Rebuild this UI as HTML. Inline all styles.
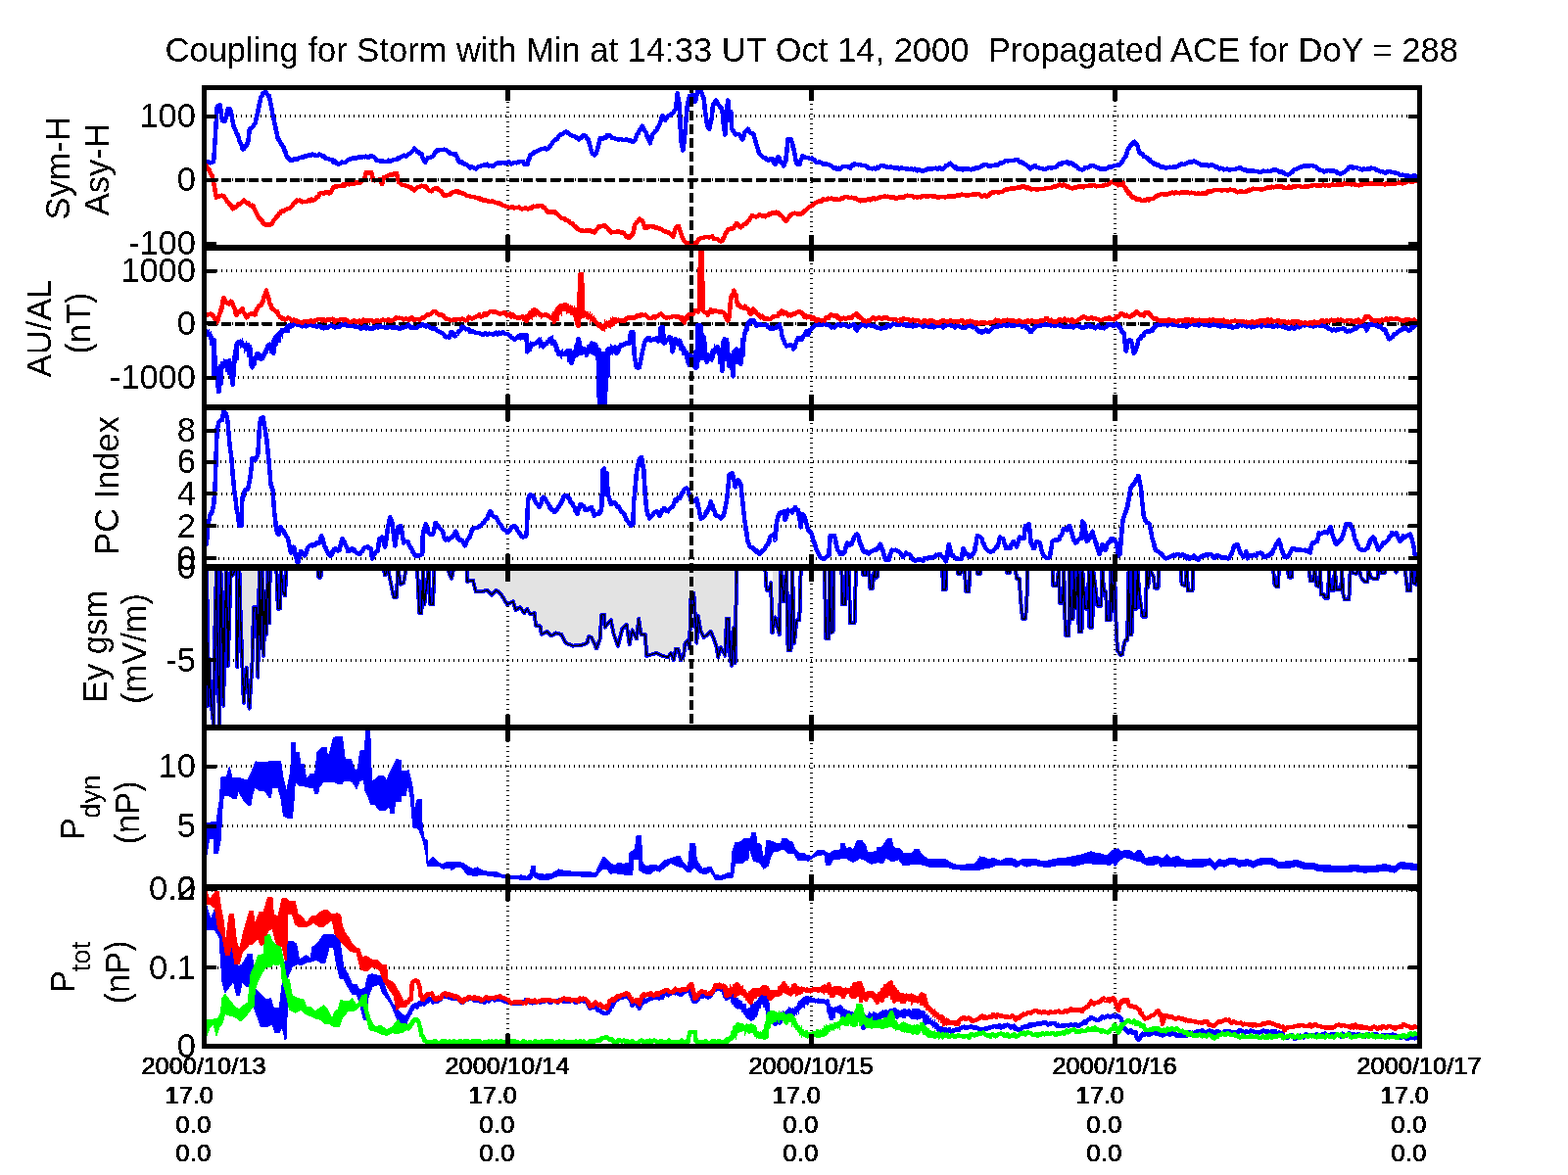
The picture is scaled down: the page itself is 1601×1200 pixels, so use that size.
<!DOCTYPE html><html><head><meta charset="utf-8"><title>Coupling for Storm</title><style>html,body{margin:0;padding:0;background:#fff;overflow:hidden}svg{display:block}text{font-family:'Liberation Sans',Arial,Helvetica,sans-serif;fill:#000}</style></head><body>
<svg width="1601" height="1200" viewBox="0 0 1601 1200">
<rect x="0" y="0" width="1601" height="1200" fill="#fff"/>
<filter id="bin0" filterUnits="userSpaceOnUse" x="0" y="0" width="1601" height="1200"><feComponentTransfer><feFuncA type="discrete" tableValues="0 1"/></feComponentTransfer></filter><g filter="url(#bin0)"><text x="168.5" y="62.5" font-size="34.5" style="white-space:pre" textLength="1320.5" lengthAdjust="spacingAndGlyphs">Coupling for Storm with Min at 14:33 UT Oct 14, 2000  Propagated ACE for DoY = 288</text></g>
<line x1="211.0" y1="183.5" x2="1447.0" y2="183.5" stroke="#000" stroke-width="3" stroke-dasharray="1 4" stroke-dashoffset="4" shape-rendering="crispEdges"/>
<line x1="211.0" y1="118.5" x2="1447.0" y2="118.5" stroke="#000" stroke-width="3" stroke-dasharray="1 4" stroke-dashoffset="0" shape-rendering="crispEdges"/>
<line x1="518.5" y1="250.0" x2="518.5" y2="92.0" stroke="#000" stroke-width="3" stroke-dasharray="1 4" stroke-dashoffset="0" shape-rendering="crispEdges"/>
<line x1="828.5" y1="250.0" x2="828.5" y2="92.0" stroke="#000" stroke-width="3" stroke-dasharray="1 4" stroke-dashoffset="2" shape-rendering="crispEdges"/>
<line x1="1138.5" y1="250.0" x2="1138.5" y2="92.0" stroke="#000" stroke-width="3" stroke-dasharray="1 4" stroke-dashoffset="4" shape-rendering="crispEdges"/>
<line x1="211.0" y1="385.5" x2="1447.0" y2="385.5" stroke="#000" stroke-width="3" stroke-dasharray="1 4" stroke-dashoffset="3" shape-rendering="crispEdges"/>
<line x1="211.0" y1="330" x2="1447.0" y2="330" stroke="#000" stroke-width="3" stroke-dasharray="1 4" stroke-dashoffset="4" shape-rendering="crispEdges"/>
<line x1="211.0" y1="276.5" x2="1447.0" y2="276.5" stroke="#000" stroke-width="3" stroke-dasharray="1 4" stroke-dashoffset="0" shape-rendering="crispEdges"/>
<line x1="518.5" y1="413.0" x2="518.5" y2="256.0" stroke="#000" stroke-width="3" stroke-dasharray="1 4" stroke-dashoffset="0" shape-rendering="crispEdges"/>
<line x1="828.5" y1="413.0" x2="828.5" y2="256.0" stroke="#000" stroke-width="3" stroke-dasharray="1 4" stroke-dashoffset="2" shape-rendering="crispEdges"/>
<line x1="1138.5" y1="413.0" x2="1138.5" y2="256.0" stroke="#000" stroke-width="3" stroke-dasharray="1 4" stroke-dashoffset="4" shape-rendering="crispEdges"/>
<line x1="211.0" y1="570" x2="1447.0" y2="570" stroke="#000" stroke-width="3" stroke-dasharray="1 4" stroke-dashoffset="3" shape-rendering="crispEdges"/>
<line x1="211.0" y1="537" x2="1447.0" y2="537" stroke="#000" stroke-width="3" stroke-dasharray="1 4" stroke-dashoffset="4" shape-rendering="crispEdges"/>
<line x1="211.0" y1="504" x2="1447.0" y2="504" stroke="#000" stroke-width="3" stroke-dasharray="1 4" stroke-dashoffset="0" shape-rendering="crispEdges"/>
<line x1="211.0" y1="471.5" x2="1447.0" y2="471.5" stroke="#000" stroke-width="3" stroke-dasharray="1 4" stroke-dashoffset="1" shape-rendering="crispEdges"/>
<line x1="211.0" y1="439.5" x2="1447.0" y2="439.5" stroke="#000" stroke-width="3" stroke-dasharray="1 4" stroke-dashoffset="2" shape-rendering="crispEdges"/>
<line x1="518.5" y1="576.0" x2="518.5" y2="419.0" stroke="#000" stroke-width="3" stroke-dasharray="1 4" stroke-dashoffset="0" shape-rendering="crispEdges"/>
<line x1="828.5" y1="576.0" x2="828.5" y2="419.0" stroke="#000" stroke-width="3" stroke-dasharray="1 4" stroke-dashoffset="2" shape-rendering="crispEdges"/>
<line x1="1138.5" y1="576.0" x2="1138.5" y2="419.0" stroke="#000" stroke-width="3" stroke-dasharray="1 4" stroke-dashoffset="4" shape-rendering="crispEdges"/>
<line x1="211.0" y1="674" x2="1447.0" y2="674" stroke="#000" stroke-width="3" stroke-dasharray="1 4" stroke-dashoffset="3" shape-rendering="crispEdges"/>
<line x1="518.5" y1="740.0" x2="518.5" y2="583.0" stroke="#000" stroke-width="3" stroke-dasharray="1 4" stroke-dashoffset="0" shape-rendering="crispEdges"/>
<line x1="828.5" y1="740.0" x2="828.5" y2="583.0" stroke="#000" stroke-width="3" stroke-dasharray="1 4" stroke-dashoffset="2" shape-rendering="crispEdges"/>
<line x1="1138.5" y1="740.0" x2="1138.5" y2="583.0" stroke="#000" stroke-width="3" stroke-dasharray="1 4" stroke-dashoffset="4" shape-rendering="crispEdges"/>
<line x1="211.0" y1="843.5" x2="1447.0" y2="843.5" stroke="#000" stroke-width="3" stroke-dasharray="1 4" stroke-dashoffset="4" shape-rendering="crispEdges"/>
<line x1="211.0" y1="782.5" x2="1447.0" y2="782.5" stroke="#000" stroke-width="3" stroke-dasharray="1 4" stroke-dashoffset="0" shape-rendering="crispEdges"/>
<line x1="518.5" y1="903.0" x2="518.5" y2="746.0" stroke="#000" stroke-width="3" stroke-dasharray="1 4" stroke-dashoffset="0" shape-rendering="crispEdges"/>
<line x1="828.5" y1="903.0" x2="828.5" y2="746.0" stroke="#000" stroke-width="3" stroke-dasharray="1 4" stroke-dashoffset="2" shape-rendering="crispEdges"/>
<line x1="1138.5" y1="903.0" x2="1138.5" y2="746.0" stroke="#000" stroke-width="3" stroke-dasharray="1 4" stroke-dashoffset="4" shape-rendering="crispEdges"/>
<line x1="211.0" y1="988" x2="1447.0" y2="988" stroke="#000" stroke-width="3" stroke-dasharray="1 4" stroke-dashoffset="4" shape-rendering="crispEdges"/>
<line x1="518.5" y1="1066.0" x2="518.5" y2="909.0" stroke="#000" stroke-width="3" stroke-dasharray="1 4" stroke-dashoffset="0" shape-rendering="crispEdges"/>
<line x1="828.5" y1="1066.0" x2="828.5" y2="909.0" stroke="#000" stroke-width="3" stroke-dasharray="1 4" stroke-dashoffset="2" shape-rendering="crispEdges"/>
<line x1="1138.5" y1="1066.0" x2="1138.5" y2="909.0" stroke="#000" stroke-width="3" stroke-dasharray="1 4" stroke-dashoffset="4" shape-rendering="crispEdges"/>
<line x1="211.0" y1="909" x2="1447.0" y2="909" stroke="#000" stroke-width="3" stroke-dasharray="1 4" shape-rendering="crispEdges"/>
<defs>
<clipPath id="c0"><rect x="211.0" y="92.0" width="1236.0" height="158.0"/></clipPath>
<clipPath id="c1"><rect x="211.0" y="256.0" width="1236.0" height="157.0"/></clipPath>
<clipPath id="c2"><rect x="211.0" y="419.0" width="1236.0" height="157.0"/></clipPath>
<clipPath id="c3"><rect x="211.0" y="583.0" width="1236.0" height="157.0"/></clipPath>
<clipPath id="c4"><rect x="211.0" y="746.0" width="1236.0" height="157.0"/></clipPath>
<clipPath id="c5"><rect x="211.0" y="909.0" width="1236.0" height="157.0"/></clipPath>
</defs>
<g clip-path="url(#c0)" shape-rendering="crispEdges">
<path d="M210.8,165.9 L212.7,165.0 L214.5,166.3 L216.3,165.9 L218.1,165.2 L218.2,163.2 L218.3,162.1 L218.4,160.4 L218.5,159.3 L218.6,158.0 L218.8,155.0 L218.9,153.3 L219.0,153.4 L219.1,151.0 L219.2,150.1 L219.3,147.0 L219.4,146.4 L219.5,145.3 L219.6,143.3 L219.7,141.3 L219.8,141.2 L219.9,139.6 L220.0,136.3 L220.1,134.8 L220.2,134.3 L220.2,133.6 L220.3,130.9 L220.4,129.1 L220.5,128.0 L220.6,125.7 L220.7,124.5 L220.8,123.4 L220.9,122.0 L221.0,120.0 L221.1,118.4 L221.2,116.9 L221.3,115.9 L221.4,114.0 L221.5,111.9 L221.6,112.1 L221.7,110.0 L221.8,108.3 L223.2,107.9 L224.7,106.9 L224.9,107.9 L225.1,111.1 L225.3,112.4 L225.6,112.5 L225.8,114.6 L226.0,116.9 L226.2,118.5 L226.4,120.6 L226.7,121.2 L226.9,122.9 L228.3,123.9 L229.8,123.6 L230.2,122.4 L230.5,120.2 L230.9,119.2 L231.3,118.2 L231.6,116.6 L232.0,114.4 L232.3,113.0 L232.7,111.3 L234.2,111.0 L235.6,112.7 L235.9,113.8 L236.2,116.5 L236.5,117.4 L236.8,118.5 L237.1,120.8 L237.4,122.7 L237.7,124.3 L238.0,125.3 L238.3,127.0 L238.5,128.8 L239.2,130.2 L239.8,132.2 L240.4,133.2 L241.0,134.4 L241.7,136.0 L242.3,136.6 L242.9,139.0 L243.5,139.6 L244.1,142.4 L244.6,144.5 L245.2,145.3 L245.8,146.4 L246.3,147.5 L246.9,149.7 L247.5,152.2 L248.0,152.8 L249.0,152.0 L250.1,150.3 L251.1,149.6 L252.1,147.0 L253.1,146.3 L253.3,144.6 L253.5,143.9 L253.7,141.5 L253.9,139.6 L254.0,137.6 L254.2,136.5 L254.4,135.7 L254.6,133.1 L255.6,130.9 L256.5,131.3 L257.5,130.1 L258.5,129.0 L259.4,127.5 L260.4,125.8 L260.8,125.0 L261.1,123.0 L261.5,121.6 L261.9,119.9 L262.2,117.7 L262.6,117.8 L263.0,115.8 L263.3,114.2 L263.7,111.9 L264.0,110.9 L264.3,109.3 L264.6,107.4 L265.0,105.8 L265.3,104.5 L265.6,103.1 L265.9,101.4 L266.3,99.6 L267.3,98.0 L268.4,95.7 L269.5,94.7 L270.6,93.8 L271.7,94.2 L272.8,96.1 L273.9,97.8 L275.0,98.1 L275.3,100.3 L275.6,101.9 L275.9,103.6 L276.2,104.1 L276.5,106.8 L276.8,108.1 L277.0,108.5 L277.3,110.0 L277.6,111.6 L277.9,114.2 L278.2,116.2 L278.6,116.7 L278.9,118.0 L279.2,120.6 L279.5,121.6 L279.9,122.5 L280.2,124.3 L280.5,126.5 L280.8,127.4 L281.2,129.1 L281.5,131.5 L281.8,132.5 L282.1,133.8 L282.5,135.7 L282.8,136.3 L283.1,138.6 L283.4,140.2 L283.8,141.9 L284.8,142.7 L285.8,144.0 L286.8,147.1 L287.8,147.7 L288.9,149.2 L289.4,150.0 L289.9,152.3 L290.4,154.2 L290.9,154.0 L291.5,155.5 L292.0,157.2 L292.5,159.4 L293.6,160.9 L294.7,160.9 L295.8,163.1 L296.9,163.8 L298.3,163.7 L299.8,163.0 L301.3,161.9 L302.7,163.0 L304.2,162.3 L305.6,161.3 L307.1,160.8 L308.5,159.9 L310.0,160.4 L311.5,159.5 L312.9,159.5 L314.4,158.7 L315.8,158.6 L317.5,158.8 L319.2,157.6 L320.8,157.9 L322.5,159.2 L324.2,158.9 L325.8,157.6 L327.5,157.9 L329.0,159.5 L330.4,159.2 L331.9,161.3 L333.3,161.8 L334.8,162.0 L336.3,163.0 L337.7,163.2 L339.2,163.3 L340.6,165.7 L342.1,164.6 L343.5,166.8 L345.0,167.7 L346.5,167.4 L347.9,166.9 L349.4,165.5 L350.8,166.2 L352.3,165.8 L353.8,164.6 L355.2,163.6 L356.7,162.7 L358.1,162.3 L359.7,161.8 L361.3,161.3 L362.8,162.0 L364.4,161.3 L366.0,160.6 L367.6,160.2 L369.1,161.1 L370.7,160.1 L372.3,160.3 L373.8,159.7 L375.4,160.6 L377.0,160.4 L378.5,159.4 L380.0,159.2 L381.5,160.4 L382.9,161.5 L384.4,163.7 L385.8,164.1 L387.3,164.1 L388.8,165.2 L390.4,164.4 L392.0,165.1 L393.6,165.2 L395.2,165.1 L396.9,163.7 L398.5,164.5 L400.1,163.9 L401.7,163.2 L403.3,163.0 L405.0,163.3 L406.7,161.0 L408.3,161.3 L410.0,160.1 L411.5,158.9 L412.9,158.7 L414.4,159.8 L415.8,158.6 L417.3,156.9 L418.8,156.7 L420.2,155.0 L421.2,154.0 L422.2,153.3 L423.1,151.4 L424.1,152.3 L425.1,153.5 L426.0,155.0 L427.5,155.3 L429.0,157.2 L430.4,157.2 L431.0,158.9 L431.6,161.0 L432.2,162.3 L432.8,162.3 L433.5,164.6 L434.1,165.9 L435.0,163.9 L435.9,162.5 L436.8,161.3 L437.7,160.8 L439.2,161.1 L440.6,160.4 L442.1,159.4 L443.0,158.6 L443.9,156.1 L444.8,155.2 L445.7,153.5 L447.4,153.9 L449.0,152.9 L450.7,153.1 L452.3,152.8 L453.8,152.7 L455.2,152.9 L456.7,154.3 L458.1,154.8 L459.6,157.0 L461.0,157.2 L463.2,157.3 L465.4,157.2 L466.0,159.5 L466.6,160.0 L467.2,161.1 L467.8,163.6 L468.3,164.5 L469.8,165.9 L471.3,165.0 L472.7,166.7 L474.2,167.9 L475.6,167.7 L477.1,168.6 L478.5,170.3 L480.0,171.4 L481.5,170.1 L482.9,170.9 L484.4,171.8 L485.8,172.4 L487.3,170.9 L488.8,169.9 L490.2,170.3 L491.7,169.1 L493.1,168.7 L494.6,169.2 L496.0,168.1 L497.5,167.7 L499.0,169.7 L500.4,169.0 L501.9,169.6 L503.3,169.8 L504.8,168.9 L506.3,167.0 L507.7,166.7 L509.5,166.2 L511.4,166.6 L513.2,165.9 L515.0,166.7 L516.8,167.0 L518.5,165.7 L520.3,165.7 L522.0,167.6 L523.8,166.7 L525.5,166.0 L527.3,166.3 L529.0,165.7 L530.8,165.1 L532.5,165.2 L534.0,165.1 L535.4,167.5 L536.9,168.3 L538.3,168.1 L538.8,167.6 L539.2,164.4 L539.6,163.2 L540.0,162.5 L540.4,161.8 L540.8,159.5 L541.3,157.9 L542.7,157.6 L544.2,156.8 L545.6,155.2 L547.1,155.1 L548.5,154.3 L550.0,153.3 L551.5,152.7 L552.9,151.8 L554.4,152.1 L556.3,151.4 L558.3,152.6 L560.2,151.4 L561.1,149.9 L562.0,149.0 L562.8,147.7 L563.7,147.0 L564.6,144.8 L566.0,143.6 L567.5,142.5 L569.0,141.9 L569.9,140.1 L570.9,138.6 L571.9,137.5 L573.3,137.5 L574.8,136.8 L576.3,134.9 L577.7,134.6 L579.2,135.1 L580.6,136.4 L582.1,137.4 L583.5,138.3 L585.0,139.0 L586.5,139.4 L587.9,139.8 L589.4,141.2 L590.8,142.6 L592.3,140.7 L593.8,140.5 L595.2,138.5 L596.7,138.2 L597.8,138.7 L598.9,141.1 L600.0,141.6 L601.0,143.3 L601.4,145.4 L601.8,146.2 L602.1,148.4 L602.5,148.5 L602.9,150.6 L603.2,152.7 L603.6,152.7 L604.0,155.0 L604.9,157.1 L605.9,156.8 L606.9,158.6 L607.9,157.5 L608.8,156.2 L609.8,153.5 L610.2,152.6 L610.5,150.1 L610.9,148.1 L611.3,147.4 L611.6,146.6 L612.0,143.8 L612.3,143.5 L612.7,141.1 L614.2,140.8 L615.6,141.9 L617.2,140.4 L618.6,140.5 L620.1,138.0 L621.6,138.2 L623.3,138.8 L625.0,141.0 L626.7,141.1 L628.5,141.9 L630.3,142.3 L632.1,142.4 L634.0,141.9 L635.8,142.7 L637.6,143.0 L639.4,142.3 L641.3,143.3 L642.7,143.7 L644.2,143.6 L645.6,144.8 L647.1,144.5 L648.5,143.3 L649.1,142.0 L649.6,139.6 L650.2,137.5 L650.7,136.8 L651.6,136.4 L652.4,134.7 L653.3,132.9 L654.1,131.5 L655.0,130.8 L655.8,128.8 L656.6,130.1 L657.3,131.5 L658.0,132.8 L658.8,134.1 L659.5,135.1 L660.2,137.5 L660.8,139.3 L661.4,140.3 L662.0,142.0 L662.6,142.5 L663.2,144.5 L663.9,146.3 L664.2,144.1 L664.6,142.6 L664.9,141.4 L665.3,141.1 L665.7,138.8 L666.0,137.5 L667.1,136.2 L668.2,135.5 L669.3,133.7 L670.4,133.1 L671.1,130.7 L671.9,130.3 L672.6,128.8 L673.3,127.3 L673.8,126.0 L674.3,124.0 L674.8,122.9 L675.3,121.4 L675.8,118.9 L676.3,117.8 L677.2,119.5 L678.2,121.2 L679.2,122.9 L680.1,120.9 L681.1,119.8 L682.1,118.5 L683.5,117.7 L685.0,117.4 L686.5,115.6 L687.7,115.0 L688.9,112.3 L690.1,111.3 L690.3,109.9 L690.4,107.1 L690.5,105.6 L690.7,104.9 L690.8,104.0 L691.0,100.9 L691.1,100.6 L691.3,99.2 L691.4,96.4 L691.6,95.2 L691.9,97.3 L692.2,99.2 L692.5,100.0 L692.8,102.3 L693.1,104.0 L693.4,105.4 L693.8,106.9 L693.8,109.1 L693.9,110.7 L693.9,112.4 L694.0,113.1 L694.1,113.8 L694.1,115.5 L694.2,116.9 L694.2,119.2 L694.3,121.1 L694.4,121.2 L694.4,123.9 L694.5,125.5 L694.5,126.3 L694.6,128.2 L694.7,129.0 L694.7,131.6 L694.8,131.8 L694.8,135.2 L694.9,136.4 L695.0,137.5 L695.0,138.3 L695.1,141.1 L695.1,142.7 L695.2,143.3 L695.6,144.3 L695.9,147.3 L696.3,149.1 L696.7,150.5 L697.0,152.2 L697.4,153.5 L697.6,151.9 L697.8,151.2 L697.9,149.7 L698.1,147.0 L698.3,146.2 L698.5,143.9 L698.7,141.8 L698.9,140.6 L699.0,138.6 L699.2,138.6 L699.4,137.1 L699.6,134.6 L699.7,132.3 L699.8,131.7 L699.9,129.8 L700.1,127.7 L700.2,126.5 L700.3,124.8 L700.4,124.3 L700.6,121.3 L700.7,120.1 L700.8,119.1 L700.9,116.7 L701.0,116.4 L701.2,114.8 L701.3,113.7 L701.4,110.9 L701.5,109.5 L701.7,108.5 L701.8,106.9 L702.1,105.0 L702.5,104.1 L702.9,102.0 L703.2,101.4 L703.6,100.2 L704.0,98.1 L705.4,98.0 L706.9,96.7 L707.5,99.1 L708.0,99.7 L708.6,101.0 L709.2,103.2 L709.8,104.0 L710.2,103.0 L710.5,101.2 L710.9,99.4 L711.3,97.7 L711.6,95.9 L712.0,95.8 L712.3,93.0 L712.7,92.3 L715.6,92.3 L716.2,94.2 L716.8,95.3 L717.4,97.6 L718.0,98.6 L718.5,99.6 L718.7,102.2 L718.9,102.1 L719.0,104.4 L719.2,106.2 L719.4,107.3 L719.5,109.3 L719.7,110.6 L719.8,112.6 L720.0,114.2 L720.2,114.8 L720.5,117.3 L720.7,118.9 L721.0,120.3 L721.2,122.1 L721.5,124.5 L721.7,125.9 L721.9,127.1 L722.2,128.8 L723.3,130.5 L724.4,131.7 L724.7,129.7 L725.1,127.7 L725.5,125.6 L725.8,124.4 L726.2,123.4 L726.6,121.5 L726.7,120.6 L726.9,118.9 L727.1,116.6 L727.2,116.0 L727.4,113.3 L727.5,112.4 L727.7,109.9 L727.9,109.0 L728.0,106.9 L729.0,106.4 L730.0,103.6 L730.9,102.5 L731.9,103.3 L732.8,105.7 L733.7,106.9 L734.6,108.3 L735.6,109.5 L736.5,110.3 L737.5,112.7 L737.6,114.1 L737.8,115.8 L737.9,117.3 L738.1,119.8 L738.2,120.9 L738.4,122.8 L738.5,124.7 L738.7,126.0 L738.8,127.1 L739.0,128.8 L739.3,131.0 L739.5,132.5 L739.8,134.3 L740.1,136.0 L740.4,137.5 L740.5,135.8 L740.6,134.6 L740.7,133.1 L740.8,132.2 L740.9,130.3 L741.0,128.9 L741.1,127.1 L741.2,125.7 L741.3,123.7 L741.4,121.6 L741.5,119.9 L741.6,119.3 L741.7,118.0 L741.8,115.8 L741.9,114.2 L742.1,111.8 L742.3,111.5 L742.5,109.1 L742.7,107.4 L742.9,104.9 L743.1,104.2 L743.3,102.5 L743.5,104.6 L743.6,105.5 L743.7,107.0 L743.8,109.1 L743.9,109.4 L744.1,112.0 L744.2,114.5 L744.3,115.5 L744.4,116.5 L744.6,118.7 L744.7,120.1 L744.8,121.5 L745.2,119.1 L745.5,117.2 L745.9,116.8 L746.3,114.2 L746.3,115.3 L746.4,116.5 L746.5,119.6 L746.5,120.6 L746.6,121.9 L746.7,123.8 L746.8,125.9 L746.8,126.3 L746.9,128.9 L747.0,130.2 L747.7,132.1 L748.4,133.8 L749.2,134.1 L749.9,136.3 L750.6,137.5 L752.8,137.0 L755.0,137.5 L756.0,139.3 L756.9,140.2 L757.9,142.6 L758.5,141.6 L759.1,140.1 L759.7,137.5 L760.3,135.6 L760.8,134.6 L762.3,134.1 L763.8,131.7 L764.7,133.5 L765.7,135.3 L766.7,136.0 L768.1,135.8 L769.6,137.5 L770.0,139.8 L770.4,140.7 L770.8,141.5 L771.3,143.2 L771.7,145.3 L772.1,146.8 L772.5,147.7 L773.0,148.5 L773.5,150.9 L774.0,151.4 L774.4,154.5 L774.9,154.9 L775.4,156.5 L776.5,158.4 L777.6,159.1 L778.7,160.0 L779.8,160.8 L781.3,161.3 L782.7,162.8 L784.2,163.8 L785.6,162.5 L787.1,162.1 L788.5,162.3 L789.3,164.2 L790.0,164.9 L790.7,167.2 L791.5,168.1 L792.0,166.0 L792.6,165.4 L793.2,163.8 L793.8,161.3 L794.4,160.1 L795.4,161.0 L796.3,163.3 L797.3,165.2 L798.3,166.7 L799.2,167.3 L800.2,169.6 L800.8,167.5 L801.3,165.8 L801.9,165.4 L802.4,163.8 L802.6,163.0 L802.7,160.1 L802.9,158.1 L803.0,157.9 L803.2,156.6 L803.3,155.3 L803.5,153.0 L803.6,150.9 L803.8,150.4 L804.0,147.4 L804.1,146.9 L804.3,144.2 L804.4,143.2 L804.6,141.9 L807.5,141.9 L807.9,143.3 L808.3,144.5 L808.8,145.6 L809.2,147.2 L809.6,149.8 L810.0,150.6 L810.4,152.1 L810.7,153.9 L811.1,154.7 L811.4,157.4 L811.7,158.2 L812.0,160.4 L812.4,162.6 L812.7,164.4 L813.0,164.1 L813.3,166.7 L814.8,168.0 L816.3,168.1 L816.7,167.4 L817.2,164.8 L817.7,163.5 L818.2,162.5 L818.7,161.7 L819.2,159.4 L820.6,159.9 L822.1,160.8 L824.4,160.8 L826.6,162.0 L828.8,161.6 L830.2,163.2 L831.7,163.1 L833.1,165.7 L834.6,165.9 L836.4,165.3 L838.2,166.0 L840.1,167.4 L841.9,167.4 L843.3,166.9 L844.8,168.0 L846.3,168.0 L847.7,169.1 L849.2,169.6 L850.6,171.2 L852.1,172.2 L853.5,171.4 L855.0,173.2 L856.5,171.6 L857.9,172.5 L859.4,171.0 L861.3,169.9 L863.3,170.1 L865.2,170.3 L866.7,170.3 L868.1,171.8 L869.2,169.9 L870.3,168.6 L871.4,168.8 L872.5,167.4 L874.4,168.1 L876.4,168.3 L878.3,168.1 L879.8,169.2 L881.3,169.2 L882.7,169.0 L884.2,169.6 L885.6,170.6 L887.1,172.0 L888.5,171.8 L890.5,172.3 L892.4,171.7 L894.4,172.5 L895.8,170.7 L897.3,171.5 L898.8,169.9 L900.2,168.9 L901.7,169.0 L903.1,169.9 L904.6,170.3 L906.0,170.7 L907.5,171.0 L909.3,170.3 L911.1,171.1 L913.0,171.4 L914.8,171.8 L916.6,171.2 L918.4,172.5 L920.3,171.6 L922.1,171.8 L923.8,172.2 L925.6,172.5 L927.3,172.7 L929.1,172.8 L930.8,172.5 L932.6,173.3 L934.3,172.6 L936.1,174.3 L937.8,173.0 L939.6,174.0 L941.3,174.7 L943.1,174.4 L944.8,174.2 L946.6,172.5 L948.3,173.2 L949.8,172.0 L951.3,173.1 L952.7,172.1 L954.2,171.8 L955.9,171.7 L957.7,173.0 L959.4,171.3 L961.2,172.4 L962.9,172.5 L964.4,171.2 L965.8,169.3 L967.3,168.9 L968.8,167.6 L970.2,166.7 L971.7,168.5 L973.1,169.6 L974.6,171.3 L976.0,170.6 L977.5,172.5 L979.3,172.7 L981.0,172.0 L982.8,173.5 L984.5,172.3 L986.3,173.2 L988.0,172.2 L989.8,172.7 L991.5,173.3 L993.3,172.3 L995.0,172.5 L996.5,171.2 L997.9,171.9 L999.4,171.4 L1000.8,170.9 L1002.3,169.6 L1003.8,168.7 L1005.2,168.5 L1006.7,168.1 L1008.1,168.3 L1009.6,169.7 L1011.0,170.3 L1012.5,169.4 L1014.0,168.9 L1015.4,169.2 L1016.9,168.1 L1018.3,168.7 L1019.8,167.6 L1021.3,166.2 L1022.7,166.7 L1024.2,166.0 L1025.6,164.6 L1027.1,163.8 L1029.0,164.7 L1030.8,163.8 L1032.4,164.0 L1034.0,164.1 L1035.6,163.7 L1037.3,163.2 L1038.9,163.0 L1040.1,164.7 L1041.4,165.5 L1042.7,165.3 L1044.0,166.7 L1045.4,166.7 L1046.9,167.9 L1048.3,168.9 L1049.5,170.1 L1050.8,170.5 L1052.0,172.5 L1053.2,171.2 L1054.4,170.7 L1055.6,169.6 L1057.1,169.2 L1058.5,171.2 L1060.0,171.0 L1061.6,171.9 L1063.3,171.8 L1064.9,172.3 L1066.6,173.2 L1068.3,172.2 L1070.0,171.4 L1071.7,171.0 L1073.6,171.5 L1075.6,171.0 L1077.5,171.0 L1079.0,169.9 L1080.4,167.9 L1081.9,167.4 L1083.3,167.9 L1084.8,166.3 L1086.3,166.0 L1087.7,165.9 L1089.5,165.3 L1091.4,167.3 L1093.2,166.4 L1095.0,166.7 L1096.5,168.5 L1097.9,169.5 L1099.4,169.6 L1100.8,171.7 L1102.3,172.6 L1103.8,173.2 L1105.2,173.4 L1106.7,172.6 L1108.1,171.0 L1110.3,171.3 L1112.5,170.3 L1114.3,168.9 L1116.1,168.9 L1118.0,170.0 L1119.8,171.0 L1121.5,171.5 L1123.3,172.6 L1125.0,172.5 L1126.8,172.6 L1128.5,172.5 L1130.0,172.3 L1131.5,170.8 L1132.9,170.3 L1134.7,170.8 L1136.6,169.9 L1138.4,169.0 L1140.2,168.9 L1141.7,168.1 L1143.1,168.4 L1144.6,166.7 L1145.7,165.3 L1146.8,163.1 L1147.9,161.6 L1149.0,160.8 L1149.4,159.8 L1149.9,158.0 L1150.4,157.3 L1150.9,154.4 L1151.4,153.4 L1151.9,152.1 L1153.1,151.1 L1154.3,148.3 L1155.5,147.7 L1157.0,145.4 L1158.4,144.8 L1159.4,146.3 L1160.4,147.2 L1161.4,149.2 L1161.8,149.8 L1162.2,151.6 L1162.7,153.8 L1163.1,155.1 L1163.5,156.5 L1165.0,156.5 L1166.5,157.4 L1167.9,159.8 L1169.4,160.2 L1170.8,160.8 L1171.9,161.3 L1173.0,163.7 L1174.1,163.2 L1175.2,165.2 L1176.7,165.7 L1178.1,167.4 L1179.6,167.4 L1181.0,168.5 L1182.5,168.4 L1184.0,169.6 L1185.7,170.7 L1187.5,170.4 L1189.2,171.2 L1191.0,171.5 L1192.7,171.0 L1194.5,170.7 L1196.4,171.0 L1198.2,170.6 L1200.0,170.3 L1201.5,170.5 L1202.9,169.5 L1204.4,168.6 L1205.8,167.4 L1207.8,167.8 L1209.7,167.9 L1211.7,166.7 L1213.1,165.7 L1214.6,165.2 L1216.0,165.8 L1217.5,165.5 L1219.0,164.5 L1220.4,165.2 L1221.9,165.9 L1223.3,166.5 L1224.8,167.4 L1226.3,168.5 L1227.7,168.7 L1229.2,168.7 L1230.6,168.9 L1232.3,167.9 L1233.9,169.6 L1235.5,168.8 L1237.1,168.2 L1238.8,168.9 L1240.2,169.4 L1241.7,171.1 L1243.1,170.6 L1244.6,172.5 L1246.3,171.7 L1248.1,172.1 L1249.8,173.3 L1251.6,173.0 L1253.3,172.5 L1255.3,173.7 L1257.2,173.1 L1259.2,173.2 L1260.6,172.9 L1262.1,172.5 L1263.5,172.0 L1265.0,171.6 L1266.5,171.0 L1267.9,172.4 L1269.4,173.4 L1270.8,173.0 L1272.3,174.2 L1273.8,174.7 L1275.7,174.3 L1277.6,174.3 L1279.6,174.7 L1281.3,174.8 L1283.1,175.2 L1284.8,175.2 L1286.6,176.2 L1288.3,175.4 L1290.3,174.5 L1292.2,175.2 L1294.2,174.7 L1296.0,175.3 L1297.8,174.4 L1299.6,173.7 L1301.5,173.2 L1302.9,173.4 L1304.4,173.9 L1305.8,175.4 L1307.3,175.8 L1308.8,175.4 L1310.2,176.3 L1311.7,177.4 L1313.1,178.0 L1314.6,178.4 L1316.0,178.3 L1317.2,177.1 L1318.4,176.2 L1319.5,175.9 L1320.7,174.0 L1321.9,173.2 L1323.3,173.1 L1324.8,172.0 L1326.3,171.2 L1327.7,170.8 L1329.2,170.3 L1331.0,169.4 L1332.8,169.7 L1334.6,169.6 L1336.5,169.6 L1338.3,168.8 L1340.1,169.3 L1341.9,169.7 L1343.8,170.3 L1345.2,172.2 L1346.7,172.9 L1348.1,174.0 L1350.1,173.8 L1352.0,175.4 L1354.0,174.7 L1355.8,174.0 L1357.6,174.4 L1359.4,174.6 L1361.3,174.0 L1362.7,175.1 L1364.2,175.3 L1365.6,176.7 L1367.1,176.8 L1368.5,177.6 L1370.0,177.1 L1371.5,175.8 L1372.9,175.8 L1374.4,174.0 L1375.8,173.2 L1377.3,170.7 L1378.8,170.3 L1380.2,169.9 L1381.7,172.0 L1383.1,170.9 L1384.6,170.8 L1386.0,171.6 L1387.5,172.5 L1389.3,172.5 L1391.0,173.4 L1392.8,172.3 L1394.5,172.9 L1396.3,172.5 L1398.1,173.0 L1399.9,171.3 L1401.7,172.2 L1403.5,171.8 L1405.0,173.7 L1406.5,173.7 L1407.9,174.6 L1409.4,175.4 L1411.2,175.1 L1413.0,176.3 L1414.8,176.4 L1416.7,175.4 L1418.5,174.8 L1420.3,175.9 L1422.1,175.8 L1424.0,176.1 L1425.4,177.2 L1426.9,176.8 L1428.3,177.9 L1429.8,179.1 L1431.6,178.6 L1433.4,179.0 L1435.3,179.7 L1437.1,179.1 L1438.8,179.9 L1440.6,179.9 L1442.3,179.9 L1444.1,178.8 L1445.8,179.8" fill="none" stroke="#0000ff" stroke-width="4.5" stroke-linejoin="round" stroke-linecap="round"/>
<path d="M210.8,169.6 L211.7,172.0 L212.5,173.4 L213.3,173.1 L214.2,174.6 L215.0,177.5 L215.8,178.8 L216.7,179.8 L217.0,181.7 L217.3,182.5 L217.6,184.7 L217.9,186.3 L218.2,187.8 L218.5,188.5 L218.9,190.6 L219.2,192.1 L219.5,194.3 L219.8,196.4 L220.1,197.9 L220.4,198.6 L220.7,200.0 L221.0,201.7 L222.9,200.8 L224.7,200.0 L226.5,199.6 L228.3,200.2 L229.3,201.5 L230.2,202.5 L231.2,203.9 L232.1,206.2 L233.1,206.8 L234.0,208.2 L235.0,208.9 L235.9,209.8 L236.9,211.7 L237.8,213.3 L239.0,211.6 L240.2,211.4 L241.5,211.4 L242.7,209.8 L243.9,207.8 L245.1,208.3 L246.3,207.1 L247.5,206.0 L248.8,204.6 L250.0,206.2 L251.3,206.8 L252.6,207.6 L253.9,207.6 L255.1,209.6 L256.4,210.4 L257.7,209.7 L259.0,211.1 L259.7,213.2 L260.4,214.7 L261.1,215.8 L261.9,217.5 L262.6,219.0 L263.3,220.6 L264.4,222.7 L265.4,223.1 L266.5,225.0 L267.5,225.3 L268.5,227.6 L269.6,228.9 L270.6,229.4 L272.6,229.3 L274.5,229.5 L276.5,229.4 L277.4,229.0 L278.3,227.4 L279.2,225.8 L280.2,224.0 L281.1,223.1 L282.0,222.6 L283.0,220.4 L283.9,220.6 L284.8,218.2 L285.7,218.3 L286.7,216.3 L288.1,215.2 L289.6,215.9 L291.0,214.8 L292.5,213.8 L294.0,213.2 L295.4,212.8 L296.9,211.9 L297.8,210.8 L298.8,209.1 L299.8,207.6 L300.8,207.0 L301.7,206.7 L302.7,204.6 L304.5,205.2 L306.4,204.5 L308.2,206.3 L310.0,206.0 L311.7,206.2 L313.3,206.2 L315.0,204.5 L316.7,205.3 L318.3,203.6 L320.0,204.5 L321.7,203.9 L322.8,202.1 L324.0,200.7 L325.2,200.7 L326.3,197.8 L327.5,197.3 L329.2,197.2 L330.9,197.8 L332.6,196.4 L334.3,196.2 L336.0,197.4 L337.7,196.6 L338.5,194.9 L339.2,194.0 L340.0,192.0 L341.6,190.6 L343.2,190.7 L344.9,189.8 L346.5,190.0 L348.2,189.9 L349.9,188.4 L351.6,189.7 L353.3,187.5 L355.0,188.0 L356.6,188.3 L358.1,186.8 L359.7,187.1 L361.3,188.1 L362.9,186.6 L364.4,186.5 L366.0,187.0 L367.5,186.6 L369.0,185.3 L370.5,183.8 L372.0,184.0 L372.4,183.4 L372.8,180.1 L373.2,178.3 L373.6,177.3 L374.0,176.0 L375.7,176.2 L377.3,176.5 L379.0,176.0 L379.4,176.8 L379.8,178.9 L380.2,179.9 L380.6,182.3 L381.0,184.0 L382.8,184.3 L384.5,184.0 L386.2,184.1 L388.0,183.0 L388.7,185.2 L389.3,187.1 L390.0,188.0 L390.5,186.7 L391.0,184.4 L391.5,182.2 L392.0,181.0 L393.5,180.8 L395.0,180.0 L396.7,179.3 L398.3,178.5 L400.0,179.0 L401.5,177.9 L403.0,177.0 L405.0,177.0 L405.3,179.2 L405.7,179.3 L406.0,181.7 L406.3,182.8 L406.7,184.5 L407.0,186.0 L408.7,186.3 L410.3,188.9 L412.0,189.0 L413.5,189.0 L415.0,190.2 L416.5,190.3 L418.0,191.0 L419.3,190.9 L420.6,192.8 L421.8,192.8 L423.1,194.4 L424.6,192.6 L426.0,191.6 L427.5,191.0 L429.0,190.7 L430.9,189.7 L432.8,190.5 L434.8,190.0 L435.9,191.3 L437.0,193.5 L438.1,194.7 L439.2,195.1 L440.6,195.4 L442.1,193.1 L443.5,192.8 L445.0,192.2 L446.5,192.4 L447.9,193.8 L449.4,194.6 L450.8,195.1 L451.8,197.4 L452.8,198.9 L453.8,200.2 L455.2,199.4 L456.7,199.3 L458.1,199.2 L459.6,198.8 L461.0,196.9 L462.5,196.0 L464.0,195.8 L465.4,195.1 L466.9,194.9 L468.3,196.6 L469.8,196.2 L471.3,197.3 L472.7,197.2 L474.2,198.1 L475.6,198.9 L477.1,200.2 L478.8,199.9 L480.6,200.8 L482.3,201.0 L484.1,201.0 L485.8,201.7 L487.3,202.3 L488.8,201.8 L490.2,203.6 L491.7,203.1 L493.1,204.6 L494.6,204.7 L496.0,204.6 L497.5,205.3 L499.3,205.6 L501.0,206.1 L502.8,205.3 L504.5,206.3 L506.3,206.8 L507.7,207.4 L509.2,207.2 L510.6,207.6 L512.1,209.0 L513.5,210.1 L515.0,209.8 L516.5,210.6 L517.9,211.1 L519.7,212.1 L521.4,211.7 L523.2,211.2 L524.9,212.7 L526.7,211.9 L528.5,212.0 L530.3,211.6 L532.1,213.3 L534.0,213.3 L535.8,212.4 L537.6,212.6 L539.4,213.5 L541.3,212.6 L542.7,212.5 L544.2,210.7 L545.6,211.1 L547.1,210.7 L548.7,210.5 L550.4,210.5 L552.0,209.9 L553.6,210.4 L554.7,211.7 L555.8,211.8 L556.9,213.3 L558.0,214.5 L559.1,216.8 L560.2,217.0 L562.2,215.9 L564.1,217.0 L566.0,216.3 L567.2,216.7 L568.4,218.4 L569.5,219.1 L570.7,220.3 L571.9,221.4 L573.3,222.8 L574.8,223.0 L576.3,223.3 L577.7,225.0 L579.2,225.0 L580.6,225.6 L582.1,227.9 L583.5,228.2 L585.0,228.6 L586.1,230.8 L587.2,231.6 L588.3,231.5 L589.4,233.8 L590.8,234.5 L592.3,235.2 L593.8,235.5 L595.2,235.5 L596.7,235.9 L598.6,235.4 L600.6,235.4 L602.5,235.2 L604.0,236.5 L605.4,236.2 L606.9,237.4 L607.8,236.1 L608.6,234.7 L609.5,234.4 L610.4,232.8 L611.3,230.8 L613.2,231.5 L615.1,231.0 L617.1,230.1 L618.2,230.8 L619.4,232.3 L620.5,233.0 L621.6,234.8 L622.7,235.6 L623.8,237.4 L625.6,236.9 L627.4,237.0 L629.2,237.1 L631.0,235.9 L632.5,236.6 L634.0,237.5 L635.4,237.4 L636.7,237.8 L638.0,239.4 L639.4,241.9 L640.7,241.4 L642.0,243.2 L643.2,242.1 L644.4,240.4 L645.6,240.3 L646.0,237.9 L646.5,238.0 L646.9,236.6 L647.3,234.4 L647.7,231.8 L648.1,230.5 L648.5,229.4 L649.6,227.4 L650.7,226.8 L651.8,225.4 L652.9,223.5 L654.4,224.5 L655.8,225.7 L656.4,227.2 L657.0,227.9 L657.6,230.2 L658.2,232.5 L658.8,233.0 L660.2,233.0 L661.7,231.1 L663.1,231.4 L664.6,230.8 L666.0,231.6 L667.5,231.1 L669.0,232.7 L670.4,232.3 L671.9,232.8 L673.3,233.8 L674.8,233.7 L676.3,234.5 L677.7,236.2 L679.2,236.5 L680.6,236.8 L682.1,237.4 L683.4,237.8 L684.6,239.5 L685.9,239.7 L687.2,241.8 L687.7,240.4 L688.2,239.4 L688.6,236.4 L689.1,235.5 L689.6,233.8 L690.1,232.3 L691.6,231.4 L693.0,230.8 L693.5,232.7 L693.9,234.6 L694.4,235.6 L694.8,236.6 L695.3,239.1 L695.8,239.2 L696.2,241.5 L696.7,242.5 L697.6,244.3 L698.6,245.9 L699.6,246.9 L701.0,248.3 L702.5,247.8 L704.0,249.3 L705.4,249.8 L706.9,249.1 L708.3,249.2 L709.8,248.3 L711.0,248.3 L712.1,246.6 L713.3,244.3 L714.5,244.2 L715.6,243.2 L717.1,243.2 L718.5,243.0 L720.0,241.8 L721.9,242.1 L723.9,242.4 L725.8,241.8 L727.3,241.4 L728.8,243.8 L730.2,243.9 L731.7,244.0 L733.1,244.7 L734.6,245.9 L736.0,246.4 L737.5,246.1 L738.2,243.7 L739.0,243.5 L739.7,241.8 L740.4,239.6 L741.4,237.3 L742.4,236.7 L743.3,234.5 L744.8,234.3 L746.3,233.1 L747.7,234.0 L749.2,233.0 L750.1,230.6 L751.1,229.8 L752.1,227.9 L753.2,228.9 L754.3,229.6 L755.4,231.3 L756.5,232.3 L757.9,231.0 L759.4,229.3 L760.8,228.6 L762.3,228.4 L763.8,225.4 L765.2,225.0 L766.2,222.3 L767.2,221.6 L768.1,219.9 L769.6,221.1 L771.0,221.2 L772.5,221.4 L774.0,220.8 L775.4,219.2 L776.9,219.7 L778.3,220.6 L779.8,220.5 L781.3,221.4 L782.7,220.2 L784.2,219.9 L785.6,218.2 L787.1,218.4 L788.9,217.2 L790.7,218.2 L792.6,216.7 L794.4,217.0 L795.5,218.6 L796.6,219.7 L797.7,220.1 L798.8,221.4 L799.8,222.8 L800.9,224.1 L802.0,225.4 L803.1,225.7 L804.0,223.7 L804.9,222.4 L805.8,221.6 L806.6,220.4 L807.5,219.2 L809.4,218.5 L811.4,217.7 L813.3,218.4 L815.3,218.3 L817.2,218.9 L819.2,217.7 L820.0,217.0 L821.5,215.5 L822.9,214.6 L824.4,213.3 L825.8,211.9 L827.3,210.8 L828.8,209.7 L830.2,209.5 L831.7,207.5 L833.1,207.3 L834.6,206.0 L836.0,205.6 L837.5,205.2 L839.0,205.6 L840.4,203.4 L841.9,203.9 L843.7,204.1 L845.5,202.7 L847.3,203.1 L849.2,202.4 L851.0,203.4 L852.8,203.4 L854.6,203.3 L856.5,203.9 L857.9,204.0 L859.4,201.9 L860.8,202.4 L862.3,201.3 L863.8,200.9 L865.7,201.2 L867.6,202.1 L869.6,201.7 L871.8,202.6 L874.0,202.4 L875.4,203.6 L876.9,204.0 L878.3,205.3 L880.3,204.5 L882.2,204.7 L884.2,204.6 L885.6,203.7 L887.1,203.4 L888.5,204.4 L890.0,203.1 L891.9,202.1 L893.9,203.3 L895.8,202.4 L897.3,201.8 L898.8,201.4 L900.2,200.9 L901.7,200.9 L903.4,200.2 L905.2,201.1 L906.9,200.7 L908.7,201.4 L910.4,201.7 L912.2,201.3 L913.9,202.5 L915.7,202.5 L917.4,201.6 L919.2,201.7 L920.9,201.7 L922.7,201.9 L924.4,200.4 L926.2,199.7 L927.9,200.2 L929.7,200.0 L931.4,200.2 L933.2,201.4 L934.9,201.1 L936.7,201.7 L938.5,201.0 L940.3,201.5 L942.1,200.0 L944.0,200.2 L945.8,200.8 L947.6,200.5 L949.4,200.0 L951.3,200.2 L953.0,201.0 L954.8,200.2 L956.5,201.4 L958.3,201.6 L960.0,200.9 L961.8,200.8 L963.5,201.0 L965.3,201.4 L967.0,200.8 L968.8,200.2 L970.5,200.6 L972.3,200.7 L974.0,200.6 L975.8,200.1 L977.5,199.5 L979.4,200.2 L981.4,198.6 L983.3,198.8 L985.3,199.2 L987.2,199.6 L989.2,199.5 L990.9,198.9 L992.7,198.7 L994.4,198.0 L996.2,199.2 L997.9,198.0 L999.4,198.3 L1000.8,199.1 L1002.3,200.5 L1003.8,200.2 L1005.7,199.3 L1007.6,200.6 L1009.6,199.5 L1011.0,197.8 L1012.5,196.6 L1014.0,196.6 L1015.8,196.1 L1017.6,195.9 L1019.4,196.9 L1021.3,195.8 L1022.7,196.1 L1024.2,195.3 L1025.6,194.1 L1027.1,193.6 L1029.0,193.4 L1030.8,192.9 L1032.8,192.1 L1034.7,193.1 L1036.7,192.2 L1038.4,191.7 L1040.1,191.3 L1041.8,191.7 L1043.5,190.5 L1045.2,190.6 L1046.9,190.7 L1048.3,192.3 L1049.8,191.4 L1051.3,192.2 L1052.7,193.6 L1054.5,193.1 L1056.4,193.2 L1058.2,193.5 L1060.0,193.6 L1061.9,192.9 L1063.9,192.8 L1065.8,192.9 L1067.8,192.2 L1069.7,191.9 L1071.7,192.2 L1073.1,192.0 L1074.6,191.0 L1076.0,190.6 L1077.5,191.0 L1079.0,190.0 L1080.8,188.8 L1082.6,188.6 L1084.4,189.6 L1086.3,188.5 L1087.7,189.1 L1089.2,190.6 L1090.6,190.0 L1092.1,191.5 L1093.5,192.2 L1095.4,192.5 L1097.2,191.1 L1099.0,191.6 L1100.8,190.7 L1102.6,190.8 L1104.3,190.2 L1106.1,191.3 L1107.8,189.9 L1109.6,190.0 L1111.5,189.7 L1113.5,189.8 L1115.4,189.3 L1117.4,189.1 L1119.3,190.4 L1121.3,190.0 L1123.2,190.0 L1125.1,189.7 L1127.1,189.3 L1128.5,188.7 L1130.0,189.0 L1131.5,188.4 L1132.9,187.5 L1134.4,186.1 L1135.8,185.6 L1137.3,186.4 L1138.8,187.5 L1140.2,187.5 L1141.7,189.3 L1143.1,187.5 L1144.6,188.3 L1146.0,186.4 L1146.8,186.9 L1147.5,189.9 L1148.2,190.7 L1149.0,192.5 L1149.7,192.2 L1150.4,194.4 L1151.4,195.2 L1152.4,197.4 L1153.3,197.0 L1154.3,198.5 L1155.3,200.2 L1156.3,201.7 L1157.7,201.6 L1159.2,202.1 L1160.6,203.6 L1162.1,203.9 L1163.9,203.2 L1165.7,205.2 L1167.6,204.7 L1169.4,204.6 L1171.2,203.3 L1173.0,204.7 L1174.8,203.0 L1176.7,203.1 L1178.1,202.2 L1179.6,201.4 L1181.0,199.7 L1182.5,199.5 L1184.3,199.2 L1186.0,198.0 L1187.8,198.0 L1189.5,199.2 L1191.3,198.0 L1192.7,198.3 L1194.2,197.3 L1195.6,197.3 L1197.1,196.6 L1198.9,197.5 L1200.7,196.2 L1202.6,197.1 L1204.4,197.3 L1206.1,196.6 L1207.8,196.5 L1209.5,196.5 L1211.2,196.7 L1212.9,196.4 L1214.6,197.3 L1216.3,196.7 L1218.1,197.1 L1219.8,197.5 L1221.6,198.0 L1223.3,197.3 L1225.0,198.1 L1226.7,197.7 L1228.3,197.3 L1230.0,197.3 L1231.5,197.6 L1232.9,195.6 L1234.4,195.0 L1235.8,196.0 L1237.3,195.1 L1238.8,194.4 L1240.5,193.8 L1242.3,194.1 L1244.0,194.0 L1245.8,194.2 L1247.5,194.4 L1249.3,194.1 L1251.0,193.9 L1252.8,194.5 L1254.5,194.4 L1256.3,193.6 L1257.7,194.1 L1259.2,194.3 L1260.6,194.3 L1262.1,195.6 L1263.5,196.4 L1265.0,195.8 L1266.8,195.1 L1268.5,196.0 L1270.3,195.8 L1272.0,195.6 L1273.8,195.1 L1275.2,193.7 L1276.7,194.3 L1278.1,193.2 L1279.6,192.7 L1281.0,192.9 L1282.7,193.1 L1284.4,193.2 L1286.1,193.2 L1287.8,193.4 L1289.5,193.3 L1291.3,192.9 L1292.7,192.4 L1294.2,191.1 L1295.6,192.2 L1297.1,191.8 L1298.5,190.7 L1300.4,191.4 L1302.2,190.9 L1304.0,189.8 L1305.8,190.7 L1307.7,190.5 L1309.5,190.7 L1311.3,192.1 L1313.1,192.2 L1314.6,191.8 L1316.0,190.7 L1317.5,191.8 L1319.0,191.4 L1320.4,190.0 L1322.1,190.9 L1323.8,190.1 L1325.4,189.9 L1327.1,189.8 L1328.8,191.2 L1330.4,191.0 L1332.1,190.7 L1333.8,190.0 L1335.6,191.0 L1337.3,190.0 L1339.1,189.4 L1340.8,189.3 L1342.6,189.1 L1344.3,189.7 L1346.1,189.2 L1347.8,189.6 L1349.6,189.3 L1351.3,188.5 L1353.1,189.7 L1354.8,188.8 L1356.6,190.1 L1358.3,189.3 L1360.0,188.6 L1361.7,188.7 L1363.4,189.0 L1365.1,188.6 L1366.8,188.7 L1368.5,188.5 L1370.4,189.0 L1372.2,187.2 L1374.0,188.0 L1375.8,187.1 L1377.7,187.8 L1379.5,188.4 L1381.3,188.1 L1383.1,188.5 L1385.3,188.8 L1387.5,189.3 L1389.3,188.6 L1391.1,188.5 L1393.0,187.7 L1394.8,187.8 L1396.6,187.2 L1398.4,187.8 L1400.3,187.2 L1402.1,187.8 L1403.8,187.8 L1405.6,188.0 L1407.3,187.4 L1409.1,187.2 L1410.8,187.8 L1412.6,187.9 L1414.3,188.4 L1416.1,187.0 L1417.8,187.7 L1419.6,187.4 L1421.4,187.6 L1423.2,188.0 L1425.1,187.5 L1426.9,187.1 L1428.7,186.6 L1430.5,186.4 L1432.3,187.5 L1434.2,186.8 L1436.1,186.0 L1438.1,185.0 L1440.0,185.6 L1441.9,186.1 L1443.9,184.5 L1445.8,184.9" fill="none" stroke="#ff0000" stroke-width="4.5" stroke-linejoin="round" stroke-linecap="round"/>
<line x1="208.5" y1="183.5" x2="1449.5" y2="183.5" stroke="#000" stroke-width="4" stroke-dasharray="10 4" stroke-dashoffset="10.5"/>
</g>
<g clip-path="url(#c1)" shape-rendering="crispEdges">
<line x1="208.5" y1="330.5" x2="1449.5" y2="330.5" stroke="#000" stroke-width="4" stroke-dasharray="10 4" stroke-dashoffset="10.5"/>
<path d="M210.8,338.2 L211.9,338.8 L213.0,340.9 L214.1,341.7 L215.2,343.3 L215.7,345.1 L216.2,346.6 L216.7,346.6 L217.2,347.9 L217.6,351.5 L218.1,352.1 L218.3,353.1 L218.4,354.6 L218.6,358.2 L218.8,358.5 L218.9,361.1 L219.1,361.7 L219.3,363.8 L219.4,364.1 L219.6,366.7 L219.7,368.6 L219.9,370.9 L220.1,371.6 L220.2,373.8 L220.4,375.2 L220.6,375.3 L220.7,378.7 L220.9,379.9 L221.0,381.3 L221.2,382.3 L221.4,383.2 L221.6,386.9 L221.8,387.5 L222.0,389.7 L222.1,391.7 L222.3,392.9 L222.5,395.0 L222.7,395.2 L222.9,397.8 L223.0,398.5 L223.2,400.2 L223.4,399.8 L223.6,398.0 L223.8,394.4 L224.0,392.9 L224.1,391.6 L224.3,391.9 L224.5,389.0 L224.7,387.9 L224.9,385.5 L225.1,384.4 L225.2,382.5 L225.4,381.3 L225.7,379.2 L225.9,378.1 L226.1,376.4 L226.4,375.5 L226.6,373.2 L226.9,371.0 L228.3,371.7 L229.8,371.0 L231.3,369.6 L232.7,370.1 L234.2,368.1 L234.3,370.2 L234.5,370.5 L234.7,374.0 L234.9,375.9 L235.1,377.4 L235.3,378.2 L235.4,380.2 L235.6,381.3 L235.9,382.2 L236.3,385.4 L236.6,386.4 L236.9,387.4 L237.2,388.5 L237.5,392.2 L237.8,392.9 L237.9,392.6 L238.0,388.7 L238.1,389.0 L238.2,386.5 L238.3,384.2 L238.4,383.1 L238.5,382.7 L238.6,381.4 L238.7,377.7 L238.8,377.7 L238.9,374.6 L239.0,374.8 L239.1,372.3 L239.2,372.1 L239.3,369.6 L239.5,369.2 L239.7,366.4 L239.9,366.1 L240.1,362.7 L240.3,360.5 L240.5,360.3 L240.7,357.2 L240.9,356.1 L241.1,355.0 L241.3,354.0 L241.5,352.1 L242.9,349.7 L244.4,349.2 L245.8,348.7 L247.3,350.6 L248.3,353.0 L249.2,353.1 L250.2,355.0 L251.7,354.7 L253.1,352.1 L254.2,354.6 L255.3,355.0 L255.5,356.3 L255.7,358.0 L255.8,359.8 L256.0,361.7 L256.2,363.1 L256.3,364.6 L256.5,366.3 L256.7,368.7 L256.8,369.2 L257.0,370.5 L257.2,372.9 L257.3,373.2 L257.5,375.4 L257.9,373.4 L258.3,373.7 L258.8,371.1 L259.2,369.7 L259.6,366.9 L260.0,366.4 L260.4,365.2 L261.4,364.0 L262.4,361.0 L263.3,360.8 L264.1,362.6 L264.8,364.1 L265.5,364.1 L266.3,366.7 L267.3,365.5 L268.4,363.7 L269.5,362.8 L270.6,360.8 L271.2,359.0 L271.8,358.5 L272.4,357.1 L273.0,353.8 L273.5,353.5 L275.0,351.7 L276.5,352.1 L276.9,354.0 L277.4,356.2 L277.9,355.8 L278.4,357.8 L278.9,359.6 L279.4,360.8 L279.5,358.8 L279.7,357.3 L279.8,355.5 L280.0,354.1 L280.1,353.1 L280.3,350.7 L280.4,349.3 L280.5,348.7 L280.7,345.2 L280.8,344.8 L282.3,343.5 L283.8,341.9 L285.2,341.0 L286.7,339.0 L288.1,338.0 L289.6,337.3 L291.0,337.5 L292.0,336.8 L293.0,333.9 L294.0,333.1 L295.4,331.9 L296.9,332.2 L298.3,332.5 L299.8,331.7 L301.6,330.8 L303.4,331.6 L305.3,331.8 L307.1,332.4 L308.9,333.3 L310.7,332.2 L312.6,333.3 L314.4,332.4 L316.2,331.5 L318.0,332.0 L319.8,332.8 L321.7,332.4 L323.1,333.9 L324.6,333.2 L326.0,333.1 L327.5,333.4 L329.0,334.9 L330.4,335.3 L331.9,334.0 L333.3,335.0 L334.8,334.6 L336.3,333.1 L338.1,332.5 L339.9,332.9 L341.7,334.5 L343.5,333.9 L345.0,333.8 L346.5,333.8 L347.9,332.1 L349.4,331.1 L350.8,331.7 L352.7,331.5 L354.5,333.2 L356.3,332.2 L358.1,333.1 L360.0,332.9 L361.8,333.3 L363.6,333.5 L365.4,333.9 L366.9,334.1 L368.3,335.9 L369.8,335.3 L371.3,334.1 L372.7,333.3 L374.2,335.4 L375.6,333.9 L377.1,335.6 L378.5,335.3 L380.0,336.0 L381.5,334.0 L382.9,334.8 L384.4,333.1 L386.2,334.4 L388.0,332.8 L389.8,334.3 L391.7,333.9 L393.4,334.9 L395.2,334.6 L396.9,334.3 L398.7,333.9 L400.4,334.6 L402.2,334.5 L404.1,334.6 L405.9,334.6 L407.7,336.0 L409.2,335.7 L410.6,334.3 L412.1,334.3 L414.0,334.2 L415.8,332.4 L417.3,331.8 L418.8,334.5 L420.2,334.5 L421.7,334.6 L423.1,335.3 L424.6,334.9 L426.0,334.5 L427.5,333.1 L429.4,333.1 L431.4,331.4 L433.3,332.4 L434.8,333.6 L436.3,332.6 L437.7,333.5 L439.2,334.6 L440.6,335.4 L442.1,335.4 L443.5,335.5 L445.0,336.0 L446.5,338.2 L447.9,338.3 L449.4,339.0 L450.8,339.8 L452.3,340.7 L453.8,342.6 L455.2,344.3 L456.7,344.0 L458.1,344.8 L458.9,344.1 L459.6,341.5 L460.3,339.6 L461.0,339.0 L462.3,340.5 L463.5,342.7 L464.7,343.3 L465.6,341.2 L466.5,341.5 L467.4,340.6 L468.3,338.2 L469.4,337.9 L470.5,336.9 L471.6,333.7 L472.7,333.9 L474.2,334.9 L475.6,336.3 L477.1,336.0 L478.5,336.3 L480.0,339.0 L481.9,338.6 L483.9,338.8 L485.8,339.7 L487.3,340.1 L488.8,340.2 L490.2,340.7 L491.7,341.1 L493.6,342.1 L495.6,340.3 L497.5,341.9 L499.4,340.7 L501.4,340.9 L503.3,341.9 L504.8,340.4 L506.3,339.7 L507.7,341.5 L509.2,339.7 L511.1,340.9 L513.1,339.1 L515.0,340.4 L516.5,340.9 L517.9,340.9 L519.4,341.9 L520.8,342.9 L522.3,344.8 L523.8,345.5 L525.2,347.0 L526.7,346.1 L528.1,344.8 L529.6,343.3 L531.0,342.6 L532.5,341.8 L534.0,341.8 L535.4,341.9 L537.6,341.9 L537.7,342.5 L537.7,345.2 L537.8,347.2 L537.9,347.9 L537.9,348.7 L538.0,350.6 L538.1,352.7 L538.1,354.9 L538.2,356.9 L538.3,357.5 L538.3,359.4 L538.9,358.7 L539.5,356.8 L540.1,354.8 L540.7,353.2 L541.3,352.1 L542.7,351.7 L544.2,351.9 L545.6,350.8 L547.1,350.6 L548.3,349.9 L549.5,348.1 L550.7,347.0 L551.5,347.6 L552.2,349.7 L552.9,351.4 L553.6,351.1 L554.4,353.5 L555.5,352.3 L556.6,351.2 L557.7,351.2 L558.8,349.2 L560.2,349.1 L561.7,346.4 L563.1,345.5 L564.0,347.9 L564.9,348.9 L565.8,348.8 L566.6,350.7 L567.5,352.1 L568.0,352.6 L568.5,355.8 L569.0,356.9 L569.4,358.9 L569.9,360.1 L570.4,360.8 L572.4,361.3 L574.3,361.4 L576.3,360.8 L577.7,360.3 L579.2,358.3 L580.6,358.9 L582.1,357.9 L582.3,358.3 L582.5,360.3 L582.6,363.6 L582.8,363.3 L583.0,365.1 L583.2,366.7 L583.4,370.4 L583.5,371.0 L584.0,368.8 L584.4,366.9 L584.8,367.6 L585.2,364.2 L585.6,364.6 L586.0,362.7 L586.5,360.8 L586.9,360.3 L587.3,359.1 L587.8,356.7 L588.2,355.8 L588.6,352.3 L589.1,352.8 L589.5,350.7 L590.0,349.7 L590.4,346.7 L590.8,346.3 L591.2,348.5 L591.5,350.6 L591.8,350.0 L592.1,352.3 L592.5,354.5 L592.8,356.8 L593.1,356.9 L593.4,358.4 L593.8,360.8 L594.7,358.7 L595.7,358.2 L596.7,356.5 L597.6,358.6 L598.6,359.1 L599.6,360.8 L600.2,359.0 L600.8,357.7 L601.5,356.1 L602.1,354.8 L602.7,352.5 L603.3,352.1 L604.0,350.6 L605.4,352.3 L606.9,351.4 L608.3,352.1 L608.7,354.2 L609.1,354.1 L609.4,357.0 L609.8,358.6 L610.2,359.8 L610.5,360.8 L610.6,362.4 L610.6,363.9 L610.7,365.8 L610.7,368.0 L610.7,367.6 L610.8,369.0 L610.8,372.3 L610.9,374.3 L610.9,374.8 L610.9,376.1 L611.0,378.4 L611.0,378.5 L611.1,380.3 L611.1,381.6 L611.2,384.2 L611.2,385.0 L611.2,386.3 L611.3,389.1 L611.3,391.3 L611.4,391.1 L611.4,393.7 L611.4,394.5 L611.5,397.2 L611.5,398.1 L611.6,398.8 L611.6,400.2 L611.7,401.2 L611.7,403.9 L611.7,405.2 L611.8,406.2 L611.8,408.3 L611.9,409.7 L611.9,412.4 L611.9,412.3 L612.0,414.8 L612.0,414.5 L612.1,411.7 L612.1,410.4 L612.2,408.5 L612.2,408.0 L612.2,406.4 L612.3,404.2 L612.3,402.4 L612.4,401.5 L612.4,400.3 L612.4,397.6 L612.5,396.9 L612.5,395.9 L612.6,393.1 L612.6,391.0 L612.7,389.4 L612.7,389.2 L612.7,387.5 L612.8,386.7 L612.8,384.9 L612.9,381.7 L612.9,380.1 L612.9,378.7 L613.0,377.0 L613.0,376.8 L613.1,375.6 L613.1,374.2 L613.2,371.0 L613.2,371.0 L613.2,368.1 L613.3,366.8 L613.3,366.1 L613.4,362.8 L613.4,361.3 L613.4,360.8 L613.5,363.2 L613.5,363.4 L613.6,365.1 L613.6,367.2 L613.7,369.0 L613.7,368.8 L613.7,371.2 L613.8,373.0 L613.8,374.7 L613.9,375.5 L613.9,378.0 L613.9,380.5 L614.0,380.6 L614.0,382.5 L614.1,383.0 L614.1,384.9 L614.2,387.5 L614.2,387.6 L614.2,391.1 L614.3,392.7 L614.3,392.2 L614.4,395.9 L614.4,396.0 L614.4,398.5 L614.5,400.0 L614.5,400.4 L614.6,402.9 L614.6,404.4 L614.7,406.3 L614.7,406.5 L614.7,409.3 L614.8,411.4 L614.8,412.2 L614.9,413.3 L614.9,414.8 L614.9,412.2 L615.0,411.7 L615.0,409.8 L615.1,409.2 L615.1,407.6 L615.2,405.7 L615.2,403.2 L615.2,402.8 L615.3,401.3 L615.3,398.5 L615.4,398.9 L615.4,396.7 L615.4,393.8 L615.5,394.3 L615.5,390.7 L615.6,389.7 L615.6,389.2 L615.7,387.3 L615.7,385.6 L615.7,384.3 L615.8,382.3 L615.8,380.4 L615.9,378.5 L615.9,376.7 L615.9,376.8 L616.0,375.4 L616.0,373.3 L616.1,372.3 L616.1,369.7 L616.2,367.9 L616.2,366.7 L616.2,366.4 L616.3,362.7 L616.3,362.4 L616.4,360.8 L616.4,361.7 L616.4,364.6 L616.5,365.1 L616.5,366.6 L616.6,368.3 L616.6,370.2 L616.7,372.3 L616.7,372.8 L616.7,375.6 L616.8,375.2 L616.8,377.2 L616.9,378.3 L616.9,379.9 L616.9,383.1 L617.0,384.6 L617.0,384.7 L617.1,386.2 L617.1,388.4 L617.2,390.8 L617.2,392.5 L617.2,393.9 L617.3,395.0 L617.3,395.4 L617.4,397.6 L617.4,398.6 L617.4,401.0 L617.5,402.6 L617.5,403.2 L617.6,404.9 L617.6,407.8 L617.7,407.4 L617.7,411.0 L617.7,412.7 L617.8,414.4 L617.8,414.8 L617.9,412.9 L617.9,411.8 L618.0,410.4 L618.0,409.0 L618.0,408.3 L618.1,406.0 L618.1,403.5 L618.2,403.4 L618.2,400.9 L618.3,399.6 L618.3,398.4 L618.4,395.0 L618.4,395.5 L618.4,393.6 L618.5,391.6 L618.5,390.2 L618.6,388.5 L618.6,386.2 L618.7,385.6 L618.7,382.8 L618.8,382.4 L618.8,381.3 L618.8,379.2 L618.9,378.0 L618.9,377.4 L619.0,375.7 L619.0,372.2 L619.1,372.4 L619.1,370.4 L619.2,367.4 L619.2,366.6 L619.2,364.8 L619.3,362.8 L619.3,362.5 L619.4,360.8 L619.9,360.5 L620.3,357.5 L620.8,356.5 L622.3,356.9 L623.8,356.0 L625.2,355.0 L626.3,355.5 L627.4,358.9 L628.5,359.6 L629.6,360.8 L630.3,360.5 L631.0,358.5 L631.8,357.1 L632.5,354.6 L633.2,354.3 L634.0,352.1 L635.4,352.8 L636.9,352.3 L638.3,350.8 L639.8,350.6 L642.7,350.6 L642.9,349.6 L643.1,347.3 L643.3,344.6 L643.5,342.8 L643.8,341.2 L644.0,339.8 L644.2,339.0 L646.4,339.0 L646.4,339.6 L646.5,342.1 L646.6,344.1 L646.7,345.3 L646.8,346.5 L646.9,348.6 L647.0,349.3 L647.1,351.3 L647.2,353.6 L647.3,354.2 L647.4,355.2 L647.4,358.6 L647.5,359.7 L647.6,360.3 L647.7,361.9 L647.8,363.8 L648.1,365.5 L648.4,367.3 L648.8,368.0 L649.1,369.1 L649.4,371.3 L649.7,374.5 L650.0,375.4 L652.9,375.4 L653.2,372.9 L653.6,372.1 L653.9,369.8 L654.2,368.2 L654.5,366.5 L654.9,365.4 L655.2,363.2 L655.5,361.2 L655.8,360.8 L656.2,358.2 L656.6,356.7 L656.9,355.9 L657.3,353.1 L657.7,351.4 L658.0,350.9 L658.4,349.1 L658.8,347.7 L660.2,346.8 L661.7,344.8 L663.1,345.1 L664.6,347.7 L666.0,347.0 L667.5,346.5 L669.0,346.3 L670.4,345.5 L671.9,348.4 L673.3,347.7 L673.5,345.3 L673.7,343.4 L673.9,342.7 L674.1,340.3 L674.2,339.8 L674.4,337.5 L674.6,335.2 L674.8,334.6 L677.0,334.6 L677.1,335.0 L677.1,338.4 L677.2,338.8 L677.3,341.8 L677.3,342.5 L677.4,345.3 L677.5,345.3 L677.6,346.8 L677.6,348.4 L677.7,350.6 L678.8,350.4 L679.9,348.8 L681.0,346.9 L682.1,346.3 L683.5,344.5 L685.0,344.8 L685.2,346.9 L685.3,349.3 L685.5,349.9 L685.6,350.0 L685.8,351.7 L686.0,353.5 L686.1,355.3 L686.3,356.6 L686.5,359.4 L686.8,356.6 L687.2,356.5 L687.6,355.5 L687.9,352.0 L688.3,352.4 L688.6,349.5 L689.0,348.7 L689.4,346.3 L690.8,347.8 L692.3,348.4 L693.8,347.7 L694.3,348.0 L694.9,350.1 L695.5,352.4 L696.1,354.7 L696.7,355.0 L697.8,355.4 L698.9,357.4 L699.9,360.3 L701.0,360.8 L701.3,360.3 L701.6,363.7 L701.9,365.1 L702.2,368.9 L702.5,369.6 L704.0,372.9 L705.4,371.0 L706.9,369.8 L708.3,372.5 L709.8,375.4 L711.3,375.4 L711.3,375.3 L711.4,374.4 L711.4,371.2 L711.5,371.9 L711.5,367.1 L711.6,365.9 L711.6,363.2 L711.7,365.0 L711.7,361.7 L711.8,358.9 L711.8,356.8 L711.9,358.6 L711.9,356.4 L712.0,355.6 L712.0,352.1 L712.1,351.2 L712.1,347.7 L712.2,349.5 L712.2,343.9 L712.3,345.0 L712.3,345.3 L712.4,343.3 L712.4,338.3 L712.5,337.6 L712.5,339.8 L712.6,337.0 L712.6,337.0 L712.7,335.4 L712.7,331.7 L714.2,332.1 L715.6,333.1 L715.7,337.1 L715.9,337.7 L716.0,336.9 L716.1,338.7 L716.2,338.5 L716.4,342.0 L716.5,346.9 L716.6,343.4 L716.7,347.8 L716.8,346.6 L717.0,348.0 L717.1,352.1 L717.5,351.2 L717.8,346.9 L718.2,343.9 L718.5,344.8 L718.7,344.3 L718.8,348.8 L718.9,350.0 L719.0,348.2 L719.2,351.1 L719.3,357.1 L719.4,354.2 L719.5,357.8 L719.6,358.5 L719.8,362.3 L719.9,362.8 L720.0,363.8 L720.4,366.9 L720.7,366.9 L721.1,366.3 L721.5,369.6 L722.9,366.7 L724.4,365.1 L725.8,366.7 L726.3,367.2 L726.8,361.4 L727.3,359.4 L727.8,363.6 L728.3,357.6 L728.8,357.9 L730.2,358.8 L731.7,355.0 L732.8,354.0 L733.9,357.7 L735.0,357.7 L736.0,360.8 L736.2,364.4 L736.3,364.7 L736.4,366.5 L736.6,368.8 L736.7,371.0 L736.8,369.5 L737.0,372.6 L737.1,373.2 L737.2,372.8 L737.4,378.8 L737.5,378.3 L737.6,377.4 L737.7,377.2 L737.8,372.0 L737.9,372.5 L738.0,370.5 L738.1,370.5 L738.2,365.1 L738.3,365.2 L738.4,364.5 L738.5,360.5 L738.6,361.8 L738.8,361.4 L738.9,358.0 L739.0,357.8 L739.1,356.1 L739.2,352.2 L739.3,351.5 L739.4,353.8 L739.5,348.3 L739.6,347.4 L739.7,346.3 L741.9,347.7 L742.0,346.8 L742.2,349.1 L742.4,350.3 L742.6,356.5 L742.7,356.8 L742.9,359.2 L743.1,361.4 L743.3,360.7 L743.4,364.2 L743.6,363.4 L743.8,364.2 L743.9,368.9 L744.1,370.2 L744.3,372.0 L744.5,370.8 L744.6,374.1 L744.8,374.0 L745.0,371.7 L745.3,373.5 L745.5,371.4 L745.8,365.9 L746.0,368.1 L746.3,363.8 L746.4,363.4 L746.6,364.5 L746.8,369.8 L746.9,368.8 L747.1,371.7 L747.3,374.0 L747.4,372.0 L747.6,377.8 L747.8,376.5 L747.9,379.1 L748.1,380.1 L748.3,384.1 L748.4,384.2 L748.5,384.1 L748.5,379.8 L748.6,377.1 L748.6,376.8 L748.7,375.9 L748.7,372.3 L748.8,371.2 L748.8,373.3 L748.9,371.4 L748.9,371.5 L748.9,370.0 L749.0,367.8 L749.0,363.3 L749.1,360.4 L749.1,359.8 L749.2,359.4 L750.6,357.7 L752.1,356.5 L753.1,358.1 L754.0,359.6 L755.0,360.8 L755.2,361.7 L755.5,366.4 L755.7,364.7 L756.0,367.4 L756.2,371.7 L756.5,371.0 L756.6,371.3 L756.8,366.7 L757.0,364.9 L757.2,366.7 L757.4,360.4 L757.6,359.5 L757.7,360.4 L757.9,358.9 L758.1,355.1 L758.3,352.9 L758.5,352.2 L758.6,354.1 L758.8,350.7 L759.0,352.2 L759.2,349.5 L759.4,346.3 L759.7,347.7 L760.1,342.1 L760.5,341.1 L760.8,339.2 L761.2,338.8 L761.6,337.1 L761.9,334.9 L762.3,334.6 L763.0,333.1 L763.8,330.2 L764.5,329.2 L765.2,328.0 L767.4,327.0 L769.6,327.3 L770.3,329.5 L771.0,330.0 L771.8,331.0 L772.5,333.1 L774.0,331.2 L775.4,331.7 L777.2,331.5 L779.1,332.0 L780.9,332.1 L782.7,331.7 L783.8,333.8 L784.9,334.7 L786.0,334.3 L787.1,336.0 L788.5,334.6 L790.0,335.7 L791.5,334.6 L792.9,334.4 L794.4,332.7 L795.8,331.7 L796.2,334.0 L796.6,334.7 L796.9,335.5 L797.3,336.6 L797.7,337.7 L798.0,340.8 L798.4,342.9 L798.8,343.3 L799.4,345.8 L800.0,346.2 L800.6,348.1 L801.3,350.3 L801.9,351.4 L802.5,352.4 L803.1,353.5 L804.6,352.8 L806.0,352.6 L807.5,352.1 L808.5,352.7 L809.4,354.2 L810.4,356.5 L811.0,355.5 L811.5,354.8 L812.1,352.2 L812.6,350.4 L813.2,348.8 L813.7,347.6 L814.2,347.0 L814.8,344.8 L816.3,345.2 L817.7,347.0 L819.2,346.3 L819.9,344.0 L820.6,343.1 L821.4,342.3 L822.1,340.7 L822.8,340.5 L823.5,338.2 L824.0,340.9 L824.4,341.9 L825.3,341.7 L826.1,339.5 L827.0,336.7 L827.9,336.8 L828.8,335.3 L830.2,334.2 L831.7,332.9 L833.1,331.7 L834.9,330.9 L836.8,331.8 L838.6,332.2 L840.4,330.9 L841.9,330.3 L843.3,332.1 L844.8,331.7 L846.3,332.4 L847.7,332.9 L849.2,334.4 L850.6,333.9 L852.1,334.5 L853.5,333.1 L855.0,331.4 L856.5,331.7 L858.3,332.9 L860.1,331.2 L861.9,331.9 L863.8,332.4 L865.9,333.6 L868.1,333.1 L869.6,332.2 L871.0,331.6 L872.5,331.7 L873.0,334.3 L873.6,335.7 L874.1,335.6 L874.7,337.5 L875.9,335.8 L877.1,334.0 L878.3,333.1 L879.8,331.7 L881.3,331.5 L882.7,331.7 L884.5,333.3 L886.4,331.3 L888.2,332.1 L890.0,333.1 L891.5,332.7 L892.9,332.8 L894.4,334.3 L895.8,334.6 L897.7,335.2 L899.5,335.5 L901.3,334.9 L903.1,334.6 L904.6,334.8 L906.0,332.1 L907.5,332.3 L909.0,333.5 L910.4,331.7 L912.1,330.5 L913.8,331.1 L915.4,331.6 L917.1,331.1 L918.8,331.8 L920.4,330.5 L922.1,331.7 L923.7,331.1 L925.3,333.0 L926.9,331.0 L928.6,333.0 L930.2,331.2 L931.8,333.4 L933.4,332.7 L935.0,332.7 L936.7,332.4 L938.5,331.6 L940.3,331.6 L942.1,333.6 L944.0,333.1 L945.6,332.3 L947.2,332.3 L948.8,334.0 L950.4,334.1 L952.1,332.0 L953.7,334.3 L955.3,333.2 L956.9,332.8 L958.5,333.1 L960.2,332.1 L961.8,332.8 L963.4,334.4 L965.0,332.6 L966.6,332.2 L968.3,332.2 L969.9,332.2 L971.5,332.7 L973.1,333.1 L975.0,334.4 L976.8,332.4 L978.6,332.9 L980.4,333.9 L982.2,334.8 L984.1,334.8 L985.9,334.6 L987.7,333.1 L989.5,332.5 L991.4,332.7 L993.2,334.3 L995.0,333.1 L996.1,334.5 L997.2,336.6 L998.3,337.0 L999.4,339.0 L1000.8,338.1 L1002.3,339.7 L1003.8,338.3 L1005.2,338.4 L1006.7,336.8 L1008.1,338.6 L1009.6,339.0 L1010.7,338.0 L1011.8,336.7 L1012.9,335.8 L1014.0,334.6 L1015.4,334.0 L1016.9,333.8 L1018.3,334.1 L1019.8,332.1 L1021.3,332.4 L1023.4,332.3 L1025.6,331.7 L1027.3,332.8 L1028.9,332.6 L1030.5,330.8 L1032.1,332.9 L1033.8,331.7 L1035.4,332.6 L1037.0,331.0 L1038.7,331.3 L1040.3,331.3 L1042.0,331.0 L1043.6,333.5 L1045.2,332.1 L1046.9,332.4 L1047.8,334.6 L1048.8,333.8 L1049.8,336.0 L1050.9,336.2 L1052.0,339.0 L1053.1,338.8 L1054.2,336.8 L1055.1,336.3 L1056.1,335.6 L1057.1,333.1 L1058.9,333.2 L1060.7,332.5 L1062.6,332.7 L1064.4,331.7 L1066.0,330.7 L1067.7,332.0 L1069.4,331.8 L1071.0,331.2 L1072.7,332.5 L1074.4,331.8 L1076.0,332.4 L1077.7,332.5 L1079.3,332.2 L1080.9,332.2 L1082.5,332.4 L1084.1,333.1 L1085.8,334.1 L1087.4,334.1 L1089.0,334.0 L1090.6,333.1 L1092.4,334.0 L1094.3,332.6 L1096.1,334.4 L1097.9,333.1 L1099.7,332.9 L1101.6,332.9 L1103.4,334.2 L1105.2,334.6 L1106.7,334.8 L1108.1,333.3 L1109.6,333.7 L1111.0,332.3 L1112.5,332.4 L1114.0,334.3 L1115.4,333.7 L1116.9,334.5 L1118.3,335.3 L1119.8,333.9 L1121.3,332.4 L1122.7,334.1 L1124.2,335.1 L1125.6,334.7 L1127.1,335.3 L1128.5,334.3 L1130.0,333.8 L1131.5,331.5 L1132.9,331.7 L1134.7,331.5 L1136.4,332.6 L1138.2,332.4 L1139.9,330.5 L1141.7,331.7 L1142.6,334.0 L1143.6,334.3 L1144.6,336.0 L1145.6,338.8 L1146.5,338.6 L1147.5,340.4 L1147.7,341.2 L1147.9,343.6 L1148.0,346.0 L1148.2,346.3 L1148.4,349.0 L1148.6,350.1 L1148.8,350.7 L1149.0,352.1 L1149.1,354.1 L1149.3,355.3 L1149.5,356.8 L1149.7,358.6 L1150.0,357.5 L1150.3,356.5 L1150.6,354.2 L1150.9,351.5 L1151.3,350.1 L1151.6,348.9 L1151.9,347.7 L1154.8,347.7 L1155.2,349.6 L1155.5,350.1 L1155.9,351.5 L1156.3,353.8 L1156.6,355.3 L1157.0,356.3 L1157.3,359.3 L1157.7,360.8 L1158.4,360.5 L1159.2,358.0 L1159.9,357.1 L1160.6,355.0 L1161.0,354.0 L1161.4,352.2 L1161.7,350.6 L1162.1,347.7 L1163.2,346.5 L1164.3,346.0 L1165.4,343.4 L1166.5,343.3 L1167.4,342.9 L1168.4,340.1 L1169.4,339.0 L1171.2,338.5 L1173.0,339.2 L1174.8,337.3 L1176.7,337.5 L1177.6,335.0 L1178.6,334.9 L1179.6,332.4 L1181.5,332.4 L1183.5,330.8 L1185.4,331.7 L1187.0,330.4 L1188.7,331.3 L1190.3,330.4 L1191.9,332.5 L1193.5,330.8 L1195.1,331.1 L1196.8,331.4 L1198.4,331.7 L1200.0,331.7 L1201.8,331.8 L1203.5,332.6 L1205.3,333.0 L1207.0,332.7 L1208.8,333.1 L1210.2,331.7 L1211.7,333.6 L1213.1,332.5 L1214.6,331.7 L1216.4,330.4 L1218.2,331.2 L1220.1,331.8 L1221.9,330.9 L1223.6,332.4 L1225.4,330.1 L1227.1,330.1 L1228.9,331.5 L1230.6,331.7 L1232.3,331.5 L1234.0,332.7 L1235.6,332.5 L1237.3,331.7 L1239.1,331.4 L1240.9,331.8 L1242.8,332.4 L1244.6,332.4 L1246.3,333.5 L1248.1,331.9 L1249.8,332.6 L1251.6,331.9 L1253.3,333.1 L1255.2,333.7 L1257.0,332.3 L1258.8,334.8 L1260.6,333.9 L1262.4,333.6 L1264.3,333.3 L1266.1,331.7 L1267.9,332.4 L1269.6,331.8 L1271.3,332.5 L1272.9,333.6 L1274.6,332.9 L1276.3,332.4 L1277.9,334.3 L1279.6,333.1 L1281.3,333.4 L1282.9,333.0 L1284.6,332.0 L1286.3,332.2 L1287.9,333.6 L1289.6,331.5 L1291.3,332.4 L1292.9,332.5 L1294.6,332.7 L1296.3,332.0 L1297.9,333.1 L1299.6,333.5 L1301.3,333.3 L1302.9,332.4 L1304.4,333.4 L1305.8,332.4 L1307.3,332.3 L1308.8,333.7 L1310.2,333.7 L1311.7,334.6 L1313.6,334.0 L1315.6,336.0 L1317.5,335.3 L1319.0,334.2 L1320.4,335.4 L1321.9,335.4 L1323.3,333.9 L1325.1,332.6 L1326.8,334.3 L1328.6,332.7 L1330.3,331.9 L1332.1,332.4 L1333.8,331.6 L1335.4,331.2 L1337.1,332.4 L1338.8,332.1 L1340.4,333.3 L1342.1,333.3 L1343.8,332.4 L1345.5,331.5 L1347.2,332.6 L1348.9,332.8 L1350.6,332.5 L1352.3,333.0 L1354.0,333.9 L1355.4,334.2 L1356.9,336.2 L1358.3,336.2 L1359.8,337.5 L1362.0,336.5 L1364.2,337.5 L1365.6,336.3 L1367.1,336.4 L1368.5,336.0 L1370.0,335.8 L1371.5,335.3 L1372.9,335.9 L1374.4,338.3 L1375.8,339.0 L1377.3,337.7 L1378.8,338.3 L1380.2,337.6 L1381.7,336.8 L1383.1,335.0 L1384.6,335.6 L1386.0,333.8 L1387.5,333.1 L1389.4,333.0 L1391.4,332.9 L1393.3,332.4 L1394.1,334.4 L1394.8,335.7 L1395.5,337.5 L1396.1,334.9 L1396.6,335.3 L1397.2,334.1 L1397.7,331.7 L1399.5,331.6 L1401.4,331.9 L1403.2,331.1 L1405.0,331.7 L1406.5,333.4 L1407.9,333.6 L1409.4,333.1 L1410.8,335.4 L1412.3,336.6 L1413.8,336.0 L1414.4,337.1 L1415.0,340.2 L1415.6,340.4 L1416.3,341.0 L1416.9,343.9 L1417.5,344.4 L1418.1,346.3 L1419.6,346.1 L1421.0,344.8 L1422.2,343.8 L1423.4,341.4 L1424.5,341.4 L1425.7,341.0 L1426.9,339.0 L1428.3,338.0 L1429.8,337.3 L1431.3,337.3 L1432.7,335.3 L1434.2,334.6 L1435.6,335.5 L1437.1,336.7 L1438.5,337.5 L1439.8,337.4 L1441.0,334.8 L1442.2,333.5 L1443.4,334.3 L1444.6,332.8 L1445.8,331.7" fill="none" stroke="#0000ff" stroke-width="4.5" stroke-linejoin="round" stroke-linecap="round"/>
<path d="M211.0,339.1 L212.0,341.5 L213.0,339.6 L214.0,343.2 L215.0,341.5 L216.0,352.4 L217.0,344.1 L218.0,384.5 L219.0,345.3 L220.0,385.6 L221.0,381.2 L222.0,394.1 L223.0,382.7 L224.0,391.6 L225.0,371.6 L226.0,393.9 L227.0,372.4 L228.0,373.8 L229.0,369.9 L230.0,372.9 L231.0,370.1 L232.0,379.4 L233.0,372.5 L234.0,383.2 L235.0,368.6 L236.0,386.4 L237.0,369.5 L238.0,381.8 L239.0,363.0 L240.0,369.4 L241.0,358.6 L242.0,368.2 L243.0,350.8 L244.0,350.7 L245.0,349.2 L246.0,352.4 L247.0,350.2 L248.0,354.8 L249.0,351.2 L250.0,356.0 L251.0,353.1 L252.0,358.5 L253.0,354.9 L254.0,365.3 L255.0,352.2 L256.0,373.8 L257.0,364.5 L258.0,376.6 L259.0,364.1 L260.0,373.4 L261.0,363.2 L262.0,366.8 L263.0,360.7 L264.0,368.1 L265.0,363.3 L266.0,367.5 L267.0,360.9 L268.0,367.7 L269.0,362.1 L270.0,363.3 L271.0,357.4 L272.0,360.7 L273.0,354.4 L274.0,357.7 L275.0,352.7 L276.0,356.8 L277.0,353.9 L278.0,361.0 L279.0,347.1 L280.0,359.5 L281.0,344.5 L282.0,353.5 L283.0,343.2 L284.0,349.8 L285.0,341.7 L286.0,344.4 L287.0,339.3 L288.0,341.5 L289.0,335.4 L290.0,339.9 L291.0,334.9 L292.0,338.8 L293.0,334.3 L294.0,340.1 L295.0,334.2 L296.0,334.8 L297.0,334.2 L298.0,334.0 L299.0,333.6 L300.0,333.3" fill="none" stroke="#0000ff" stroke-width="3" stroke-linejoin="miter" stroke-linecap="butt"/>
<path d="M530.0,343.8 L531.0,345.4 L532.0,343.5 L533.0,345.0 L534.0,343.2 L535.0,345.0 L536.0,344.2 L537.0,349.3 L538.0,347.4 L539.0,357.9 L540.0,351.3 L541.0,358.6 L542.0,351.7 L543.0,353.6 L544.0,351.3 L545.0,352.1 L546.0,350.7 L547.0,351.2 L548.0,349.8 L549.0,350.3 L550.0,348.1 L551.0,351.9 L552.0,349.2 L553.0,354.7 L554.0,351.5 L555.0,354.0 L556.0,352.1 L557.0,352.5 L558.0,349.7 L559.0,350.7 L560.0,347.7 L561.0,348.7 L562.0,346.6 L563.0,349.6 L564.0,346.6 L565.0,351.1 L566.0,350.7 L567.0,355.0 L568.0,353.3 L569.0,359.4 L570.0,357.6 L571.0,363.7 L572.0,360.6 L573.0,363.3 L574.0,360.2 L575.0,363.8 L576.0,359.5 L577.0,363.6 L578.0,358.2 L579.0,363.8 L580.0,359.2 L581.0,369.8 L582.0,360.9 L583.0,369.5 L584.0,360.7 L585.0,368.6 L586.0,360.7 L587.0,364.4 L588.0,352.2 L589.0,364.5 L590.0,349.3 L591.0,363.0 L592.0,347.8 L593.0,361.5 L594.0,356.1 L595.0,360.9 L596.0,356.3 L597.0,361.8 L598.0,357.2 L599.0,364.3 L600.0,358.0 L601.0,360.7 L602.0,353.7 L603.0,359.1 L604.0,353.0 L605.0,361.8 L606.0,351.6 L607.0,362.4 L608.0,353.1 L609.0,364.2 L610.0,361.0 L611.0,380.9 L612.0,355.5 L613.0,399.2 L614.0,359.8 L615.0,389.4 L616.0,364.6 L617.0,380.2 L618.0,364.4 L619.0,368.8 L620.0,357.5 L621.0,386.1 L622.0,355.4 L623.0,358.9 L624.0,355.2 L625.0,358.7 L626.0,355.0 L627.0,359.7 L628.0,355.8 L629.0,359.0 L630.0,353.3" fill="none" stroke="#0000ff" stroke-width="3" stroke-linejoin="miter" stroke-linecap="butt"/>
<path d="M690.0,347.0 L691.0,352.3 L692.0,346.2 L693.0,353.4 L694.0,346.9 L695.0,357.4 L696.0,354.2 L697.0,359.1 L698.0,357.3 L699.0,362.9 L700.0,358.4 L701.0,366.5 L702.0,361.7 L703.0,368.4 L704.0,362.4 L705.0,368.3 L706.0,361.6 L707.0,369.4 L708.0,363.3 L709.0,373.6 L710.0,357.6 L711.0,372.3 L712.0,337.4 L713.0,371.1 L714.0,333.7 L715.0,361.6 L716.0,345.6 L717.0,367.5 L718.0,348.7 L719.0,357.8 L720.0,348.9 L721.0,364.3 L722.0,360.0 L723.0,368.8 L724.0,362.8 L725.0,368.3 L726.0,361.0 L727.0,363.8 L728.0,357.8 L729.0,361.0 L730.0,356.2 L731.0,359.2 L732.0,357.6 L733.0,360.4 L734.0,359.7 L735.0,371.9 L736.0,358.3 L737.0,377.1 L738.0,348.4 L739.0,367.4 L740.0,347.0 L741.0,368.7 L742.0,347.0 L743.0,369.3 L744.0,359.5 L745.0,375.9 L746.0,363.5 L747.0,374.5 L748.0,361.7 L749.0,375.7 L750.0,361.3 L751.0,372.1 L752.0,359.5 L753.0,371.7 L754.0,357.0 L755.0,370.0 L756.0,358.4 L757.0,359.9 L758.0,344.7 L759.0,364.6 L760.0,341.0 L761.0,341.9 L762.0,334.0 L763.0,337.7 L764.0,328.9 L765.0,332.7 L766.0,328.7 L767.0,329.6 L768.0,328.5 L769.0,328.8 L770.0,330.2 L771.0,331.6 L772.0,333.0 L773.0,333.0 L774.0,332.7 L775.0,332.6 L776.0,332.7 L777.0,332.7 L778.0,332.8 L779.0,332.8" fill="none" stroke="#0000ff" stroke-width="3" stroke-linejoin="miter" stroke-linecap="butt"/>
<path d="M210.8,322.2 L212.8,321.2 L214.7,320.5 L216.7,321.5 L217.4,322.5 L218.1,323.1 L218.9,324.2 L219.6,326.5 L220.3,329.4 L221.0,329.5 L221.7,328.8 L222.3,327.2 L222.9,324.0 L223.5,323.3 L224.2,321.0 L224.8,319.1 L225.4,318.5 L225.7,315.7 L226.1,314.4 L226.4,315.0 L226.7,313.0 L227.0,311.4 L227.4,309.7 L227.7,306.3 L228.0,305.0 L228.3,304.0 L229.4,305.8 L230.5,307.6 L231.6,309.4 L232.7,309.8 L234.2,310.4 L235.6,307.6 L237.1,308.3 L237.6,310.1 L238.1,311.8 L238.5,312.7 L239.0,313.2 L239.5,315.5 L240.0,315.9 L240.5,319.8 L241.0,321.1 L241.5,321.5 L242.6,320.3 L243.8,318.2 L245.0,318.7 L246.1,316.4 L247.3,314.9 L248.0,317.6 L248.8,319.1 L249.5,319.7 L250.2,321.0 L250.9,323.1 L251.7,324.4 L253.1,323.0 L254.6,320.9 L256.0,320.7 L258.2,320.5 L260.4,321.5 L261.0,320.9 L261.6,317.2 L262.2,315.7 L262.8,316.0 L263.3,314.2 L264.5,312.5 L265.8,312.3 L267.0,311.3 L267.5,309.7 L268.0,307.9 L268.5,308.4 L269.0,304.5 L269.5,303.7 L270.0,301.6 L270.6,301.4 L271.1,298.9 L271.6,297.7 L272.1,296.7 L272.4,298.9 L272.8,299.0 L273.2,301.2 L273.5,303.7 L273.9,302.8 L274.3,304.1 L274.6,306.1 L275.0,308.3 L275.6,310.6 L276.2,311.6 L276.8,311.9 L277.3,313.7 L277.9,315.6 L279.4,315.6 L280.8,317.4 L282.3,318.5 L283.4,318.4 L284.5,321.7 L285.6,323.6 L286.7,323.6 L288.1,325.6 L289.6,325.4 L291.0,326.7 L292.5,325.8 L294.3,324.6 L296.1,325.6 L298.0,327.8 L299.8,326.6 L301.3,327.8 L302.7,327.2 L304.2,329.2 L305.6,328.7 L307.1,328.8 L308.8,329.7 L310.6,328.1 L312.3,327.8 L314.1,328.6 L315.8,328.8 L317.3,327.3 L318.8,327.7 L320.2,329.0 L321.7,327.3 L323.5,326.8 L325.3,325.8 L327.1,325.9 L329.0,327.3 L330.8,326.1 L332.6,327.8 L334.4,326.3 L336.3,326.6 L338.1,326.1 L339.9,325.7 L341.7,328.6 L343.5,327.3 L345.4,327.1 L347.2,326.4 L349.0,326.0 L350.8,327.3 L352.7,326.3 L354.5,327.0 L356.3,328.9 L358.1,328.8 L360.0,327.7 L361.8,327.4 L363.6,328.7 L365.4,328.8 L367.2,327.6 L369.1,329.5 L370.9,326.5 L372.7,327.3 L374.5,327.4 L376.4,328.1 L378.2,327.0 L380.0,327.3 L381.8,328.9 L383.6,327.6 L385.5,327.1 L387.3,328.0 L389.1,327.6 L390.9,326.3 L392.8,327.2 L394.6,327.3 L396.4,326.4 L398.2,328.1 L400.1,327.7 L401.9,326.6 L403.3,326.1 L404.8,324.2 L406.3,325.1 L407.7,324.7 L409.2,325.1 L410.6,325.3 L412.1,326.6 L414.0,325.4 L415.8,325.8 L417.6,326.9 L419.3,324.8 L421.1,324.5 L422.8,327.1 L424.6,325.8 L426.5,325.8 L428.5,326.8 L430.4,325.1 L431.9,323.9 L433.3,324.5 L434.8,322.8 L436.3,321.5 L437.7,321.8 L439.2,321.2 L440.6,320.0 L442.1,318.3 L443.5,318.2 L445.0,318.5 L446.5,320.4 L447.9,321.2 L449.4,322.0 L450.8,321.5 L452.3,322.1 L453.8,324.1 L455.2,325.6 L456.7,325.8 L458.6,326.5 L460.6,327.3 L462.5,326.6 L464.4,326.4 L466.4,326.5 L468.3,325.8 L470.3,326.6 L472.2,325.6 L474.2,326.6 L475.6,327.3 L477.1,326.8 L478.5,323.6 L480.0,324.4 L481.8,325.4 L483.6,325.0 L485.5,323.8 L487.3,322.9 L489.2,321.3 L491.2,323.6 L493.1,322.2 L494.6,320.3 L496.0,322.1 L497.5,320.5 L499.0,319.3 L500.8,317.8 L502.6,317.9 L504.4,319.1 L506.3,318.5 L507.7,319.1 L509.2,320.0 L510.6,320.9 L512.1,320.0 L513.9,319.5 L515.7,319.2 L517.6,322.4 L519.4,321.5 L520.8,320.4 L522.3,323.5 L523.8,321.6 L525.2,324.1 L526.7,323.6 L528.5,324.5 L530.3,324.8 L532.1,323.8 L534.0,323.6 L535.2,326.2 L536.4,325.7 L537.6,328.0 L538.2,327.1 L538.8,324.6 L539.4,324.8 L540.0,323.0 L540.6,320.6 L541.3,319.3 L542.7,318.8 L544.2,316.8 L545.6,316.2 L547.1,317.1 L548.5,318.5 L550.0,319.2 L551.5,321.5 L552.9,321.5 L554.9,322.0 L556.8,320.9 L558.8,322.2 L560.2,322.5 L561.7,324.5 L563.1,324.4 L564.1,325.9 L565.1,325.8 L566.0,328.8 L566.3,328.1 L566.5,326.3 L566.8,322.4 L567.0,322.1 L567.3,319.9 L567.5,318.5 L568.5,317.9 L569.4,315.1 L570.4,314.2 L571.9,312.6 L573.3,312.7 L574.8,313.4 L576.3,311.3 L577.7,311.1 L579.2,312.3 L580.6,314.9 L582.1,315.6 L584.3,317.1 L586.5,316.4 L586.8,317.9 L587.1,319.2 L587.4,322.0 L587.8,323.3 L588.1,322.8 L588.4,326.7 L588.7,326.2 L589.1,328.1 L589.4,330.2 L590.1,332.7 L590.8,333.1 L590.9,331.4 L590.9,331.0 L590.9,327.5 L591.0,328.1 L591.0,324.5 L591.0,322.9 L591.1,322.4 L591.1,320.4 L591.1,319.5 L591.2,319.1 L591.2,317.0 L591.3,313.3 L591.3,312.7 L591.3,311.9 L591.4,310.2 L591.4,309.3 L591.4,307.1 L591.5,304.4 L591.5,303.3 L591.5,303.6 L591.6,301.0 L591.6,299.1 L591.7,298.8 L591.8,298.0 L591.9,295.4 L591.9,294.0 L592.0,292.3 L592.1,289.9 L592.1,290.2 L592.2,287.3 L592.3,287.2 L592.4,283.8 L592.4,284.0 L592.5,282.3 L592.6,279.9 L594.0,279.9 L594.1,281.8 L594.1,282.8 L594.1,283.4 L594.2,286.9 L594.2,287.2 L594.2,289.6 L594.3,289.6 L594.3,291.0 L594.3,292.7 L594.4,296.2 L594.4,295.9 L594.4,299.6 L594.5,299.6 L594.5,301.7 L594.6,302.6 L594.6,304.9 L594.6,304.9 L594.7,307.4 L594.7,310.5 L594.7,309.8 L594.8,312.8 L594.8,313.3 L594.8,314.8 L594.9,315.5 L594.9,317.0 L594.9,320.0 L596.5,321.8 L598.0,322.0 L599.6,321.5 L601.0,323.3 L602.5,324.3 L604.0,324.4 L605.1,326.8 L606.1,325.5 L607.2,327.9 L608.3,328.8 L609.5,329.8 L610.7,331.0 L611.8,333.1 L613.0,333.6 L614.2,333.9 L615.6,335.6 L617.1,334.6 L617.9,332.0 L618.6,332.1 L619.4,330.2 L620.8,330.0 L622.3,329.5 L623.8,328.4 L625.2,328.3 L626.7,326.6 L628.4,326.1 L630.2,328.1 L631.9,326.7 L633.7,327.4 L635.4,327.3 L636.9,328.0 L638.3,326.9 L639.8,325.3 L641.3,324.5 L642.7,324.3 L644.2,324.4 L645.6,324.4 L647.1,325.1 L648.5,324.5 L650.0,322.6 L651.5,322.3 L652.9,323.1 L654.4,321.2 L655.8,321.5 L657.3,321.9 L658.8,321.5 L660.2,322.7 L661.7,324.5 L663.1,325.1 L664.6,325.2 L666.0,324.6 L667.5,323.4 L669.0,324.7 L670.4,322.9 L671.9,322.9 L673.3,321.2 L674.8,320.5 L676.3,321.5 L677.7,323.5 L679.2,324.1 L680.6,324.5 L682.1,324.1 L683.5,324.4 L685.4,323.6 L687.2,322.8 L689.0,323.1 L690.8,323.6 L692.8,323.1 L694.7,325.4 L696.7,324.4 L697.4,327.3 L698.1,328.6 L698.9,329.5 L699.6,326.8 L700.3,325.0 L701.0,323.7 L701.8,325.3 L702.5,321.5 L705.4,321.5 L706.5,318.7 L707.6,320.7 L708.7,319.1 L709.8,317.1 L711.3,316.8 L712.7,318.4 L714.2,315.6 L714.2,312.9 L714.2,312.7 L714.2,309.3 L714.3,307.5 L714.3,305.6 L714.3,305.5 L714.3,303.0 L714.3,301.2 L714.4,304.3 L714.4,299.3 L714.4,300.7 L714.4,298.3 L714.5,296.9 L714.5,295.0 L714.5,294.9 L714.5,293.0 L714.5,290.7 L714.6,288.4 L714.6,287.5 L714.6,286.1 L714.6,283.7 L714.6,282.0 L714.7,278.7 L714.7,280.6 L714.7,277.3 L714.7,273.7 L714.8,272.6 L714.8,274.6 L714.8,270.0 L714.8,269.1 L714.8,269.1 L714.9,268.4 L714.9,264.2 L714.9,263.0 L714.9,261.6 L715.0,258.1 L715.0,260.9 L715.0,255.0 L715.0,258.2 L715.0,254.4 L716.8,254.4 L716.8,254.2 L716.8,255.7 L716.9,260.7 L716.9,262.1 L716.9,260.7 L716.9,263.8 L716.9,265.0 L717.0,267.7 L717.0,266.6 L717.0,271.3 L717.0,273.7 L717.0,273.8 L717.1,276.4 L717.1,278.0 L717.1,276.7 L717.1,280.6 L717.2,282.0 L717.2,282.3 L717.2,281.5 L717.2,285.6 L717.2,288.6 L717.3,287.0 L717.3,290.3 L717.3,293.1 L717.3,293.1 L717.3,291.8 L717.4,296.3 L717.4,296.0 L717.4,300.5 L717.4,301.1 L717.5,300.8 L717.5,305.3 L717.5,305.5 L717.5,305.6 L717.5,309.6 L717.6,311.4 L717.6,312.9 L717.6,314.4 L717.6,314.8 L717.6,316.5 L717.7,317.1 L718.9,318.6 L720.2,319.2 L721.5,320.0 L722.9,321.9 L724.4,318.1 L725.8,316.2 L727.3,318.7 L728.8,317.1 L730.6,317.4 L732.4,318.0 L734.2,318.7 L736.0,318.5 L737.1,318.4 L738.2,319.2 L739.3,319.7 L740.4,322.9 L741.6,325.5 L742.8,327.4 L744.1,326.6 L744.2,326.0 L744.4,321.6 L744.5,324.4 L744.7,322.2 L744.8,319.1 L745.0,315.0 L745.2,317.7 L745.3,315.1 L745.5,313.6 L745.6,309.1 L745.8,311.1 L745.9,306.1 L746.1,306.8 L746.3,305.4 L746.7,302.2 L747.2,301.8 L747.7,303.0 L748.2,300.8 L748.7,299.7 L749.2,296.7 L749.7,297.1 L750.3,299.0 L750.8,301.6 L751.4,302.5 L751.7,301.6 L752.1,305.0 L752.5,309.3 L752.8,309.6 L753.2,311.6 L753.5,311.3 L755.0,311.2 L756.5,314.1 L757.9,314.2 L759.4,314.9 L760.8,312.7 L761.7,315.2 L762.6,315.3 L763.5,315.5 L764.3,316.1 L765.2,320.0 L766.3,320.8 L767.4,320.0 L768.5,315.6 L769.6,315.6 L770.6,318.4 L771.5,318.1 L772.5,320.0 L774.0,321.4 L775.4,321.5 L776.9,324.3 L778.3,322.8 L779.8,325.3 L781.3,325.8 L783.2,325.1 L785.1,325.9 L787.1,325.8 L788.5,323.7 L790.0,323.7 L791.5,323.0 L792.9,322.9 L794.1,323.1 L795.3,319.8 L796.4,320.6 L797.6,317.6 L798.8,317.8 L800.2,320.4 L801.7,319.0 L803.1,319.9 L804.6,322.2 L806.0,320.8 L807.5,322.4 L809.0,321.1 L810.4,320.0 L811.9,320.7 L813.3,319.0 L814.8,318.5 L816.3,317.9 L817.7,319.0 L819.2,320.0 L820.3,321.0 L821.4,323.7 L822.5,322.3 L823.5,324.4 L825.8,323.6 L827.3,323.4 L828.8,325.8 L830.2,324.1 L831.7,325.8 L833.5,327.6 L835.3,326.0 L837.1,327.1 L839.0,327.3 L840.4,327.2 L841.9,327.4 L843.3,324.4 L844.8,325.1 L846.3,324.9 L847.7,321.7 L849.2,321.5 L851.4,322.5 L853.5,322.2 L854.6,321.9 L855.7,325.2 L856.8,324.5 L857.9,326.6 L859.9,325.4 L861.8,324.7 L863.8,325.8 L865.2,324.8 L866.7,324.3 L868.1,324.4 L869.6,324.7 L871.0,322.2 L872.9,321.4 L874.7,320.0 L875.6,320.9 L876.5,324.0 L877.4,322.8 L878.3,325.1 L879.8,325.0 L881.3,327.9 L882.7,327.3 L884.5,328.3 L886.4,327.1 L888.2,327.6 L890.0,325.8 L891.8,324.1 L893.6,326.3 L895.5,325.4 L897.3,324.4 L899.0,325.1 L900.7,325.9 L902.4,323.9 L904.1,324.4 L905.8,324.5 L907.5,325.8 L909.2,325.9 L910.8,326.2 L912.5,326.3 L914.2,325.8 L915.8,327.1 L917.5,327.5 L919.2,326.6 L920.8,327.4 L922.5,325.4 L924.2,325.8 L925.8,326.1 L927.5,326.3 L929.2,327.4 L930.8,327.3 L932.5,326.5 L934.2,327.9 L935.8,327.1 L937.5,327.3 L939.2,328.4 L940.8,329.3 L942.5,328.0 L944.2,327.2 L945.8,327.8 L947.5,329.8 L949.2,327.6 L950.8,327.1 L952.5,327.7 L954.2,328.8 L955.8,329.6 L957.5,329.2 L959.2,329.8 L960.8,328.3 L962.5,326.9 L964.2,327.5 L965.8,328.0 L967.5,328.8 L969.2,327.9 L970.8,327.3 L972.5,328.1 L974.2,328.4 L975.8,328.2 L977.5,328.8 L979.2,328.6 L980.8,327.7 L982.5,327.3 L984.2,329.6 L985.8,329.4 L987.5,328.5 L989.2,328.8 L990.8,327.7 L992.5,328.3 L994.2,329.2 L995.8,330.4 L997.5,329.2 L999.2,330.8 L1000.8,329.5 L1002.8,329.8 L1004.7,329.0 L1006.7,330.2 L1008.1,330.2 L1009.6,329.8 L1011.0,329.4 L1012.5,328.8 L1014.4,329.2 L1016.4,326.8 L1018.3,328.0 L1020.3,327.6 L1022.2,328.4 L1024.2,327.3 L1025.0,328.0 L1026.7,326.9 L1028.3,326.7 L1030.0,327.1 L1031.7,327.4 L1033.3,327.8 L1035.0,327.5 L1036.7,328.0 L1038.5,328.6 L1040.3,327.4 L1042.1,328.1 L1044.0,328.8 L1045.4,328.9 L1046.9,328.2 L1048.3,329.0 L1049.8,327.3 L1051.6,329.0 L1053.4,327.3 L1055.3,327.9 L1057.1,328.8 L1058.9,328.5 L1060.7,328.2 L1062.6,327.3 L1064.4,327.3 L1066.2,327.3 L1068.0,325.1 L1069.2,325.2 L1070.5,327.0 L1071.7,328.0 L1073.4,326.7 L1075.2,328.9 L1076.9,327.9 L1078.7,328.9 L1080.4,327.3 L1082.1,326.1 L1083.8,327.7 L1085.5,327.2 L1087.2,325.5 L1088.9,327.6 L1090.6,326.6 L1092.4,328.1 L1094.3,326.0 L1096.1,329.0 L1097.9,328.0 L1099.4,328.1 L1100.8,326.9 L1102.3,326.0 L1103.8,324.4 L1105.2,324.4 L1107.0,323.2 L1108.9,324.7 L1110.7,326.0 L1112.5,325.1 L1114.3,324.4 L1116.1,325.4 L1118.0,325.0 L1119.8,325.8 L1121.6,326.4 L1123.4,327.2 L1125.3,327.0 L1127.1,325.8 L1128.8,325.2 L1130.6,325.6 L1132.3,324.3 L1134.1,325.9 L1135.8,325.8 L1137.3,326.3 L1138.8,325.8 L1140.2,322.9 L1141.7,323.6 L1143.1,322.5 L1144.6,320.4 L1146.0,320.7 L1147.5,321.1 L1149.0,323.1 L1150.4,321.7 L1151.9,322.9 L1153.3,323.5 L1154.8,323.3 L1156.3,321.5 L1158.0,321.4 L1159.7,318.6 L1161.4,318.5 L1163.1,320.8 L1164.8,321.8 L1166.5,321.5 L1167.9,322.5 L1169.4,319.0 L1170.8,320.0 L1172.3,318.9 L1173.8,320.7 L1174.8,321.4 L1175.9,323.3 L1177.0,324.3 L1178.1,325.8 L1180.0,325.0 L1181.8,327.0 L1183.6,327.4 L1185.4,327.3 L1187.0,327.8 L1188.7,327.5 L1190.3,327.7 L1191.9,328.2 L1193.5,326.4 L1195.1,327.6 L1196.8,326.8 L1198.4,326.8 L1200.0,328.0 L1201.6,328.7 L1203.2,327.3 L1204.9,327.3 L1206.5,327.0 L1208.1,327.9 L1209.7,326.4 L1211.3,327.9 L1213.0,326.1 L1214.6,327.3 L1216.2,328.7 L1217.8,326.3 L1219.4,328.1 L1221.1,327.4 L1222.7,327.1 L1224.3,326.7 L1225.9,326.9 L1227.6,328.1 L1229.2,327.3 L1230.0,327.3 L1231.6,327.4 L1233.2,327.4 L1234.9,326.5 L1236.5,327.7 L1238.1,326.3 L1239.7,327.2 L1241.3,327.7 L1243.0,327.4 L1244.6,327.3 L1246.2,327.6 L1247.8,327.7 L1249.4,326.6 L1251.1,329.0 L1252.7,328.2 L1254.3,328.5 L1255.9,329.2 L1257.5,327.8 L1259.2,328.0 L1260.8,327.7 L1262.4,327.8 L1264.0,328.0 L1265.6,328.1 L1267.3,328.3 L1268.9,328.1 L1270.5,329.1 L1272.1,328.7 L1273.8,329.5 L1275.4,328.9 L1277.0,329.6 L1278.6,328.4 L1280.2,329.9 L1281.9,329.6 L1283.5,328.0 L1285.1,329.3 L1286.7,327.2 L1288.3,328.0 L1290.0,326.8 L1291.6,329.5 L1293.2,326.6 L1294.8,326.5 L1296.4,329.1 L1298.1,326.5 L1299.7,328.5 L1301.3,328.2 L1302.9,328.0 L1304.5,327.4 L1306.2,327.6 L1307.8,329.9 L1309.4,328.4 L1311.0,328.1 L1312.6,328.8 L1314.3,329.9 L1315.9,328.7 L1317.5,329.5 L1319.1,328.2 L1320.7,330.4 L1322.4,328.3 L1324.0,328.1 L1325.6,328.0 L1327.2,331.0 L1328.8,329.3 L1330.5,330.2 L1332.1,329.5 L1333.8,329.8 L1335.4,331.1 L1337.1,329.3 L1338.8,329.4 L1340.4,330.5 L1342.1,328.6 L1343.8,330.2 L1345.2,329.1 L1346.7,329.5 L1348.1,328.2 L1349.6,327.3 L1351.3,327.4 L1352.9,328.8 L1354.6,327.4 L1356.3,328.4 L1357.9,327.5 L1359.6,326.7 L1361.3,328.0 L1362.9,327.6 L1364.5,327.0 L1366.1,326.4 L1367.7,327.1 L1369.4,326.5 L1371.0,327.4 L1372.6,328.2 L1374.2,328.1 L1375.8,327.3 L1377.5,328.5 L1379.1,326.9 L1380.7,328.0 L1382.3,328.8 L1383.9,327.4 L1385.6,329.0 L1387.2,326.7 L1388.8,329.2 L1390.4,328.0 L1391.5,327.9 L1392.6,326.9 L1393.7,325.2 L1394.8,322.9 L1396.3,323.9 L1397.7,323.6 L1399.2,324.9 L1400.6,326.6 L1402.3,327.3 L1404.0,327.9 L1405.6,327.1 L1407.3,327.3 L1409.0,328.4 L1410.6,326.5 L1412.3,327.3 L1413.8,326.4 L1415.2,325.0 L1416.7,327.1 L1418.1,325.9 L1419.6,325.1 L1421.8,326.0 L1424.0,325.8 L1425.8,325.4 L1427.6,325.6 L1429.4,326.9 L1431.3,327.3 L1433.2,328.2 L1435.1,326.4 L1437.1,326.6 L1438.8,326.6 L1440.6,326.9 L1442.3,328.5 L1444.1,326.6 L1445.8,328.0" fill="none" stroke="#ff0000" stroke-width="4.5" stroke-linejoin="round" stroke-linecap="round"/>
<path d="M530.0,324.9 L531.0,324.7 L532.0,324.4 L533.0,324.2 L534.0,324.0 L535.0,325.0 L536.0,323.8 L537.0,326.4 L538.0,323.4 L539.0,324.3 L540.0,322.4 L541.0,322.8 L542.0,320.3 L543.0,322.8 L544.0,319.1 L545.0,321.2 L546.0,319.0 L547.0,320.9 L548.0,318.4 L549.0,320.2 L550.0,319.2 L551.0,320.9 L552.0,320.8 L553.0,323.3 L554.0,322.2 L555.0,322.7 L556.0,321.9 L557.0,322.0 L558.0,321.8 L559.0,322.9 L560.0,322.7 L561.0,323.8 L562.0,323.1 L563.0,324.0 L564.0,322.0 L565.0,327.8 L566.0,320.4 L567.0,327.8 L568.0,316.7 L569.0,328.2 L570.0,315.8 L571.0,318.2 L572.0,314.9 L573.0,317.9 L574.0,313.1 L575.0,318.2 L576.0,312.3 L577.0,318.2 L578.0,313.4 L579.0,317.1 L580.0,314.7 L581.0,317.3 L582.0,315.0 L583.0,318.6 L584.0,315.7 L585.0,318.9 L586.0,316.5 L587.0,320.6 L588.0,319.2 L589.0,331.4 L590.0,314.2 L591.0,326.7 L592.0,308.3 L593.0,325.9 L594.0,307.1 L595.0,324.8 L596.0,316.9 L597.0,323.5 L598.0,320.8 L599.0,323.4 L600.0,320.9 L601.0,323.7 L602.0,321.8 L603.0,325.6 L604.0,323.3 L605.0,326.0 L606.0,324.8 L607.0,327.4 L608.0,327.6 L609.0,329.4 L610.0,329.2 L611.0,330.7 L612.0,330.6 L613.0,332.2 L614.0,331.9 L615.0,333.3 L616.0,332.3 L617.0,334.6 L618.0,330.5 L619.0,332.7 L620.0,330.0 L621.0,332.0 L622.0,329.6 L623.0,331.9 L624.0,328.0 L625.0,330.6 L626.0,326.9 L627.0,330.0 L628.0,327.2 L629.0,328.6 L630.0,326.1" fill="none" stroke="#ff0000" stroke-width="3" stroke-linejoin="miter" stroke-linecap="butt"/>
</g>
<g clip-path="url(#c2)" shape-rendering="crispEdges">
<path d="M210.8,555.8 L210.9,554.6 L211.0,553.4 L211.1,552.0 L211.3,550.8 L211.4,548.7 L211.5,547.6 L211.6,543.6 L211.7,543.2 L211.8,543.0 L211.9,540.6 L212.0,539.8 L212.1,536.0 L212.2,535.4 L212.3,534.0 L212.8,531.8 L213.3,531.2 L213.8,529.8 L214.2,526.8 L214.7,525.9 L215.2,525.2 L215.8,523.1 L216.4,523.5 L217.0,521.6 L217.5,518.4 L218.1,517.9 L218.2,517.2 L218.3,513.8 L218.5,513.5 L218.6,510.6 L218.7,508.7 L218.8,509.5 L218.9,506.1 L219.0,504.6 L219.1,505.1 L219.2,503.3 L219.4,500.1 L219.5,500.4 L219.6,497.5 L219.6,496.1 L219.7,495.0 L219.7,492.1 L219.8,492.7 L219.8,490.5 L219.9,489.8 L219.9,488.0 L220.0,484.9 L220.0,483.5 L220.1,481.5 L220.1,479.9 L220.2,478.2 L220.2,477.3 L220.3,476.7 L220.3,473.5 L220.4,473.9 L220.4,471.4 L220.5,469.8 L220.5,469.7 L220.6,467.3 L220.6,465.3 L220.7,464.3 L220.7,463.4 L220.8,460.1 L220.8,461.1 L220.9,456.9 L220.9,457.5 L221.0,456.2 L221.0,453.8 L221.1,450.8 L221.2,451.4 L221.2,448.6 L221.3,447.6 L221.4,444.4 L221.4,442.9 L221.5,441.7 L221.6,442.3 L221.6,438.6 L221.7,438.6 L221.8,436.3 L222.3,436.0 L222.9,434.6 L223.4,431.4 L224.0,430.4 L225.4,429.3 L226.9,429.0 L227.2,427.3 L227.5,426.2 L227.8,422.6 L228.0,422.7 L228.3,420.2 L230.5,421.7 L230.9,424.2 L231.3,426.1 L231.6,425.5 L232.0,429.7 L232.3,429.0 L232.7,431.9 L232.8,433.0 L233.0,435.3 L233.1,437.8 L233.2,437.7 L233.3,441.0 L233.4,441.5 L233.6,442.4 L233.7,444.0 L233.8,445.2 L233.9,446.5 L234.0,448.3 L234.2,450.8 L234.4,453.0 L234.6,455.4 L234.8,454.7 L235.0,455.9 L235.2,460.2 L235.4,460.5 L235.6,461.7 L235.8,462.8 L236.0,465.4 L236.2,467.7 L236.4,468.3 L236.5,469.8 L236.6,471.2 L236.7,471.7 L236.9,475.7 L237.0,474.7 L237.1,477.6 L237.3,480.1 L237.4,479.7 L237.5,482.9 L237.6,485.0 L237.8,485.7 L237.9,487.7 L238.0,487.3 L238.2,489.8 L238.3,490.5 L238.4,494.0 L238.5,494.6 L238.7,495.6 L238.9,497.6 L239.1,500.6 L239.3,501.8 L239.5,503.7 L239.7,503.8 L239.9,505.4 L240.1,507.7 L240.3,508.5 L240.5,509.6 L240.7,511.4 L240.9,512.3 L241.1,514.5 L241.3,517.7 L241.5,517.9 L241.7,520.8 L241.9,521.4 L242.2,522.7 L242.4,523.8 L242.7,524.7 L242.9,526.8 L243.2,529.8 L243.4,531.6 L243.6,531.7 L243.9,534.5 L244.1,536.1 L244.4,536.9 L246.6,536.9 L246.6,535.9 L246.6,534.3 L246.7,533.0 L246.7,530.3 L246.8,529.8 L246.8,527.0 L246.8,526.1 L246.9,525.3 L246.9,523.6 L247.0,520.9 L247.0,521.2 L247.0,518.8 L247.1,517.1 L247.1,514.0 L247.2,513.9 L247.2,511.5 L247.3,511.2 L247.3,509.2 L247.8,507.6 L248.3,507.1 L248.8,505.2 L249.2,504.2 L249.7,501.5 L250.2,500.4 L251.7,500.1 L253.1,499.0 L253.4,498.0 L253.7,496.7 L254.0,493.7 L254.3,493.5 L254.6,492.0 L254.9,489.9 L255.2,489.1 L255.5,487.4 L255.8,484.6 L256.0,482.9 L256.2,481.4 L256.4,478.7 L256.5,479.0 L256.7,477.7 L256.9,474.8 L257.0,473.7 L257.2,472.2 L257.3,470.6 L257.5,468.3 L259.0,468.1 L260.4,469.8 L261.1,469.1 L261.9,467.1 L262.6,465.9 L263.3,464.0 L263.4,462.2 L263.5,461.2 L263.6,460.1 L263.7,458.1 L263.8,456.8 L263.9,453.3 L264.0,452.2 L264.1,451.4 L264.2,450.4 L264.2,447.7 L264.3,447.4 L264.4,445.7 L264.5,442.5 L264.6,442.2 L264.7,440.0 L264.8,439.2 L265.0,436.3 L265.2,434.8 L265.4,433.7 L265.6,431.6 L265.8,430.0 L266.0,427.9 L266.3,427.5 L268.4,426.0 L268.8,427.6 L269.1,429.0 L269.4,431.4 L269.7,433.0 L270.0,433.6 L270.3,437.2 L270.6,437.7 L270.8,437.9 L271.1,440.7 L271.3,441.9 L271.5,443.9 L271.7,444.7 L271.9,448.3 L272.2,448.6 L272.4,449.2 L272.6,452.5 L272.8,453.8 L273.0,454.2 L273.1,457.0 L273.3,458.0 L273.4,460.2 L273.6,462.8 L273.8,464.0 L273.9,464.5 L274.1,467.1 L274.2,468.2 L274.4,469.0 L274.5,469.9 L274.7,472.8 L274.8,474.2 L275.0,475.6 L275.1,478.5 L275.2,480.1 L275.4,480.7 L275.5,481.5 L275.6,484.6 L275.7,483.7 L275.9,485.6 L276.0,488.4 L276.1,490.2 L276.2,490.4 L276.3,493.4 L276.5,494.6 L277.0,497.1 L277.6,497.2 L278.1,498.8 L278.6,500.4 L278.7,501.2 L278.8,502.9 L278.9,506.4 L279.0,506.3 L279.1,509.5 L279.2,510.9 L279.3,511.6 L279.4,512.2 L279.5,515.8 L279.6,516.0 L279.7,517.3 L279.8,518.6 L279.9,522.0 L280.0,522.2 L280.1,523.8 L280.3,524.7 L280.5,526.9 L280.7,527.5 L280.9,530.5 L281.1,531.5 L281.3,532.7 L281.5,535.7 L281.7,537.4 L281.9,536.7 L282.1,539.8 L282.3,541.3 L283.0,542.1 L283.8,545.4 L284.5,545.6 L284.9,545.0 L285.4,542.0 L285.8,540.6 L286.2,538.8 L286.7,538.3 L287.6,541.2 L288.6,540.7 L289.6,542.7 L290.5,544.5 L291.3,545.6 L292.2,547.5 L293.1,548.8 L294.0,550.0 L294.3,552.3 L294.6,552.2 L294.9,555.6 L295.3,555.9 L295.6,558.2 L295.9,559.3 L296.2,560.8 L296.6,563.0 L296.9,564.6 L297.6,563.0 L298.3,561.3 L299.1,560.9 L299.8,558.8 L300.2,560.5 L300.5,560.4 L300.9,562.4 L301.3,564.5 L301.6,567.2 L302.0,568.6 L302.3,569.1 L302.7,570.4 L303.2,570.5 L303.7,574.1 L304.2,574.8 L304.5,573.1 L304.9,572.1 L305.3,571.0 L305.6,569.3 L306.0,567.5 L306.4,567.2 L306.7,564.3 L307.1,563.1 L308.2,563.9 L309.3,566.3 L310.4,565.6 L311.5,567.5 L311.9,565.5 L312.4,565.5 L312.9,561.9 L313.4,562.6 L313.9,560.8 L314.4,558.8 L315.8,557.8 L317.3,556.7 L318.8,557.4 L320.2,555.8 L321.7,556.6 L323.1,554.1 L324.6,554.7 L326.0,554.4 L326.5,553.1 L326.9,551.5 L327.4,549.5 L327.8,547.6 L328.2,547.1 L328.7,548.8 L329.1,550.9 L329.5,550.3 L330.0,552.2 L330.4,554.4 L331.0,556.7 L331.6,558.1 L332.2,559.2 L332.8,558.9 L333.3,561.7 L334.4,563.8 L335.5,565.9 L336.6,567.4 L337.7,567.5 L338.6,566.6 L339.5,563.3 L340.3,564.1 L341.2,560.9 L342.1,560.2 L343.5,561.1 L345.0,562.4 L346.5,561.7 L346.8,560.8 L347.2,557.7 L347.6,556.7 L347.9,557.0 L348.3,553.4 L348.6,553.2 L349.0,551.2 L349.4,550.0 L350.1,550.5 L350.8,553.3 L351.6,553.1 L352.3,555.8 L352.9,556.2 L353.5,558.4 L354.0,559.0 L354.6,560.4 L355.2,563.1 L356.7,562.4 L358.1,561.9 L359.6,560.2 L360.7,562.4 L361.8,561.4 L362.9,563.3 L364.0,564.6 L365.4,564.8 L366.9,566.0 L368.0,564.9 L369.1,563.1 L370.2,562.9 L371.3,560.2 L372.7,559.1 L374.2,558.8 L375.6,558.0 L377.1,560.3 L378.5,560.2 L378.8,560.9 L379.0,564.0 L379.3,565.3 L379.5,568.2 L379.8,568.9 L380.0,570.4 L380.7,569.3 L381.5,566.8 L382.2,566.2 L382.9,564.6 L384.4,563.2 L385.8,563.1 L386.0,562.2 L386.2,559.9 L386.4,557.2 L386.6,555.8 L386.7,554.6 L386.9,553.9 L387.1,550.7 L387.3,550.0 L388.8,549.9 L390.2,548.5 L390.6,550.4 L391.0,550.3 L391.5,553.4 L391.9,553.2 L392.3,554.8 L392.7,557.6 L393.1,558.8 L393.4,556.5 L393.6,556.7 L393.8,554.0 L394.0,552.0 L394.3,551.7 L394.5,548.0 L394.7,548.4 L394.9,544.9 L395.1,543.6 L395.4,544.3 L395.6,542.0 L395.8,539.1 L396.0,538.3 L396.4,535.6 L396.8,536.3 L397.1,533.7 L397.5,532.4 L397.9,528.8 L398.2,528.1 L398.8,529.9 L399.3,530.6 L399.9,531.8 L400.4,534.0 L400.6,535.0 L400.8,537.4 L401.0,538.2 L401.2,539.9 L401.4,540.7 L401.6,544.2 L401.8,545.3 L402.0,547.3 L402.2,547.8 L402.4,550.5 L402.6,551.1 L402.8,552.9 L402.9,554.4 L403.1,556.4 L403.3,557.3 L403.6,555.4 L403.8,553.0 L404.1,551.2 L404.3,550.1 L404.6,548.1 L404.8,548.9 L405.0,546.2 L405.3,545.4 L405.5,541.7 L405.8,541.4 L406.0,541.0 L406.3,538.3 L407.7,537.9 L409.2,536.9 L409.4,538.3 L409.7,540.0 L410.0,540.5 L410.2,542.3 L410.5,543.9 L410.8,546.1 L411.0,547.7 L411.3,550.7 L411.6,550.2 L411.8,552.1 L412.1,554.4 L414.0,553.0 L415.8,552.9 L416.6,553.4 L417.3,555.2 L418.0,556.6 L418.8,558.8 L419.6,560.2 L420.5,560.4 L421.4,564.3 L422.3,564.2 L423.1,566.0 L424.6,568.0 L426.0,567.5 L427.7,567.5 L429.4,567.0 L431.1,566.0 L431.2,564.4 L431.3,564.2 L431.3,560.3 L431.4,560.3 L431.4,557.6 L431.5,557.2 L431.5,555.7 L431.6,552.6 L431.6,551.1 L431.7,549.1 L431.7,548.1 L431.8,546.1 L431.8,545.5 L431.9,544.2 L432.4,544.0 L432.8,540.9 L433.3,539.3 L433.8,538.2 L434.3,536.3 L434.8,535.4 L435.3,537.5 L435.8,538.9 L436.3,538.9 L436.7,540.5 L437.2,543.2 L437.7,544.2 L439.2,545.9 L440.6,545.6 L442.1,545.6 L442.4,544.0 L442.8,544.0 L443.2,539.9 L443.5,538.6 L443.9,539.1 L444.3,536.6 L444.6,534.1 L445.0,534.0 L446.1,535.6 L447.2,538.2 L448.3,538.4 L449.4,539.8 L450.3,540.8 L451.3,541.6 L452.3,544.2 L452.7,544.4 L453.0,548.2 L453.4,548.5 L453.8,550.0 L455.2,551.7 L456.7,549.7 L458.1,551.5 L459.6,549.8 L461.0,548.3 L462.5,548.5 L463.2,546.8 L464.0,544.4 L464.7,543.5 L465.4,542.7 L465.9,543.9 L466.3,545.1 L466.7,545.8 L467.2,547.2 L467.6,550.0 L469.4,552.1 L471.3,551.5 L472.2,552.0 L473.1,554.4 L474.0,555.6 L474.9,557.3 L475.6,555.9 L476.4,553.2 L477.1,552.4 L477.8,550.4 L478.5,550.0 L479.2,548.7 L479.8,548.3 L480.4,545.9 L481.0,545.2 L481.7,541.9 L482.3,539.9 L482.9,539.8 L484.4,539.5 L485.8,539.0 L487.3,538.9 L488.8,538.3 L489.8,536.9 L490.9,536.5 L492.0,535.7 L493.1,534.0 L494.2,534.0 L495.3,531.2 L496.4,530.5 L497.5,529.6 L498.1,529.0 L498.7,525.9 L499.3,524.1 L499.8,523.2 L500.4,522.3 L501.4,522.6 L502.4,526.0 L503.3,526.7 L504.8,528.3 L506.3,528.1 L507.0,529.1 L507.7,530.0 L508.4,531.3 L509.2,534.0 L510.3,534.7 L511.4,535.7 L512.5,538.1 L513.5,539.8 L514.6,541.1 L515.7,541.3 L516.8,541.8 L517.9,544.2 L519.4,543.3 L520.8,541.3 L521.9,538.9 L523.0,538.2 L524.1,537.4 L525.2,536.9 L526.2,538.0 L527.2,538.7 L528.1,541.3 L529.1,542.5 L530.1,543.6 L531.0,545.6 L532.5,547.8 L534.0,548.5 L535.2,547.7 L536.4,547.7 L537.6,545.6 L537.7,544.5 L537.7,543.3 L537.8,541.3 L537.9,539.4 L537.9,538.9 L538.0,536.9 L538.1,536.2 L538.1,534.1 L538.2,532.5 L538.3,529.7 L538.3,529.7 L538.4,527.0 L538.5,524.8 L538.5,523.1 L538.6,521.8 L538.7,520.6 L538.7,520.2 L538.8,517.6 L538.9,515.4 L538.9,515.9 L539.0,513.8 L539.1,512.1 L539.5,509.3 L539.9,507.9 L540.4,506.7 L540.8,505.9 L541.3,504.8 L542.7,506.5 L544.2,506.3 L544.8,509.0 L545.3,509.5 L545.9,509.9 L546.5,511.9 L547.1,513.5 L548.3,514.6 L549.5,516.0 L550.7,517.9 L551.3,515.1 L551.8,515.2 L552.3,514.5 L552.8,512.7 L553.3,509.5 L553.9,509.3 L554.4,507.7 L555.8,508.2 L557.3,510.6 L558.3,512.7 L559.2,513.4 L560.2,515.0 L560.9,517.7 L561.7,518.7 L562.4,518.3 L563.1,520.8 L564.6,520.8 L566.0,523.0 L567.5,522.3 L568.4,520.7 L569.3,519.2 L570.1,517.8 L571.0,517.2 L571.9,515.0 L572.6,514.8 L573.3,512.2 L574.1,511.9 L574.8,509.4 L575.5,506.6 L576.3,506.3 L579.2,506.3 L580.0,508.6 L580.9,508.9 L581.8,509.4 L582.7,513.4 L583.5,513.5 L584.5,513.7 L585.5,516.7 L586.5,517.9 L587.0,519.3 L587.6,521.9 L588.2,522.0 L588.8,523.0 L589.4,525.2 L589.8,523.1 L590.2,521.5 L590.6,521.0 L591.0,519.0 L591.5,518.6 L591.9,515.7 L592.3,515.0 L593.8,515.3 L595.2,516.5 L596.2,517.2 L597.2,520.7 L598.1,520.8 L599.6,521.1 L601.0,519.4 L602.5,519.6 L604.0,517.9 L604.4,519.7 L604.9,520.6 L605.4,521.3 L605.9,524.7 L606.4,525.2 L606.9,526.7 L608.3,524.9 L609.8,524.8 L611.3,525.2 L612.2,522.6 L613.2,522.9 L614.2,520.8 L614.2,520.4 L614.3,517.0 L614.3,517.1 L614.4,514.3 L614.4,513.8 L614.5,512.8 L614.5,510.6 L614.6,509.6 L614.7,506.9 L614.7,504.3 L614.8,504.2 L614.8,502.9 L614.9,500.3 L614.9,499.4 L615.0,497.6 L615.0,495.3 L615.1,494.6 L615.1,493.3 L615.2,492.0 L615.3,491.2 L615.3,488.8 L615.4,488.9 L615.4,486.9 L615.5,485.7 L615.5,483.6 L615.6,482.0 L615.6,480.0 L617.1,478.5 L617.2,480.2 L617.3,482.5 L617.3,482.8 L617.4,485.0 L617.5,486.8 L617.6,487.9 L617.7,488.7 L617.8,489.7 L617.9,491.3 L617.9,493.6 L618.0,495.8 L618.1,497.8 L618.2,499.2 L618.3,499.6 L618.4,502.9 L618.5,502.6 L618.5,504.8 L618.6,503.8 L618.7,500.5 L618.7,500.8 L618.8,499.0 L618.8,498.3 L618.9,496.5 L619.0,494.4 L619.0,493.2 L619.1,491.4 L619.1,489.5 L619.2,486.8 L619.3,486.1 L619.3,485.6 L619.4,482.9 L619.5,483.8 L619.6,487.4 L619.7,487.7 L619.8,488.9 L619.9,489.3 L620.0,492.0 L620.1,493.0 L620.2,495.8 L620.3,498.1 L620.4,499.7 L620.5,500.4 L620.6,501.4 L620.7,502.1 L620.8,504.8 L621.3,506.8 L621.7,507.9 L622.1,509.8 L622.5,510.3 L622.9,513.2 L623.3,512.7 L623.8,515.0 L625.2,514.0 L626.7,513.4 L628.1,513.5 L629.2,515.3 L630.3,517.6 L631.4,517.0 L632.5,519.4 L633.6,521.2 L634.7,523.0 L635.8,523.0 L636.9,525.2 L637.8,525.4 L638.6,528.3 L639.5,530.5 L640.4,532.1 L641.3,532.5 L642.2,534.6 L643.2,535.2 L644.2,536.9 L646.4,535.4 L646.4,533.6 L646.5,532.4 L646.5,531.9 L646.6,528.6 L646.6,527.0 L646.7,526.3 L646.7,525.8 L646.8,522.0 L646.8,520.0 L646.9,518.7 L646.9,518.4 L647.0,517.0 L647.0,514.2 L647.1,513.5 L647.2,511.1 L647.4,510.7 L647.5,509.4 L647.7,508.0 L647.8,506.5 L648.0,503.1 L648.1,502.8 L648.3,502.2 L648.4,501.0 L648.5,497.7 L648.7,497.7 L648.8,495.6 L649.0,494.8 L649.1,491.3 L649.3,491.1 L649.4,490.0 L649.6,487.4 L649.7,484.9 L649.9,483.6 L650.0,482.9 L650.3,480.3 L650.6,478.5 L651.0,477.1 L651.3,476.8 L651.6,473.7 L651.9,473.9 L652.3,472.2 L652.6,470.8 L652.9,468.3 L655.1,466.9 L655.4,469.4 L655.7,470.8 L655.9,473.0 L656.2,474.7 L656.5,475.4 L656.7,478.0 L657.0,477.3 L657.3,480.0 L657.4,480.4 L657.5,481.9 L657.6,483.8 L657.7,485.8 L657.7,487.6 L657.8,489.8 L657.9,491.5 L658.0,491.2 L658.1,493.7 L658.2,495.6 L658.3,496.7 L658.4,497.5 L658.5,500.4 L658.6,501.3 L658.7,503.8 L658.8,504.8 L658.9,506.4 L659.0,509.3 L659.2,510.9 L659.3,510.0 L659.5,513.5 L659.6,515.0 L659.8,515.5 L659.9,516.6 L660.1,519.2 L660.2,520.8 L660.7,521.9 L661.2,524.4 L661.7,526.4 L662.2,526.3 L662.6,527.5 L663.1,529.6 L664.2,528.1 L665.3,527.2 L666.4,526.0 L667.5,523.8 L669.0,523.2 L670.4,522.3 L671.4,523.2 L672.4,524.8 L673.3,526.7 L674.2,526.2 L675.1,523.8 L676.0,521.0 L676.8,520.6 L677.7,519.4 L679.2,519.6 L680.6,521.8 L682.1,522.3 L683.2,520.0 L684.3,519.5 L685.4,517.9 L686.5,517.9 L687.0,516.4 L687.6,516.4 L688.2,513.7 L688.8,511.8 L689.4,510.6 L690.8,511.4 L692.3,508.5 L693.8,509.2 L694.5,507.3 L695.2,507.1 L695.9,503.4 L696.7,503.3 L697.6,502.6 L698.6,500.0 L699.6,499.0 L701.0,498.3 L702.5,500.4 L702.9,501.2 L703.3,503.2 L703.8,504.5 L704.2,506.3 L704.6,506.5 L705.0,508.4 L705.4,510.6 L706.9,512.7 L708.3,512.1 L709.8,510.5 L711.3,509.2 L711.6,510.7 L711.9,511.1 L712.3,513.3 L712.6,516.7 L712.9,517.5 L713.3,518.6 L713.6,518.9 L713.9,521.4 L714.3,524.1 L714.6,524.7 L715.0,526.7 L715.3,529.1 L715.6,529.6 L717.1,529.0 L718.5,528.0 L720.0,526.7 L720.7,523.9 L721.5,522.4 L722.2,523.0 L722.9,520.8 L723.4,519.1 L723.9,519.0 L724.4,517.4 L724.9,516.2 L725.3,513.2 L725.8,512.1 L726.3,514.9 L726.8,515.7 L727.3,517.6 L727.8,516.9 L728.3,520.2 L728.8,520.8 L729.5,522.1 L730.2,525.1 L730.9,526.6 L731.7,526.7 L733.1,526.8 L734.6,528.4 L736.0,529.6 L737.5,527.5 L739.0,526.7 L739.3,525.0 L739.6,522.8 L739.9,522.3 L740.3,519.1 L740.6,517.6 L740.9,516.8 L741.2,514.1 L741.6,513.4 L741.9,512.1 L742.0,511.7 L742.2,510.1 L742.4,506.6 L742.5,504.6 L742.7,505.3 L742.8,504.1 L743.0,501.6 L743.2,498.8 L743.3,497.5 L743.5,497.9 L743.7,496.4 L743.8,492.3 L744.0,491.2 L744.1,490.3 L744.3,488.3 L744.5,488.2 L744.6,485.6 L744.8,484.4 L746.3,484.4 L747.7,482.9 L748.0,483.6 L748.4,486.2 L748.7,489.1 L749.0,490.0 L749.3,489.9 L749.7,491.6 L750.0,494.7 L750.3,495.5 L750.6,497.5 L751.2,495.7 L751.8,494.5 L752.4,493.4 L753.0,493.0 L753.5,490.2 L754.5,490.9 L755.5,493.3 L756.5,494.6 L756.6,495.5 L756.8,497.8 L756.9,499.8 L757.1,499.7 L757.2,502.2 L757.4,504.4 L757.5,504.0 L757.7,507.6 L757.8,508.2 L758.0,509.9 L758.1,511.8 L758.3,513.8 L758.5,513.3 L758.6,516.1 L758.8,516.3 L758.9,518.8 L759.1,520.3 L759.2,520.9 L759.4,523.8 L759.6,524.9 L759.9,527.0 L760.1,529.3 L760.4,531.7 L760.6,531.9 L760.8,534.0 L761.1,535.6 L761.3,537.7 L761.5,539.9 L761.7,541.5 L762.0,543.2 L762.2,542.8 L762.4,544.0 L762.6,547.7 L762.9,546.9 L763.1,549.5 L763.3,551.9 L763.5,552.9 L763.8,554.4 L764.7,555.5 L765.7,558.5 L766.7,558.8 L768.1,559.2 L769.6,560.8 L771.0,561.7 L772.1,563.7 L773.2,562.8 L774.3,564.5 L775.4,566.0 L776.5,564.9 L777.6,564.0 L778.7,561.9 L779.8,561.7 L780.9,560.1 L782.0,557.5 L783.1,556.1 L784.2,555.8 L784.7,553.9 L785.1,551.9 L785.6,552.8 L786.1,549.3 L786.6,547.9 L787.1,547.1 L788.5,547.2 L790.0,545.6 L790.4,547.8 L790.7,547.9 L791.1,550.9 L791.5,551.5 L791.6,550.2 L791.7,548.0 L791.9,547.0 L792.0,544.4 L792.1,542.8 L792.3,543.0 L792.4,540.2 L792.5,539.8 L792.7,536.2 L792.8,534.5 L792.9,534.0 L793.3,531.2 L793.8,531.7 L794.2,529.8 L794.6,526.8 L795.0,525.4 L795.4,526.1 L795.8,523.8 L797.3,523.3 L798.8,523.8 L800.2,522.3 L800.5,522.8 L800.8,526.0 L801.1,526.5 L801.4,529.9 L801.7,531.0 L802.1,529.9 L802.5,528.4 L802.9,525.9 L803.3,526.5 L803.8,522.7 L804.2,521.1 L804.6,520.8 L806.0,522.3 L807.5,521.6 L809.0,523.8 L809.7,521.1 L810.4,520.7 L811.1,519.8 L811.9,517.9 L813.3,520.5 L814.8,520.8 L815.1,523.0 L815.3,522.8 L815.6,526.0 L815.9,528.2 L816.1,527.7 L816.4,531.1 L816.7,531.3 L816.9,533.0 L817.2,533.8 L817.4,537.5 L817.7,538.3 L817.9,536.7 L818.1,536.2 L818.3,533.3 L818.4,530.8 L818.6,529.3 L818.8,527.8 L819.0,528.1 L819.2,525.2 L820.1,525.8 L821.1,527.0 L822.1,529.6 L822.5,531.4 L822.9,534.0 L823.4,534.2 L823.9,536.7 L824.4,538.7 L824.9,540.2 L825.3,540.3 L825.8,542.7 L827.3,543.2 L828.8,545.6 L829.2,547.1 L829.6,549.1 L830.0,549.9 L830.4,551.7 L830.8,554.1 L831.3,553.4 L831.7,555.8 L832.3,556.6 L832.8,558.7 L833.4,560.3 L834.0,562.8 L834.6,563.1 L835.3,564.7 L836.0,566.5 L836.8,567.3 L837.5,569.0 L839.0,570.2 L840.4,570.9 L841.9,570.4 L843.3,568.9 L844.8,567.4 L846.3,567.5 L846.4,565.3 L846.5,564.0 L846.6,563.9 L846.7,560.6 L846.8,560.0 L846.9,558.5 L847.0,557.8 L847.1,553.9 L847.3,554.1 L847.4,551.3 L847.5,549.1 L847.6,549.0 L847.7,547.1 L849.9,548.1 L852.1,547.1 L852.4,548.9 L852.7,549.1 L853.1,553.3 L853.4,553.2 L853.7,555.6 L854.0,557.4 L854.4,557.8 L854.7,559.8 L855.0,561.7 L856.0,562.7 L856.9,563.5 L857.9,566.0 L859.4,564.3 L860.8,565.7 L862.3,564.6 L862.7,562.9 L863.1,562.7 L863.5,559.0 L864.0,558.2 L864.4,556.4 L864.8,557.1 L865.2,554.4 L866.7,555.7 L868.1,556.5 L869.6,555.8 L870.2,554.4 L870.8,551.8 L871.3,551.2 L871.9,549.2 L872.5,548.5 L874.0,545.8 L875.4,545.6 L875.9,547.3 L876.4,548.0 L876.9,548.9 L877.4,551.5 L877.8,554.1 L878.3,554.4 L878.8,557.1 L879.3,557.2 L879.8,557.6 L880.3,561.0 L880.8,560.6 L881.3,563.1 L882.7,563.7 L884.2,562.9 L885.6,564.6 L887.1,565.5 L888.5,563.7 L890.0,563.1 L891.5,562.5 L892.9,561.5 L894.4,561.7 L895.5,560.4 L896.6,560.1 L897.7,557.1 L898.8,555.8 L899.3,556.5 L899.9,558.8 L900.5,561.4 L901.1,561.3 L901.7,563.1 L902.2,565.0 L902.6,567.2 L903.1,567.0 L903.6,569.8 L904.1,570.5 L904.6,571.9 L907.5,571.9 L907.9,569.4 L908.3,567.7 L908.8,568.7 L909.2,565.9 L909.6,564.4 L910.0,564.3 L910.4,561.7 L912.6,561.9 L914.8,561.7 L916.3,562.6 L917.7,563.0 L919.2,564.6 L920.1,566.7 L921.1,566.8 L922.1,569.0 L923.1,567.4 L924.0,566.8 L925.0,564.6 L926.5,565.6 L927.9,566.0 L929.0,566.5 L930.1,568.1 L931.2,571.0 L932.3,571.9 L934.5,572.5 L936.7,571.9 L938.9,570.8 L941.0,571.9 L942.5,572.9 L944.0,570.1 L945.4,569.9 L946.9,570.4 L948.3,568.9 L949.8,569.5 L951.3,569.7 L952.7,569.0 L954.2,569.2 L955.6,566.6 L957.1,567.3 L958.5,566.0 L960.0,565.9 L961.5,568.2 L962.9,569.0 L963.9,569.7 L964.9,571.5 L965.8,573.3 L966.1,570.5 L966.4,570.8 L966.6,567.5 L966.9,567.7 L967.2,564.9 L967.4,564.0 L967.7,562.6 L968.0,560.6 L968.2,560.1 L968.5,558.6 L968.8,555.8 L969.1,556.7 L969.5,558.3 L969.8,561.3 L970.2,560.6 L970.6,562.9 L970.9,564.3 L971.3,567.4 L971.7,567.5 L973.1,567.2 L974.6,569.4 L976.0,570.4 L977.5,570.4 L979.7,571.1 L981.9,570.4 L982.1,567.3 L982.4,568.3 L982.6,564.8 L982.9,564.6 L983.1,562.4 L983.3,560.2 L984.3,561.4 L985.3,564.1 L986.3,564.6 L987.3,566.2 L988.4,566.3 L989.5,568.5 L990.6,569.0 L991.7,567.5 L992.8,566.6 L993.9,564.9 L995.0,563.1 L995.3,562.4 L995.6,559.0 L995.9,558.3 L996.2,555.3 L996.5,555.9 L996.8,554.3 L997.0,552.8 L997.3,549.0 L997.6,548.8 L997.9,547.1 L999.4,548.0 L1000.8,548.0 L1002.3,550.0 L1002.9,550.6 L1003.5,554.2 L1004.2,555.4 L1004.8,555.1 L1005.4,558.2 L1006.0,559.2 L1006.7,560.2 L1008.1,561.3 L1009.6,563.1 L1011.8,563.5 L1014.0,563.1 L1015.1,561.3 L1016.1,560.3 L1017.2,558.5 L1018.3,558.8 L1018.8,557.7 L1019.2,556.1 L1019.6,555.1 L1020.0,552.9 L1020.4,551.3 L1020.8,549.5 L1021.3,548.5 L1022.7,549.9 L1024.2,550.0 L1024.6,551.1 L1025.0,553.2 L1025.4,555.1 L1025.8,555.7 L1026.3,557.8 L1026.7,557.5 L1027.1,560.2 L1029.0,559.5 L1030.8,560.2 L1031.7,559.7 L1032.6,556.3 L1033.5,554.6 L1034.3,553.0 L1035.2,552.9 L1035.9,555.1 L1036.7,554.7 L1037.4,557.2 L1038.1,558.8 L1038.5,557.1 L1039.0,556.7 L1039.4,554.3 L1039.8,553.0 L1040.2,550.1 L1040.6,550.8 L1041.0,548.5 L1042.5,549.8 L1044.0,549.9 L1045.4,550.0 L1045.6,549.3 L1045.8,547.0 L1046.0,545.7 L1046.1,544.4 L1046.3,542.1 L1046.5,538.8 L1046.7,539.6 L1046.9,536.9 L1048.7,537.5 L1050.5,535.4 L1050.7,536.2 L1050.9,537.4 L1051.1,539.7 L1051.3,540.6 L1051.4,543.0 L1051.6,543.7 L1051.8,545.7 L1052.0,546.7 L1052.2,549.4 L1052.3,550.7 L1052.5,553.4 L1052.7,554.4 L1053.4,555.5 L1054.2,556.4 L1054.9,560.0 L1055.6,560.2 L1056.2,559.9 L1056.8,557.8 L1057.4,555.0 L1058.0,554.1 L1058.5,552.9 L1060.0,553.5 L1061.5,554.4 L1061.9,555.6 L1062.3,556.0 L1062.7,558.6 L1063.1,561.0 L1063.5,562.2 L1064.0,564.1 L1064.4,564.6 L1065.3,566.6 L1066.3,568.2 L1067.3,569.0 L1069.5,570.0 L1071.7,569.0 L1072.0,568.5 L1072.3,566.6 L1072.5,563.9 L1072.8,563.0 L1073.1,561.4 L1073.4,560.4 L1073.7,558.3 L1074.0,556.0 L1074.3,553.7 L1074.6,552.9 L1076.0,552.1 L1077.5,551.5 L1079.0,552.3 L1080.4,551.5 L1081.4,550.8 L1082.4,547.7 L1083.3,547.1 L1083.9,545.7 L1084.5,545.1 L1085.1,542.3 L1085.7,540.1 L1086.3,539.8 L1087.7,540.8 L1089.2,541.3 L1090.1,539.4 L1091.1,537.3 L1092.1,536.9 L1092.5,537.7 L1092.9,538.4 L1093.3,540.3 L1093.8,542.5 L1094.2,543.1 L1094.6,544.2 L1095.0,547.1 L1095.6,548.7 L1096.2,551.3 L1096.8,552.4 L1097.3,552.4 L1097.9,554.4 L1099.4,554.1 L1100.8,551.5 L1102.7,549.6 L1104.5,550.0 L1104.5,547.4 L1104.6,545.4 L1104.7,544.0 L1104.7,543.9 L1104.8,542.8 L1104.9,540.4 L1104.9,539.7 L1105.0,537.1 L1105.1,536.9 L1105.1,534.4 L1105.2,532.5 L1106.3,534.1 L1107.4,535.4 L1107.6,536.1 L1107.8,538.4 L1108.0,540.0 L1108.2,542.7 L1108.4,542.6 L1108.6,544.4 L1108.8,547.4 L1109.0,546.9 L1109.2,549.8 L1109.4,550.5 L1109.6,552.9 L1111.0,551.9 L1112.5,550.0 L1113.1,548.8 L1113.7,546.0 L1114.3,546.3 L1114.8,543.9 L1115.4,542.7 L1115.8,543.7 L1116.3,546.6 L1116.7,547.9 L1117.1,548.0 L1117.5,550.5 L1117.9,550.4 L1118.3,552.9 L1118.8,554.4 L1119.3,554.7 L1119.8,557.7 L1120.3,559.9 L1120.8,560.6 L1121.3,560.4 L1121.7,563.2 L1122.2,564.5 L1122.7,566.0 L1123.1,564.4 L1123.5,562.2 L1124.0,561.0 L1124.4,560.1 L1124.8,557.6 L1125.2,557.8 L1125.6,555.8 L1126.4,556.6 L1127.1,558.2 L1127.8,559.1 L1128.5,561.7 L1129.1,559.7 L1129.7,560.0 L1130.3,556.7 L1130.9,554.7 L1131.5,554.4 L1132.6,552.9 L1133.6,553.4 L1134.7,549.9 L1135.8,550.0 L1136.9,550.7 L1138.0,551.4 L1139.1,553.8 L1140.2,554.4 L1140.4,555.9 L1140.6,556.5 L1140.8,560.3 L1140.9,560.5 L1141.1,563.1 L1141.3,564.1 L1141.5,566.9 L1141.7,567.5 L1143.9,566.0 L1143.9,563.2 L1144.0,562.1 L1144.1,560.6 L1144.1,559.0 L1144.2,558.9 L1144.3,556.4 L1144.4,554.4 L1144.4,553.2 L1144.5,552.6 L1144.6,550.0 L1144.8,548.6 L1144.9,546.7 L1145.1,545.7 L1145.3,544.0 L1145.4,541.9 L1145.6,540.4 L1145.8,538.0 L1145.9,537.3 L1146.1,536.9 L1146.3,533.8 L1146.4,532.3 L1146.6,531.4 L1146.8,529.6 L1147.4,528.4 L1148.0,525.8 L1148.6,525.1 L1149.2,524.4 L1149.8,521.0 L1150.4,520.8 L1150.7,518.1 L1151.1,518.3 L1151.4,517.1 L1151.7,513.1 L1152.0,511.6 L1152.4,511.5 L1152.7,508.9 L1153.0,508.3 L1153.3,506.3 L1153.6,503.2 L1153.9,502.6 L1154.2,500.1 L1154.5,498.8 L1154.8,497.5 L1155.9,496.6 L1157.0,494.6 L1158.1,494.1 L1159.2,491.7 L1159.9,491.2 L1160.6,489.1 L1161.4,488.3 L1162.1,485.8 L1162.5,486.4 L1162.8,488.7 L1163.2,489.7 L1163.5,492.0 L1163.9,492.0 L1164.3,495.7 L1164.6,495.7 L1165.0,497.5 L1165.1,499.9 L1165.3,501.9 L1165.4,503.5 L1165.5,503.6 L1165.7,506.5 L1165.8,508.4 L1165.9,507.6 L1166.1,510.9 L1166.2,512.5 L1166.3,513.3 L1166.5,515.0 L1166.6,516.0 L1166.8,517.4 L1167.0,519.7 L1167.2,522.8 L1167.4,522.9 L1167.6,524.2 L1167.7,526.8 L1167.9,528.1 L1168.6,529.4 L1169.4,531.4 L1170.1,532.4 L1170.8,534.0 L1172.3,534.1 L1173.8,535.4 L1174.1,535.7 L1174.4,539.6 L1174.7,540.7 L1175.0,541.2 L1175.4,543.5 L1175.7,545.4 L1176.0,546.8 L1176.3,549.5 L1176.7,550.0 L1177.0,552.2 L1177.4,552.4 L1177.8,553.9 L1178.1,556.1 L1178.5,556.3 L1178.9,560.0 L1179.2,558.9 L1179.6,561.7 L1181.0,562.6 L1182.5,563.0 L1184.0,564.6 L1185.1,565.8 L1186.1,565.5 L1187.2,567.1 L1188.3,569.0 L1190.3,570.3 L1192.2,569.8 L1194.2,569.0 L1195.6,567.8 L1197.1,568.1 L1198.5,566.6 L1200.0,567.5 L1201.8,566.1 L1203.6,565.9 L1205.5,567.8 L1207.3,566.0 L1208.4,566.6 L1209.5,567.5 L1210.6,568.1 L1211.7,570.4 L1213.1,568.7 L1214.6,570.6 L1216.0,569.3 L1217.5,569.3 L1219.0,567.5 L1220.1,569.5 L1221.1,570.5 L1222.2,570.1 L1223.3,571.9 L1224.8,569.9 L1226.3,569.0 L1227.7,567.4 L1229.2,567.5 L1230.0,567.5 L1231.5,566.2 L1232.9,567.4 L1234.4,566.4 L1235.8,566.0 L1236.8,565.9 L1237.8,567.9 L1238.8,569.7 L1240.2,569.7 L1241.7,568.7 L1243.1,566.8 L1244.6,568.0 L1246.0,568.5 L1247.5,569.6 L1249.0,569.0 L1250.4,569.5 L1251.9,569.4 L1253.3,570.3 L1254.8,570.4 L1255.8,568.4 L1256.7,566.2 L1257.7,566.0 L1258.2,563.9 L1258.7,563.0 L1259.2,560.6 L1259.7,559.0 L1260.1,558.0 L1260.6,557.3 L1262.1,556.2 L1263.5,555.8 L1264.0,558.6 L1264.5,558.7 L1265.0,561.2 L1265.5,562.4 L1266.0,563.4 L1266.5,564.6 L1267.4,565.5 L1268.4,567.2 L1269.4,569.0 L1270.1,567.0 L1270.8,566.4 L1271.6,565.6 L1272.3,563.1 L1272.7,565.8 L1273.0,566.2 L1273.4,567.6 L1273.8,570.4 L1275.2,567.6 L1276.7,567.5 L1278.6,567.7 L1280.6,566.7 L1282.5,567.5 L1284.0,565.1 L1285.4,565.0 L1286.9,564.6 L1288.0,564.9 L1289.1,565.9 L1290.2,568.3 L1291.3,569.0 L1292.7,568.7 L1294.2,567.4 L1295.6,567.5 L1296.7,567.1 L1297.8,564.5 L1298.9,565.4 L1300.0,563.1 L1300.6,560.6 L1301.2,560.5 L1301.8,559.3 L1302.3,557.9 L1302.9,555.8 L1303.9,554.3 L1304.9,554.0 L1305.8,551.5 L1306.3,553.3 L1306.7,554.9 L1307.1,554.7 L1307.5,556.4 L1307.9,558.7 L1308.3,560.3 L1308.8,561.7 L1309.3,562.0 L1309.9,565.3 L1310.5,565.6 L1311.1,567.4 L1311.7,569.0 L1313.1,568.5 L1314.6,568.9 L1316.0,567.5 L1316.6,565.5 L1317.2,564.8 L1317.8,563.4 L1318.4,562.1 L1319.0,560.2 L1320.4,560.2 L1321.9,560.6 L1323.3,561.7 L1326.3,561.7 L1328.2,561.6 L1330.1,562.0 L1332.1,561.7 L1333.5,562.8 L1335.0,562.1 L1336.5,563.7 L1337.9,564.6 L1338.2,563.0 L1338.5,560.2 L1338.8,558.2 L1339.1,558.8 L1339.4,555.8 L1340.8,553.8 L1342.3,554.4 L1343.8,553.1 L1345.2,552.9 L1345.5,549.9 L1345.8,548.8 L1346.1,546.7 L1346.4,545.6 L1346.7,544.2 L1348.9,545.3 L1351.0,544.2 L1353.2,543.0 L1355.4,544.2 L1356.1,542.3 L1356.9,541.8 L1357.6,540.1 L1358.3,538.3 L1358.8,538.5 L1359.2,540.5 L1359.6,542.1 L1360.0,545.3 L1360.4,545.5 L1360.8,546.4 L1361.3,548.5 L1361.8,549.9 L1362.4,551.4 L1363.0,551.9 L1363.6,554.8 L1364.2,555.8 L1365.3,555.4 L1366.4,553.6 L1367.5,552.7 L1368.5,551.5 L1369.3,550.8 L1370.0,549.8 L1370.7,547.4 L1371.5,545.6 L1371.9,542.9 L1372.3,542.7 L1372.7,541.7 L1373.1,539.3 L1373.5,538.9 L1374.0,536.5 L1374.4,535.4 L1376.6,535.7 L1378.8,535.4 L1379.5,537.2 L1380.2,538.8 L1380.9,541.0 L1381.7,541.3 L1382.0,543.6 L1382.3,545.3 L1382.5,547.1 L1382.8,547.5 L1383.1,550.0 L1383.8,551.8 L1384.4,553.3 L1385.0,553.1 L1385.6,556.5 L1386.3,556.5 L1386.9,558.7 L1387.5,560.2 L1389.0,560.8 L1390.4,561.8 L1391.9,561.7 L1393.3,561.9 L1394.8,560.6 L1396.3,560.2 L1396.7,560.0 L1397.2,557.1 L1397.7,556.0 L1398.2,555.8 L1398.7,552.4 L1399.2,551.5 L1400.6,550.6 L1402.1,548.5 L1402.8,551.3 L1403.5,550.3 L1404.3,553.7 L1405.0,554.4 L1405.6,556.3 L1406.2,557.4 L1406.8,559.6 L1407.3,561.2 L1407.9,561.7 L1408.8,559.2 L1409.7,558.7 L1410.5,557.6 L1411.4,556.4 L1412.3,554.4 L1413.8,554.6 L1415.2,553.0 L1416.7,552.0 L1418.1,550.0 L1418.9,547.3 L1419.6,546.9 L1420.3,546.8 L1421.0,544.2 L1423.2,545.4 L1425.4,544.2 L1426.1,546.3 L1426.9,546.6 L1427.6,549.3 L1428.3,550.1 L1429.1,551.9 L1429.8,552.9 L1430.5,551.8 L1431.3,551.0 L1432.0,549.1 L1432.7,547.1 L1434.9,548.4 L1437.1,547.1 L1438.5,546.3 L1440.0,545.6 L1440.5,547.1 L1441.0,549.0 L1441.5,550.2 L1441.9,550.2 L1442.4,554.2 L1442.9,554.4 L1443.1,555.5 L1443.3,557.7 L1443.5,558.1 L1443.8,560.2 L1444.0,563.9 L1444.2,563.8 L1444.4,566.0 L1445.8,566.9 L1447.3,569.0" fill="none" stroke="#0000ff" stroke-width="4.5" stroke-linejoin="round" stroke-linecap="round"/>
</g>
<g clip-path="url(#c3)" shape-rendering="crispEdges">
<path d="M210.8,580.3 L210.8,615.8 L213.8,672.0 L219.6,630.4 L221.0,580.3Z" fill="#e3e3e3" stroke="none"/>
<path d="M225.4,580.3 L226.1,643.5 L229.1,643.5 L229.8,580.3Z" fill="#e3e3e3" stroke="none"/>
<path d="M244.4,580.3 L245.8,630.4 L250.2,681.5 L254.6,681.5 L257.5,620.2 L262.6,620.2 L263.3,580.3Z" fill="#e3e3e3" stroke="none"/>
<path d="M477.1,580.3 L477.1,594.0 L482.9,592.5 L485.8,604.2 L491.7,604.2 L497.5,602.7 L501.9,607.8 L506.3,602.7 L510.6,605.6 L513.5,610.0 L517.9,617.3 L523.8,614.4 L526.7,623.1 L531.0,620.2 L535.4,626.0 L538.3,621.7 L541.3,627.5 L545.6,626.0 L547.1,639.2 L551.5,639.2 L552.9,647.9 L558.8,645.0 L563.1,649.4 L567.5,646.5 L573.3,647.9 L577.7,656.7 L585.0,659.6 L593.8,658.9 L599.6,656.7 L601.0,650.1 L604.0,650.8 L609.1,662.5 L612.7,652.3 L614.2,627.5 L617.1,627.5 L617.8,640.6 L620.0,640.6 L620.0,580.3Z" fill="#e3e3e3" stroke="none"/>
<path d="M615.0,580.3 L615.0,647.9 L616.5,629.0 L617.9,645.0 L623.8,633.3 L626.7,647.9 L631.0,659.6 L635.4,642.1 L639.8,637.7 L642.7,658.1 L645.6,643.5 L650.0,652.3 L652.2,631.9 L654.4,647.9 L658.8,647.9 L660.2,669.8 L666.0,668.3 L670.4,666.9 L676.3,669.8 L682.1,671.3 L685.0,666.9 L687.9,674.2 L690.1,662.5 L692.3,662.5 L695.2,674.2 L698.1,669.8 L699.6,656.7 L702.5,653.8 L704.0,662.5 L705.4,611.5 L708.3,605.6 L709.8,629.0 L711.3,656.7 L712.7,629.0 L715.6,645.0 L718.5,650.8 L722.9,647.9 L725.8,645.0 L728.8,652.3 L731.7,661.0 L733.1,671.3 L736.0,661.0 L740.4,669.8 L741.9,631.9 L744.1,631.9 L745.5,671.3 L747.0,677.1 L749.2,640.6 L750.6,580.3Z" fill="#e3e3e3" stroke="none"/>
<path d="M788.5,580.3 L789.3,629.0 L795.8,629.0 L797.0,580.3Z" fill="#e3e3e3" stroke="none"/>
<path d="M210.8,580.3 L211.6,615.8 L212.3,720.8 L213.8,672.7 L215.2,713.5 L218.1,739.8 L219.6,633.3 L221.0,580.3 L221.8,643.5 L224.0,739.8 L225.4,580.3 L226.9,642.1 L228.3,720.8 L229.1,643.5 L231.3,580.3 L232.7,680.0 L234.2,633.3 L235.6,580.3 L237.1,588.1 L241.5,580.3 L242.2,681.5 L244.4,580.3 L245.8,633.3 L248.8,717.9 L251.7,681.5 L254.6,723.8 L257.5,677.1 L259.0,620.2 L261.9,620.2 L263.3,691.7 L264.8,580.3 L266.3,662.5 L267.7,580.3 L269.2,669.8 L270.6,604.2 L272.1,647.9 L273.5,580.3 L275.0,636.3 L275.7,580.3 L282.3,580.3 L283.8,621.7 L285.9,621.7 L287.0,580.3 L288.9,604.2 L291.0,608.5 L292.5,580.3 L324.6,580.3 L325.3,589.6 L327.5,589.6 L328.2,580.3 L391.7,580.3 L393.1,587.4 L396.0,580.3 L401.9,610.0 L404.8,610.0 L406.3,580.3 L409.2,596.9 L412.1,595.4 L414.7,580.3 L426.0,580.3 L428.2,626.0 L430.4,626.0 L431.9,580.3 L433.3,617.3 L437.7,580.3 L439.2,617.3 L442.1,617.3 L443.5,580.3 L456.7,580.3 L461.0,591.0 L463.2,580.3 L476.4,580.3 L477.1,594.0 L482.9,592.5 L485.8,604.2 L491.7,604.2 L497.5,602.7 L501.9,607.8 L506.3,602.7 L510.6,605.6 L513.5,610.0 L517.9,617.3 L523.8,614.4 L526.7,623.1 L531.0,620.2 L535.4,626.0 L538.3,621.7 L541.3,627.5 L545.6,626.0 L547.1,639.2 L551.5,639.2 L552.9,647.9 L558.8,645.0 L563.1,649.4 L567.5,646.5 L573.3,647.9 L577.7,656.7 L585.0,659.6 L593.8,658.9 L599.6,656.7 L601.0,650.1 L604.0,650.8 L609.1,662.5 L612.7,652.3 L614.2,627.5 L617.1,627.5 L617.8,640.6 L623.8,633.3 L626.7,647.9 L631.0,659.6 L635.4,642.1 L639.8,637.7 L642.7,658.1 L645.6,643.5 L650.0,652.3 L652.2,631.9 L654.4,647.9 L658.8,647.9 L660.2,669.8 L666.0,668.3 L670.4,666.9 L676.3,669.8 L682.1,671.3 L685.0,666.9 L687.9,674.2 L690.1,662.5 L692.3,662.5 L695.2,674.2 L698.1,669.8 L699.6,656.7 L702.5,653.8 L704.0,662.5 L705.4,611.5 L708.3,605.6 L709.8,629.0 L711.3,656.7 L712.7,629.0 L715.6,645.0 L718.5,650.8 L722.9,647.9 L725.8,645.0 L728.8,652.3 L731.7,661.0 L733.1,671.3 L736.0,661.0 L740.4,669.8 L741.9,631.9 L744.1,631.9 L745.5,671.3 L747.0,680.0 L749.2,640.6 L750.6,677.1 L752.1,580.3 L781.3,580.3 L782.7,602.7 L785.6,602.7 L787.1,595.4 L788.5,646.5 L791.5,630.4 L795.8,647.9 L797.3,580.3 L800.2,614.4 L803.1,580.3 L804.6,664.0 L807.5,664.0 L809.0,580.3 L811.1,656.7 L813.3,633.3 L816.3,633.3 L817.7,580.3 L841.9,580.3 L843.3,652.3 L846.3,652.3 L847.0,580.3 L848.4,646.5 L850.6,645.0 L851.4,580.3 L859.4,580.3 L860.1,617.3 L863.0,617.3 L863.8,580.3 L866.7,580.3 L868.1,636.3 L872.5,636.3 L874.0,580.3 L880.5,580.3 L881.3,587.4 L884.2,587.4 L884.9,580.3 L887.1,580.3 L888.5,601.3 L890.7,601.3 L892.9,580.3 L893.6,589.6 L895.8,589.6 L896.6,580.3 L962.2,580.3 L962.9,602.0 L965.8,602.0 L966.6,580.3 L977.5,580.3 L978.2,585.9 L980.4,585.9 L984.8,580.3 L986.3,604.2 L989.2,604.2 L990.6,580.3 L997.2,580.3 L997.9,585.9 L1000.8,585.9 L1001.6,580.3 L1027.1,580.3 L1028.5,585.2 L1029.7,580.3 L1030.8,585.2 L1031.6,580.3 L1036.7,580.3 L1038.1,591.0 L1041.0,591.0 L1041.8,610.0 L1044.0,631.9 L1046.9,631.9 L1048.3,618.8 L1049.1,580.3 L1074.6,580.3 L1075.3,598.3 L1079.0,598.3 L1081.1,580.3 L1081.9,615.8 L1084.8,615.8 L1086.3,580.3 L1087.0,623.1 L1088.4,649.4 L1091.4,649.4 L1092.1,580.3 L1093.5,631.9 L1095.7,631.9 L1096.5,580.3 L1097.9,621.7 L1100.8,580.3 L1101.6,645.0 L1104.5,645.0 L1105.2,580.3 L1108.1,621.7 L1111.0,621.7 L1111.8,580.3 L1112.5,640.6 L1115.4,640.6 L1116.1,580.3 L1118.3,598.3 L1120.5,618.8 L1124.2,618.8 L1125.6,580.3 L1127.1,604.2 L1129.3,604.2 L1130.0,633.3 L1133.6,633.3 L1134.4,580.3 L1135.8,624.6 L1138.0,580.3 L1139.5,634.8 L1140.9,664.0 L1143.9,669.1 L1146.0,668.3 L1147.5,659.6 L1149.0,653.8 L1151.1,653.8 L1152.6,580.3 L1153.3,647.9 L1155.5,647.9 L1157.0,580.3 L1157.7,621.7 L1160.6,621.7 L1161.4,580.3 L1163.5,608.5 L1165.7,623.1 L1166.5,629.7 L1170.1,629.7 L1170.8,580.3 L1172.3,599.8 L1173.8,580.3 L1178.1,589.6 L1178.9,600.5 L1182.5,600.5 L1183.2,580.3 L1205.8,580.3 L1206.6,596.9 L1210.2,598.3 L1211.7,580.3 L1213.1,603.4 L1217.5,603.4 L1218.2,580.3 L1300.0,580.3 L1301.5,596.9 L1302.9,599.1 L1305.1,599.1 L1305.8,580.3 L1314.6,580.3 L1316.0,589.6 L1319.0,589.6 L1319.7,580.3 L1336.5,580.3 L1337.9,593.2 L1340.8,593.2 L1342.3,580.3 L1344.5,598.3 L1346.7,599.1 L1348.1,580.3 L1348.9,607.1 L1351.8,607.1 L1352.5,610.7 L1356.1,610.7 L1356.9,580.3 L1358.3,602.7 L1362.0,602.7 L1362.7,580.3 L1364.9,602.0 L1369.3,602.0 L1370.0,580.3 L1371.5,607.1 L1372.9,612.2 L1377.3,612.2 L1378.8,580.3 L1381.7,585.2 L1384.6,585.9 L1387.5,580.3 L1389.7,589.6 L1393.3,594.0 L1396.3,594.0 L1397.7,580.3 L1399.2,588.9 L1402.1,591.0 L1406.5,591.0 L1407.9,580.3 L1410.8,585.2 L1413.8,585.2 L1415.2,580.3 L1424.0,580.3 L1425.4,584.5 L1426.9,580.3 L1434.2,580.3 L1435.6,589.6 L1437.1,603.4 L1440.0,603.4 L1441.5,580.3 L1442.9,595.4 L1445.8,596.9 L1446.6,580.3" fill="none" stroke="#0000ff" stroke-width="4" stroke-linejoin="round" stroke-linecap="round" stroke-linecap="butt" stroke-linejoin="miter"/>
<path d="M210.8,580.3 L211.6,615.8 L212.3,720.8 L213.8,672.7 L215.2,713.5 L218.1,739.8 L219.6,633.3 L221.0,580.3 L221.8,643.5 L224.0,739.8 L225.4,580.3 L226.9,642.1 L228.3,720.8 L229.1,643.5 L231.3,580.3 L232.7,680.0 L234.2,633.3 L235.6,580.3 L237.1,588.1 L241.5,580.3 L242.2,681.5 L244.4,580.3 L245.8,633.3 L248.8,717.9 L251.7,681.5 L254.6,723.8 L257.5,677.1 L259.0,620.2 L261.9,620.2 L263.3,691.7 L264.8,580.3 L266.3,662.5 L267.7,580.3 L269.2,669.8 L270.6,604.2 L272.1,647.9 L273.5,580.3 L275.0,636.3 L275.7,580.3 L282.3,580.3 L283.8,621.7 L285.9,621.7 L287.0,580.3 L288.9,604.2 L291.0,608.5 L292.5,580.3 L324.6,580.3 L325.3,589.6 L327.5,589.6 L328.2,580.3 L391.7,580.3 L393.1,587.4 L396.0,580.3 L401.9,610.0 L404.8,610.0 L406.3,580.3 L409.2,596.9 L412.1,595.4 L414.7,580.3 L426.0,580.3 L428.2,626.0 L430.4,626.0 L431.9,580.3 L433.3,617.3 L437.7,580.3 L439.2,617.3 L442.1,617.3 L443.5,580.3 L456.7,580.3 L461.0,591.0 L463.2,580.3 L476.4,580.3 L477.1,594.0 L482.9,592.5 L485.8,604.2 L491.7,604.2 L497.5,602.7 L501.9,607.8 L506.3,602.7 L510.6,605.6 L513.5,610.0 L517.9,617.3 L523.8,614.4 L526.7,623.1 L531.0,620.2 L535.4,626.0 L538.3,621.7 L541.3,627.5 L545.6,626.0 L547.1,639.2 L551.5,639.2 L552.9,647.9 L558.8,645.0 L563.1,649.4 L567.5,646.5 L573.3,647.9 L577.7,656.7 L585.0,659.6 L593.8,658.9 L599.6,656.7 L601.0,650.1 L604.0,650.8 L609.1,662.5 L612.7,652.3 L614.2,627.5 L617.1,627.5 L617.8,640.6 L623.8,633.3 L626.7,647.9 L631.0,659.6 L635.4,642.1 L639.8,637.7 L642.7,658.1 L645.6,643.5 L650.0,652.3 L652.2,631.9 L654.4,647.9 L658.8,647.9 L660.2,669.8 L666.0,668.3 L670.4,666.9 L676.3,669.8 L682.1,671.3 L685.0,666.9 L687.9,674.2 L690.1,662.5 L692.3,662.5 L695.2,674.2 L698.1,669.8 L699.6,656.7 L702.5,653.8 L704.0,662.5 L705.4,611.5 L708.3,605.6 L709.8,629.0 L711.3,656.7 L712.7,629.0 L715.6,645.0 L718.5,650.8 L722.9,647.9 L725.8,645.0 L728.8,652.3 L731.7,661.0 L733.1,671.3 L736.0,661.0 L740.4,669.8 L741.9,631.9 L744.1,631.9 L745.5,671.3 L747.0,680.0 L749.2,640.6 L750.6,677.1 L752.1,580.3 L781.3,580.3 L782.7,602.7 L785.6,602.7 L787.1,595.4 L788.5,646.5 L791.5,630.4 L795.8,647.9 L797.3,580.3 L800.2,614.4 L803.1,580.3 L804.6,664.0 L807.5,664.0 L809.0,580.3 L811.1,656.7 L813.3,633.3 L816.3,633.3 L817.7,580.3 L841.9,580.3 L843.3,652.3 L846.3,652.3 L847.0,580.3 L848.4,646.5 L850.6,645.0 L851.4,580.3 L859.4,580.3 L860.1,617.3 L863.0,617.3 L863.8,580.3 L866.7,580.3 L868.1,636.3 L872.5,636.3 L874.0,580.3 L880.5,580.3 L881.3,587.4 L884.2,587.4 L884.9,580.3 L887.1,580.3 L888.5,601.3 L890.7,601.3 L892.9,580.3 L893.6,589.6 L895.8,589.6 L896.6,580.3 L962.2,580.3 L962.9,602.0 L965.8,602.0 L966.6,580.3 L977.5,580.3 L978.2,585.9 L980.4,585.9 L984.8,580.3 L986.3,604.2 L989.2,604.2 L990.6,580.3 L997.2,580.3 L997.9,585.9 L1000.8,585.9 L1001.6,580.3 L1027.1,580.3 L1028.5,585.2 L1029.7,580.3 L1030.8,585.2 L1031.6,580.3 L1036.7,580.3 L1038.1,591.0 L1041.0,591.0 L1041.8,610.0 L1044.0,631.9 L1046.9,631.9 L1048.3,618.8 L1049.1,580.3 L1074.6,580.3 L1075.3,598.3 L1079.0,598.3 L1081.1,580.3 L1081.9,615.8 L1084.8,615.8 L1086.3,580.3 L1087.0,623.1 L1088.4,649.4 L1091.4,649.4 L1092.1,580.3 L1093.5,631.9 L1095.7,631.9 L1096.5,580.3 L1097.9,621.7 L1100.8,580.3 L1101.6,645.0 L1104.5,645.0 L1105.2,580.3 L1108.1,621.7 L1111.0,621.7 L1111.8,580.3 L1112.5,640.6 L1115.4,640.6 L1116.1,580.3 L1118.3,598.3 L1120.5,618.8 L1124.2,618.8 L1125.6,580.3 L1127.1,604.2 L1129.3,604.2 L1130.0,633.3 L1133.6,633.3 L1134.4,580.3 L1135.8,624.6 L1138.0,580.3 L1139.5,634.8 L1140.9,664.0 L1143.9,669.1 L1146.0,668.3 L1147.5,659.6 L1149.0,653.8 L1151.1,653.8 L1152.6,580.3 L1153.3,647.9 L1155.5,647.9 L1157.0,580.3 L1157.7,621.7 L1160.6,621.7 L1161.4,580.3 L1163.5,608.5 L1165.7,623.1 L1166.5,629.7 L1170.1,629.7 L1170.8,580.3 L1172.3,599.8 L1173.8,580.3 L1178.1,589.6 L1178.9,600.5 L1182.5,600.5 L1183.2,580.3 L1205.8,580.3 L1206.6,596.9 L1210.2,598.3 L1211.7,580.3 L1213.1,603.4 L1217.5,603.4 L1218.2,580.3 L1300.0,580.3 L1301.5,596.9 L1302.9,599.1 L1305.1,599.1 L1305.8,580.3 L1314.6,580.3 L1316.0,589.6 L1319.0,589.6 L1319.7,580.3 L1336.5,580.3 L1337.9,593.2 L1340.8,593.2 L1342.3,580.3 L1344.5,598.3 L1346.7,599.1 L1348.1,580.3 L1348.9,607.1 L1351.8,607.1 L1352.5,610.7 L1356.1,610.7 L1356.9,580.3 L1358.3,602.7 L1362.0,602.7 L1362.7,580.3 L1364.9,602.0 L1369.3,602.0 L1370.0,580.3 L1371.5,607.1 L1372.9,612.2 L1377.3,612.2 L1378.8,580.3 L1381.7,585.2 L1384.6,585.9 L1387.5,580.3 L1389.7,589.6 L1393.3,594.0 L1396.3,594.0 L1397.7,580.3 L1399.2,588.9 L1402.1,591.0 L1406.5,591.0 L1407.9,580.3 L1410.8,585.2 L1413.8,585.2 L1415.2,580.3 L1424.0,580.3 L1425.4,584.5 L1426.9,580.3 L1434.2,580.3 L1435.6,589.6 L1437.1,603.4 L1440.0,603.4 L1441.5,580.3 L1442.9,595.4 L1445.8,596.9 L1446.6,580.3" fill="none" stroke="#000" stroke-width="1.3" stroke-linejoin="round" stroke-linecap="round" stroke-linecap="butt"/>
</g>
<g clip-path="url(#c4)" shape-rendering="crispEdges">
<path d="M210.8,840.6 L221.0,839.2 L224.0,818.8 L226.1,793.2 L231.3,794.0 L234.2,783.0 L237.1,794.0 L242.9,794.0 L248.8,796.1 L253.1,796.1 L256.0,790.3 L261.1,777.9 L269.2,778.6 L275.0,777.9 L282.3,777.2 L286.7,777.9 L288.9,793.2 L292.5,808.5 L296.9,786.7 L297.6,758.2 L301.3,758.2 L302.0,768.4 L305.6,768.4 L306.4,780.1 L310.0,780.1 L312.9,795.4 L317.3,790.3 L321.7,790.3 L323.9,768.4 L329.0,763.3 L333.3,763.3 L334.8,775.0 L340.6,753.1 L349.4,752.4 L350.8,763.3 L352.3,775.0 L358.1,775.0 L362.5,786.7 L365.4,785.2 L367.6,767.0 L372.7,766.3 L373.4,744.4 L377.8,744.4 L378.5,776.5 L380.0,798.3 L387.3,792.5 L391.7,792.5 L394.6,796.9 L400.4,783.8 L404.8,775.7 L409.2,776.5 L409.9,788.1 L417.3,786.7 L421.7,805.6 L423.1,827.5 L426.0,816.6 L430.4,816.6 L431.1,843.5 L433.3,856.7 L436.3,858.1 L437.0,880.0 L442.1,874.9 L446.5,880.0 L450.8,882.9 L458.1,880.0 L468.3,880.0 L472.7,881.5 L477.1,884.4 L482.9,887.3 L487.3,885.8 L491.7,888.8 L497.5,890.2 L506.3,890.2 L512.1,893.1 L520.8,894.6 L532.5,893.9 L538.3,895.3 L541.3,891.7 L542.7,884.4 L546.4,884.4 L547.1,891.7 L555.8,893.1 L563.1,892.4 L570.4,888.0 L577.7,889.5 L585.0,890.2 L592.3,890.9 L599.6,890.2 L608.3,891.7 L611.3,884.4 L615.6,875.6 L617.9,875.6 L622.3,880.7 L628.1,884.4 L631.0,881.5 L636.9,882.2 L642.0,881.5 L642.7,871.3 L648.5,866.9 L650.0,853.8 L654.4,853.8 L655.1,864.0 L655.8,880.0 L658.8,884.4 L667.5,883.6 L673.3,884.4 L679.2,878.5 L683.5,877.1 L687.9,875.6 L693.8,874.2 L696.7,880.0 L702.5,885.8 L704.7,861.0 L709.8,861.0 L711.3,878.5 L717.1,887.3 L725.8,885.1 L730.2,893.1 L736.0,894.6 L743.3,891.7 L746.3,891.7 L747.7,869.8 L750.6,861.0 L756.5,859.6 L759.4,856.7 L766.7,855.9 L767.4,850.8 L771.8,850.8 L772.5,861.0 L776.9,862.5 L779.8,878.5 L781.3,871.3 L782.7,858.9 L787.1,858.9 L791.5,861.0 L797.3,861.0 L798.8,856.7 L803.1,856.7 L806.0,859.6 L809.0,859.6 L811.9,866.9 L816.3,871.3 L820.6,871.3 L822.9,873.4 L828.8,874.2 L834.6,868.3 L840.4,868.3 L846.3,872.0 L852.1,868.3 L857.9,868.3 L858.6,861.8 L862.3,861.0 L863.8,866.9 L868.1,865.4 L871.0,868.3 L875.4,858.1 L879.8,858.1 L884.2,864.0 L885.6,870.5 L895.1,869.8 L895.8,865.4 L899.5,865.4 L901.7,863.2 L906.0,856.7 L910.4,856.7 L911.9,864.0 L914.8,866.9 L919.2,866.9 L922.1,871.3 L930.8,872.0 L933.8,867.6 L938.1,867.6 L941.0,872.7 L946.9,877.1 L965.8,877.8 L971.7,881.5 L977.5,883.6 L983.3,883.6 L989.2,882.2 L995.0,882.9 L1000.8,874.9 L1005.2,875.6 L1009.6,877.8 L1014.0,876.4 L1021.3,879.3 L1025.6,877.1 L1032.3,876.4 L1036.7,877.8 L1039.6,880.0 L1045.4,877.1 L1051.3,877.8 L1058.5,877.8 L1064.4,880.0 L1068.8,879.3 L1077.5,877.1 L1087.7,876.4 L1097.9,874.2 L1105.2,872.7 L1114.0,869.8 L1118.3,871.3 L1124.2,872.0 L1130.0,874.2 L1135.8,868.3 L1141.7,866.9 L1144.6,869.8 L1149.0,868.3 L1153.3,868.3 L1157.7,872.0 L1162.1,868.3 L1165.0,869.1 L1169.4,876.4 L1178.1,874.9 L1182.5,874.9 L1186.9,877.1 L1191.3,872.7 L1195.6,876.4 L1202.9,874.2 L1207.3,877.8 L1214.6,878.5 L1220.4,877.1 L1230.6,877.4 L1235.8,876.8 L1240.2,881.9 L1244.6,877.5 L1250.4,879.0 L1256.3,876.1 L1260.6,876.1 L1265.0,879.0 L1273.8,877.5 L1279.6,879.7 L1284.0,877.5 L1291.3,876.1 L1300.0,876.8 L1305.8,880.4 L1317.5,879.7 L1323.3,878.3 L1332.1,881.2 L1340.8,881.2 L1346.7,883.4 L1361.3,884.1 L1375.8,884.1 L1383.1,883.4 L1393.3,884.8 L1405.0,884.1 L1413.8,882.6 L1424.0,884.8 L1429.8,880.4 L1437.1,881.2 L1446.6,882.6 L1446.6,889.0 L1437.1,887.6 L1429.8,886.9 L1424.0,891.2 L1413.8,889.0 L1405.0,890.5 L1393.3,891.2 L1383.1,889.8 L1375.8,890.5 L1361.3,890.5 L1346.7,889.8 L1340.8,887.6 L1332.1,887.6 L1323.3,884.7 L1317.5,886.1 L1305.8,886.9 L1300.0,883.2 L1291.3,882.5 L1284.0,883.9 L1279.6,886.1 L1273.8,883.9 L1265.0,885.4 L1260.6,882.5 L1256.3,882.5 L1250.4,885.4 L1244.6,883.9 L1240.2,888.3 L1235.8,883.2 L1230.6,884.4 L1226.3,885.8 L1214.6,885.8 L1208.8,884.4 L1200.0,885.1 L1192.7,884.4 L1185.4,885.1 L1182.5,881.5 L1178.1,883.6 L1170.8,883.6 L1165.0,880.0 L1157.7,878.5 L1153.3,876.4 L1147.5,875.6 L1141.7,880.0 L1138.8,884.4 L1135.8,880.7 L1132.9,883.6 L1127.1,882.2 L1118.3,882.9 L1112.5,881.5 L1105.2,882.2 L1097.9,884.4 L1090.6,883.6 L1080.4,883.6 L1068.8,885.8 L1062.9,884.4 L1054.2,883.6 L1048.3,885.1 L1042.5,882.9 L1038.1,885.8 L1033.8,883.6 L1025.6,883.4 L1016.9,883.6 L1009.6,886.6 L1002.3,887.3 L999.4,888.8 L995.0,888.0 L984.8,888.8 L980.4,888.0 L973.1,887.3 L965.8,885.1 L958.5,885.1 L948.3,885.1 L944.0,883.6 L936.7,882.2 L930.8,882.9 L922.1,883.6 L917.7,877.8 L910.4,880.0 L904.6,875.6 L901.7,881.5 L895.8,880.7 L890.0,882.2 L885.6,880.0 L881.3,877.8 L878.3,876.4 L871.0,880.7 L863.8,876.4 L856.5,877.1 L850.6,877.8 L847.7,883.6 L843.3,883.6 L841.9,872.7 L836.0,873.4 L830.2,875.6 L825.8,879.3 L820.6,878.5 L814.8,878.5 L810.4,871.3 L804.6,871.3 L800.2,866.9 L794.4,869.1 L790.0,869.8 L787.1,874.2 L784.2,884.4 L779.8,887.3 L775.4,880.7 L769.6,879.3 L765.2,866.9 L763.8,878.5 L760.8,878.5 L757.9,881.5 L750.6,881.5 L748.4,896.0 L743.3,896.0 L737.5,898.2 L730.2,898.2 L725.8,890.2 L720.0,893.1 L714.2,890.9 L708.3,885.8 L705.4,890.2 L701.0,890.2 L696.7,885.8 L690.8,884.4 L685.0,881.5 L679.2,885.8 L673.3,890.2 L669.0,888.8 L663.1,893.1 L657.3,891.7 L652.9,888.8 L652.2,877.1 L647.1,877.1 L645.6,893.9 L641.3,893.9 L634.0,892.4 L626.7,891.7 L623.8,892.4 L619.4,887.3 L615.6,887.3 L611.3,891.7 L608.3,896.0 L599.6,895.3 L585.0,894.6 L570.4,894.6 L560.2,898.2 L550.0,898.2 L544.2,894.6 L541.3,899.0 L534.0,898.2 L520.8,897.5 L512.1,896.0 L500.4,894.6 L491.7,893.1 L485.8,894.6 L477.1,893.1 L471.3,885.8 L465.4,885.8 L461.0,888.8 L459.6,885.8 L452.3,887.3 L447.9,884.4 L442.1,884.4 L436.3,884.4 L434.8,871.3 L431.9,858.1 L427.5,846.5 L421.7,845.0 L420.2,826.0 L418.8,811.5 L415.8,801.3 L414.4,812.9 L409.9,812.9 L409.2,818.8 L403.3,818.8 L402.6,830.4 L399.0,830.4 L397.5,823.1 L393.1,827.5 L387.3,827.5 L382.9,821.7 L378.5,821.7 L375.6,812.9 L372.7,807.1 L371.3,795.4 L366.9,798.3 L364.0,805.6 L359.6,798.3 L356.7,797.6 L350.8,797.6 L349.4,800.5 L345.0,800.5 L340.6,798.3 L337.7,798.3 L334.8,798.3 L330.4,798.3 L326.0,804.2 L324.6,810.7 L321.7,810.7 L320.2,804.2 L315.8,804.2 L310.0,802.7 L305.6,802.7 L301.3,798.3 L299.8,821.7 L298.3,835.5 L294.0,835.5 L289.6,833.3 L286.7,814.4 L283.8,804.2 L277.9,804.2 L276.5,814.4 L275.0,814.4 L272.1,810.0 L269.2,807.1 L264.8,807.1 L260.4,804.2 L257.5,812.9 L256.0,822.4 L253.1,822.4 L248.8,817.3 L242.9,807.1 L241.5,815.8 L238.5,815.8 L234.2,812.9 L228.3,812.9 L226.9,827.5 L225.4,856.7 L222.5,871.3 L218.9,871.3 L218.1,856.7 L213.8,856.7 L210.8,874.2Z" fill="#0000ff" stroke="#0000ff" stroke-width="1" stroke-linejoin="round"/>
</g>
<g clip-path="url(#c5)" shape-rendering="crispEdges">
<path d="M210.8,924.8 L215.2,939.4 L219.6,927.7 L222.5,937.9 L224.0,951.0 L226.9,958.3 L229.8,967.1 L234.2,965.6 L238.5,967.1 L240.0,975.8 L242.9,987.5 L247.3,984.6 L251.7,977.3 L253.1,974.4 L257.5,974.4 L259.0,990.4 L260.4,1009.4 L263.3,1012.3 L267.7,1016.7 L272.1,1021.0 L276.5,1019.6 L279.4,1029.8 L285.2,1029.8 L288.1,1005.0 L291.0,981.7 L294.0,961.3 L298.3,961.3 L302.7,964.2 L305.6,980.2 L310.0,977.3 L312.9,975.8 L317.3,978.8 L318.8,967.1 L321.7,965.6 L326.0,961.3 L330.4,954.0 L336.3,954.0 L342.1,955.4 L346.5,955.4 L347.9,967.1 L350.8,987.5 L355.2,994.8 L359.6,1005.0 L364.0,1005.0 L366.9,1010.8 L372.7,1009.4 L375.6,996.3 L380.0,994.8 L385.8,996.3 L390.2,996.3 L393.1,1007.9 L396.0,1015.2 L400.4,1024.0 L406.3,1031.3 L410.6,1035.6 L415.0,1038.5 L415.0,1045.8 L409.2,1045.8 L404.8,1040.0 L400.4,1028.3 L396.0,1021.0 L390.2,1013.8 L387.3,1005.0 L380.0,1007.9 L375.6,1019.6 L374.2,1041.5 L371.3,1041.5 L368.3,1028.3 L364.0,1015.2 L359.6,1015.2 L355.2,1007.9 L350.8,999.2 L347.2,999.2 L343.5,984.6 L340.6,967.1 L336.3,967.1 L331.9,983.1 L327.5,983.1 L323.1,980.2 L318.8,981.7 L312.9,983.1 L307.1,986.0 L304.2,984.6 L298.3,987.5 L294.0,997.7 L292.5,1060.4 L291.0,1061.9 L288.1,1048.8 L285.2,1054.6 L280.8,1054.6 L277.9,1045.8 L272.1,1048.8 L266.3,1048.8 L263.3,1040.0 L259.0,1028.3 L256.0,1002.1 L253.1,1007.9 L250.2,1006.5 L247.3,1002.1 L244.4,1016.7 L241.5,1016.7 L238.5,1002.1 L234.2,1007.9 L229.8,1013.8 L226.9,1002.1 L224.0,958.3 L219.6,949.6 L215.2,949.6 L210.8,949.6Z" fill="#0000ff" stroke="#0000ff" stroke-width="1" stroke-linejoin="round"/>
<path d="M410.0,1042.9 L411.5,1041.9 L412.9,1040.8 L414.4,1041.5 L415.3,1040.5 L416.1,1037.2 L417.0,1037.2 L417.9,1035.2 L418.8,1034.2 L419.6,1031.3 L420.5,1031.3 L421.4,1028.3 L422.3,1028.1 L423.1,1026.9 L424.6,1026.2 L426.0,1028.3 L427.0,1025.6 L428.0,1025.2 L429.0,1024.0 L430.4,1025.5 L431.9,1023.7 L433.3,1025.4 L434.4,1023.1 L435.5,1022.9 L436.6,1022.5 L437.7,1019.6 L439.2,1020.6 L440.6,1020.7 L442.1,1023.3 L443.5,1022.5 L445.0,1020.7 L446.5,1022.9 L447.9,1020.7 L449.4,1021.0 L450.5,1018.8 L451.6,1017.6 L452.7,1017.2 L453.8,1016.7 L455.2,1018.2 L456.7,1016.7 L458.1,1018.6 L459.6,1018.9 L461.0,1019.7 L462.5,1019.2 L464.0,1020.1 L465.4,1018.9 L466.9,1019.3 L468.3,1021.0 L469.8,1021.1 L471.3,1023.6 L472.7,1024.0 L474.2,1022.6 L475.6,1021.2 L477.1,1021.0 L478.5,1019.6 L480.4,1019.8 L482.2,1019.7 L484.0,1021.6 L485.8,1021.0 L487.3,1022.1 L488.8,1021.1 L490.2,1022.6 L491.7,1022.9 L493.1,1023.2 L494.6,1023.8 L496.0,1022.8 L497.5,1020.8 L499.0,1022.4 L500.4,1020.3 L502.1,1019.2 L503.8,1020.3 L505.4,1021.5 L507.1,1019.6 L508.8,1020.8 L510.4,1019.5 L512.1,1021.0 L513.5,1021.9 L515.0,1022.6 L516.5,1022.4 L517.9,1023.7 L519.4,1022.3 L520.8,1023.2 L522.3,1024.2 L523.8,1024.3 L525.2,1024.6 L526.7,1024.7 L528.3,1024.2 L530.0,1025.2 L531.7,1025.2 L533.3,1023.4 L535.0,1023.7 L536.7,1021.4 L538.3,1022.5 L540.0,1023.3 L541.7,1023.2 L543.4,1024.4 L545.1,1024.0 L546.8,1022.4 L548.5,1023.2 L550.2,1022.9 L551.8,1023.8 L553.4,1021.7 L555.0,1023.1 L556.6,1022.2 L558.3,1022.0 L559.9,1021.8 L561.5,1024.1 L563.1,1023.2 L564.7,1021.9 L566.4,1022.1 L568.0,1022.4 L569.6,1023.8 L571.2,1021.1 L572.9,1022.1 L574.5,1022.3 L576.1,1023.2 L577.7,1021.8 L579.3,1022.9 L581.0,1023.1 L582.6,1021.3 L584.2,1021.8 L585.8,1021.7 L587.4,1023.5 L589.1,1023.8 L590.7,1021.3 L592.3,1022.5 L594.1,1021.8 L595.9,1022.4 L597.8,1022.7 L599.6,1024.0 L600.3,1025.4 L601.0,1027.2 L601.8,1027.6 L602.5,1029.8 L604.0,1027.8 L605.4,1028.8 L606.9,1028.3 L608.3,1028.3 L609.5,1029.6 L610.7,1031.8 L611.8,1032.0 L613.0,1032.5 L614.2,1033.4 L615.6,1034.5 L617.1,1034.9 L619.0,1035.1 L620.8,1034.2 L621.6,1031.3 L622.3,1032.5 L623.0,1030.7 L623.8,1028.3 L624.7,1028.3 L625.7,1026.9 L626.7,1024.3 L627.6,1023.2 L628.6,1021.0 L629.6,1021.0 L631.0,1020.9 L632.5,1018.5 L634.0,1018.0 L635.4,1018.9 L637.4,1017.7 L639.3,1017.3 L641.3,1018.1 L642.0,1019.1 L642.7,1019.6 L643.4,1020.9 L644.2,1022.8 L644.9,1024.1 L645.6,1026.9 L647.1,1025.5 L648.5,1023.4 L650.0,1024.0 L650.7,1026.6 L651.5,1027.2 L652.2,1027.2 L652.9,1029.8 L653.6,1027.5 L654.4,1026.4 L655.1,1025.0 L655.8,1022.8 L656.6,1023.6 L657.3,1021.0 L659.5,1022.6 L661.7,1021.0 L663.1,1020.4 L664.6,1020.0 L666.0,1019.6 L667.9,1018.3 L669.7,1018.3 L671.5,1019.1 L673.3,1019.6 L674.8,1018.0 L676.3,1018.9 L677.7,1015.9 L679.2,1014.6 L680.6,1015.2 L682.4,1016.3 L684.3,1014.6 L686.1,1013.0 L687.9,1013.8 L689.4,1014.3 L690.8,1013.0 L692.3,1014.9 L693.8,1015.2 L695.2,1016.0 L696.7,1014.9 L698.1,1013.7 L699.6,1012.3 L701.8,1011.5 L704.0,1012.3 L704.6,1013.3 L705.2,1014.1 L705.8,1017.5 L706.5,1018.2 L707.1,1020.5 L707.7,1020.5 L708.3,1022.5 L711.3,1022.5 L712.0,1020.2 L712.7,1020.6 L713.4,1019.7 L714.2,1016.7 L716.1,1017.8 L718.1,1017.6 L720.0,1016.7 L721.5,1018.2 L722.9,1018.4 L724.4,1018.1 L725.3,1016.0 L726.3,1015.8 L727.3,1014.0 L728.3,1011.8 L729.2,1010.5 L730.2,1010.8 L732.0,1009.8 L733.9,1009.3 L735.7,1010.4 L737.5,1009.4 L738.5,1012.3 L739.4,1012.1 L740.4,1013.8 L740.8,1016.6 L741.1,1018.2 L741.5,1019.6 L741.9,1019.6 L743.0,1018.1 L744.1,1016.5 L745.2,1015.4 L746.3,1015.2 L746.7,1015.7 L747.2,1017.2 L747.7,1020.0 L748.2,1022.3 L748.7,1023.6 L749.2,1024.0 L750.3,1025.0 L751.4,1026.6 L752.5,1028.2 L753.5,1028.3 L755.7,1027.0 L757.9,1028.3 L759.4,1030.3 L760.8,1031.3 L761.4,1034.0 L762.0,1035.1 L762.6,1036.4 L763.2,1037.0 L763.8,1038.5 L765.2,1038.0 L766.7,1040.4 L768.1,1040.0 L769.6,1038.0 L771.0,1037.1 L771.3,1036.3 L771.5,1035.2 L771.8,1031.6 L772.0,1030.0 L772.3,1030.0 L772.5,1026.9 L773.6,1026.1 L774.7,1022.9 L775.8,1021.3 L776.9,1021.0 L777.6,1018.5 L778.3,1019.4 L779.1,1017.6 L779.8,1015.2 L780.8,1015.5 L781.7,1019.2 L782.7,1019.6 L782.9,1022.7 L783.0,1023.3 L783.2,1024.0 L783.4,1026.2 L783.5,1026.5 L783.7,1027.8 L783.8,1032.4 L784.0,1033.0 L784.2,1034.2 L785.3,1035.3 L786.4,1037.7 L787.5,1037.2 L788.5,1038.5 L789.1,1041.2 L789.7,1042.5 L790.3,1042.0 L790.9,1043.6 L791.5,1045.8 L792.9,1044.7 L794.4,1044.0 L795.8,1044.4 L796.9,1043.6 L798.0,1041.4 L799.1,1040.8 L800.2,1040.0 L801.1,1037.4 L802.0,1038.4 L802.8,1035.2 L803.7,1034.0 L804.6,1032.7 L806.0,1033.5 L807.5,1035.0 L809.0,1034.2 L810.4,1032.9 L811.9,1033.6 L813.3,1031.3 L814.2,1029.8 L815.1,1028.4 L816.0,1027.0 L816.8,1023.9 L817.7,1024.0 L819.2,1022.6 L820.6,1020.5 L822.1,1020.3 L823.8,1018.9 L825.4,1021.6 L827.1,1019.8 L828.8,1021.0 L830.5,1021.3 L832.3,1022.3 L834.0,1022.1 L835.8,1021.7 L837.5,1022.5 L839.3,1022.6 L841.1,1022.7 L843.0,1023.4 L844.8,1022.5 L845.1,1023.0 L845.4,1026.2 L845.7,1026.9 L846.0,1028.8 L846.3,1031.3 L846.7,1033.6 L847.2,1034.2 L847.7,1035.8 L848.2,1037.9 L848.7,1039.9 L849.2,1040.0 L849.5,1038.1 L849.8,1036.9 L850.0,1034.8 L850.3,1033.0 L850.6,1031.3 L852.1,1031.4 L853.5,1030.1 L855.0,1029.8 L856.5,1029.2 L857.9,1028.3 L859.0,1029.5 L860.1,1032.3 L861.2,1032.8 L862.3,1033.4 L864.5,1035.0 L866.7,1034.2 L868.1,1036.6 L869.6,1035.3 L871.0,1037.1 L872.9,1037.3 L874.7,1038.5 L876.5,1038.2 L878.3,1037.1 L878.7,1037.6 L879.1,1039.2 L879.4,1041.8 L879.8,1042.3 L880.2,1044.5 L880.5,1045.6 L880.9,1049.1 L881.3,1050.2 L881.5,1049.5 L881.7,1048.1 L881.9,1044.1 L882.1,1044.2 L882.3,1042.4 L882.5,1039.1 L882.7,1038.5 L884.5,1039.4 L886.4,1039.3 L888.2,1036.6 L890.0,1037.1 L891.5,1039.3 L892.9,1038.2 L894.4,1039.2 L895.8,1040.0 L897.0,1040.4 L898.2,1038.7 L899.3,1035.4 L900.5,1035.1 L901.7,1034.2 L903.6,1034.2 L905.6,1033.7 L907.5,1034.2 L909.0,1032.5 L910.4,1032.1 L911.9,1032.7 L913.3,1031.3 L913.9,1031.2 L914.5,1034.3 L915.1,1035.4 L915.7,1035.5 L916.3,1038.5 L917.7,1036.9 L919.2,1036.8 L920.6,1035.3 L922.1,1034.2 L923.5,1032.4 L925.0,1035.0 L926.5,1034.0 L927.9,1032.7 L928.6,1035.7 L929.4,1034.4 L930.1,1036.3 L930.8,1038.5 L931.9,1035.6 L933.0,1036.5 L934.1,1033.4 L935.2,1032.7 L937.0,1031.9 L938.9,1033.2 L940.7,1035.1 L942.5,1034.2 L942.9,1036.6 L943.3,1036.3 L943.8,1037.4 L944.2,1041.3 L944.6,1041.7 L945.0,1043.6 L945.4,1044.4 L947.4,1043.1 L949.3,1043.0 L951.3,1044.4 L952.7,1046.1 L954.2,1046.3 L955.6,1046.3 L957.1,1048.8 L958.5,1051.6 L960.0,1051.7 L961.5,1052.5 L962.9,1053.4 L964.4,1051.4 L965.8,1053.1 L967.6,1054.1 L969.3,1051.4 L971.1,1053.9 L972.8,1052.4 L974.6,1052.4 L976.0,1051.3 L977.5,1051.5 L979.0,1052.1 L980.4,1050.2 L982.2,1049.3 L984.1,1048.7 L985.9,1049.8 L987.7,1049.5 L989.5,1048.8 L991.4,1048.6 L993.2,1048.9 L995.0,1050.2 L996.5,1049.1 L997.9,1050.0 L999.4,1050.7 L1000.8,1051.7 L1002.6,1050.8 L1004.3,1051.9 L1006.1,1050.1 L1007.8,1050.5 L1009.6,1050.2 L1011.3,1048.9 L1013.1,1049.1 L1014.8,1047.8 L1016.6,1048.2 L1018.3,1048.8 L1020.3,1047.2 L1022.2,1049.5 L1024.2,1048.8 L1025.0,1047.3 L1026.8,1047.6 L1028.5,1046.6 L1030.3,1047.7 L1032.0,1049.3 L1033.8,1048.0 L1035.2,1047.7 L1036.7,1050.9 L1038.1,1050.5 L1039.6,1051.7 L1041.0,1050.9 L1042.5,1051.3 L1044.0,1049.1 L1045.4,1048.8 L1046.9,1048.3 L1048.3,1048.4 L1049.8,1048.8 L1051.3,1046.3 L1052.7,1047.4 L1054.2,1045.8 L1055.9,1046.5 L1057.7,1046.3 L1059.4,1045.5 L1061.2,1045.3 L1062.9,1045.8 L1064.7,1044.4 L1066.4,1044.7 L1068.2,1044.5 L1069.9,1046.6 L1071.7,1045.8 L1073.4,1045.2 L1075.2,1045.1 L1076.9,1044.9 L1078.7,1047.5 L1080.4,1046.6 L1081.9,1048.1 L1083.3,1047.8 L1084.8,1047.0 L1086.3,1048.0 L1088.0,1047.1 L1089.8,1047.1 L1091.5,1047.5 L1093.3,1046.3 L1095.0,1047.3 L1096.8,1046.8 L1098.5,1046.0 L1100.3,1047.9 L1102.0,1047.6 L1103.8,1045.8 L1105.2,1045.3 L1106.7,1043.6 L1108.1,1045.1 L1109.6,1042.9 L1111.0,1041.6 L1112.5,1041.0 L1114.0,1039.1 L1115.4,1040.0 L1116.9,1040.2 L1118.3,1041.0 L1119.8,1041.7 L1121.3,1042.2 L1122.7,1040.5 L1124.2,1040.7 L1125.6,1038.4 L1127.1,1039.3 L1129.0,1038.3 L1131.0,1037.5 L1132.9,1038.5 L1134.9,1038.2 L1136.8,1037.1 L1138.8,1038.5 L1140.2,1037.0 L1141.7,1038.5 L1143.1,1038.6 L1144.6,1040.0 L1145.1,1041.8 L1145.7,1043.0 L1146.2,1045.4 L1146.8,1046.5 L1147.3,1048.2 L1147.9,1050.3 L1148.4,1049.8 L1149.0,1051.7 L1150.4,1051.5 L1151.9,1054.6 L1153.3,1053.1 L1154.8,1052.1 L1156.3,1054.8 L1157.7,1054.8 L1159.2,1054.6 L1159.8,1054.2 L1160.3,1058.8 L1160.9,1060.5 L1161.5,1060.9 L1162.1,1061.9 L1163.1,1061.4 L1164.0,1060.2 L1165.0,1057.5 L1166.5,1055.7 L1167.9,1056.9 L1169.4,1056.4 L1170.8,1056.0 L1172.3,1057.0 L1173.8,1056.5 L1175.2,1056.0 L1176.7,1054.6 L1178.6,1054.9 L1180.6,1055.8 L1182.5,1054.6 L1184.0,1056.1 L1185.4,1057.1 L1186.9,1057.5 L1188.7,1056.5 L1190.5,1055.6 L1192.3,1055.8 L1194.2,1056.8 L1196.1,1056.1 L1198.1,1055.0 L1200.0,1056.0 L1201.5,1057.5 L1202.9,1057.0 L1204.4,1057.5 L1205.8,1057.5 L1207.8,1057.9 L1209.7,1058.1 L1211.7,1057.5 L1213.1,1056.7 L1214.6,1054.5 L1216.0,1056.3 L1217.5,1054.6 L1219.0,1055.0 L1220.4,1053.9 L1221.9,1053.6 L1223.3,1053.1 L1225.3,1053.9 L1227.2,1052.2 L1229.2,1053.9 L1230.0,1053.9 L1231.8,1054.6 L1233.5,1053.1 L1235.3,1052.5 L1237.0,1053.1 L1238.8,1053.9 L1240.7,1054.6 L1242.6,1052.9 L1244.6,1053.9 L1246.3,1054.5 L1248.1,1055.1 L1249.8,1053.4 L1251.6,1052.9 L1253.3,1053.1 L1255.1,1053.2 L1256.8,1054.0 L1258.6,1054.4 L1260.3,1054.1 L1262.1,1053.9 L1263.8,1054.3 L1265.4,1052.5 L1267.1,1052.7 L1268.8,1053.1 L1270.4,1054.6 L1272.1,1053.2 L1273.8,1053.9 L1275.5,1054.2 L1277.3,1052.6 L1279.0,1052.9 L1280.8,1053.7 L1282.5,1054.6 L1284.0,1054.8 L1285.4,1054.5 L1286.9,1054.1 L1288.3,1053.1 L1290.1,1052.6 L1291.8,1053.5 L1293.6,1053.5 L1295.3,1053.6 L1297.1,1053.9 L1298.8,1052.8 L1300.6,1055.4 L1302.3,1053.3 L1304.1,1056.0 L1305.8,1054.6 L1307.3,1057.1 L1308.8,1055.2 L1310.2,1057.7 L1311.7,1059.0 L1313.1,1059.6 L1314.6,1059.7 L1316.0,1057.7 L1317.5,1057.5 L1319.0,1057.5 L1320.4,1058.0 L1321.9,1061.1 L1323.3,1060.4 L1324.8,1059.0 L1326.3,1059.7 L1327.7,1057.8 L1329.2,1058.6 L1330.6,1059.4 L1332.1,1057.5 L1333.8,1056.2 L1335.6,1058.2 L1337.3,1057.1 L1339.1,1058.2 L1340.8,1056.8 L1342.6,1057.6 L1344.3,1056.2 L1346.1,1058.5 L1347.8,1057.3 L1349.6,1057.5 L1351.3,1055.8 L1353.1,1055.6 L1354.8,1057.0 L1356.6,1056.8 L1358.3,1056.8 L1360.1,1056.3 L1361.8,1055.9 L1363.6,1056.7 L1365.3,1056.8 L1367.1,1057.5 L1368.8,1058.4 L1370.6,1055.6 L1372.3,1057.9 L1374.1,1058.0 L1375.8,1056.8 L1377.8,1055.3 L1379.7,1057.7 L1381.7,1056.0 L1383.4,1057.0 L1385.2,1057.9 L1386.9,1056.2 L1388.7,1056.8 L1390.4,1057.5 L1392.2,1057.0 L1393.9,1058.8 L1395.7,1057.4 L1397.4,1056.5 L1399.2,1056.8 L1400.9,1056.8 L1402.7,1056.6 L1404.4,1056.2 L1406.2,1056.7 L1407.9,1058.2 L1409.7,1059.2 L1411.4,1057.3 L1413.2,1059.2 L1414.9,1056.8 L1416.7,1057.5 L1418.4,1056.8 L1420.2,1057.5 L1421.9,1056.5 L1423.7,1057.1 L1425.4,1057.5 L1427.2,1059.3 L1428.9,1059.3 L1430.7,1059.4 L1432.4,1059.1 L1434.2,1059.0 L1435.8,1060.4 L1437.5,1060.6 L1439.2,1059.4 L1440.8,1060.1 L1442.5,1058.0 L1444.2,1060.3 L1445.8,1059.7" fill="none" stroke="#0000ff" stroke-width="4.5" stroke-linejoin="round" stroke-linecap="round"/>
<path d="M730.0,1011.0 L731.0,1010.8 L732.0,1010.6 L733.0,1010.4 L734.0,1010.2 L735.0,1010.1 L736.0,1009.9 L737.0,1011.5 L738.0,1012.3 L739.0,1015.4 L740.0,1013.9 L741.0,1017.6 L742.0,1014.8 L743.0,1017.9 L744.0,1014.5 L745.0,1017.5 L746.0,1015.9 L747.0,1019.6 L748.0,1017.7 L749.0,1022.9 L750.0,1018.0 L751.0,1025.9 L752.0,1019.1 L753.0,1027.0 L754.0,1021.0 L755.0,1029.1 L756.0,1022.1 L757.0,1031.2 L758.0,1026.3 L759.0,1033.7 L760.0,1025.2 L761.0,1036.1 L762.0,1029.7 L763.0,1038.7 L764.0,1030.0 L765.0,1040.3 L766.0,1029.4 L767.0,1037.5 L768.0,1026.6 L769.0,1036.1 L770.0,1025.2 L771.0,1038.3 L772.0,1022.9 L773.0,1033.4 L774.0,1022.7 L775.0,1030.3 L776.0,1019.8 L777.0,1026.1 L778.0,1015.8 L779.0,1025.5 L780.0,1018.5 L781.0,1029.3 L782.0,1020.1 L783.0,1031.8 L784.0,1026.5 L785.0,1034.4 L786.0,1033.8 L787.0,1039.4 L788.0,1036.5 L789.0,1042.8 L790.0,1036.7 L791.0,1044.8 L792.0,1036.9 L793.0,1042.0 L794.0,1038.2 L795.0,1042.1 L796.0,1035.7 L797.0,1040.9 L798.0,1036.8 L799.0,1039.5 L800.0,1035.7 L801.0,1038.6 L802.0,1033.8 L803.0,1037.7 L804.0,1032.1 L805.0,1036.9 L806.0,1032.8 L807.0,1036.4 L808.0,1032.7 L809.0,1035.2 L810.0,1032.4 L811.0,1034.7 L812.0,1031.7 L813.0,1033.7 L814.0,1030.3 L815.0,1032.1 L816.0,1026.8 L817.0,1030.4 L818.0,1023.4 L819.0,1029.1 L820.0,1022.9 L821.0,1025.8 L822.0,1022.1 L823.0,1025.3 L824.0,1020.3 L825.0,1023.6 L826.0,1021.1 L827.0,1022.5 L828.0,1021.4 L829.0,1022.5 L830.0,1021.4 L831.0,1022.6 L832.0,1021.9 L833.0,1022.7 L834.0,1021.8 L835.0,1023.0 L836.0,1022.0 L837.0,1022.8 L838.0,1022.2 L839.0,1022.8 L840.0,1022.4 L841.0,1022.9 L842.0,1022.5 L843.0,1023.9 L844.0,1023.2 L845.0,1026.3 L846.0,1025.1 L847.0,1032.2 L848.0,1028.2 L849.0,1039.1 L850.0,1032.3 L851.0,1040.0 L852.0,1029.5 L853.0,1033.4 L854.0,1029.3 L855.0,1033.9 L856.0,1028.8 L857.0,1035.1 L858.0,1030.9 L859.0,1035.5 L860.0,1032.8 L861.0,1035.8 L862.0,1033.4 L863.0,1036.8 L864.0,1034.5 L865.0,1037.8 L866.0,1035.3 L867.0,1037.4 L868.0,1036.0 L869.0,1038.4 L870.0,1036.5 L871.0,1039.1 L872.0,1036.7 L873.0,1039.9 L874.0,1036.9 L875.0,1040.0 L876.0,1037.3 L877.0,1040.4 L878.0,1037.1 L879.0,1043.3 L880.0,1036.8 L881.0,1046.1 L882.0,1039.6 L883.0,1047.8 L884.0,1039.0 L885.0,1046.6 L886.0,1038.0 L887.0,1041.3 L888.0,1037.1 L889.0,1040.4 L890.0,1037.6 L891.0,1040.4 L892.0,1036.8 L893.0,1040.0 L894.0,1036.9 L895.0,1040.1 L896.0,1035.5 L897.0,1039.8 L898.0,1035.1 L899.0,1039.1 L900.0,1035.2 L901.0,1039.5 L902.0,1035.5 L903.0,1038.4 L904.0,1034.9 L905.0,1038.2 L906.0,1035.1 L907.0,1037.1 L908.0,1034.0 L909.0,1035.7 L910.0,1032.1 L911.0,1036.8 L912.0,1032.4 L913.0,1036.5 L914.0,1031.9 L915.0,1038.2 L916.0,1031.5 L917.0,1038.5 L918.0,1033.9 L919.0,1037.7 L920.0,1032.2 L921.0,1038.4 L922.0,1031.6 L923.0,1040.1 L924.0,1032.0 L925.0,1038.0 L926.0,1032.5 L927.0,1037.3 L928.0,1032.6 L929.0,1037.2 L930.0,1032.8 L931.0,1036.7 L932.0,1033.5 L933.0,1037.2 L934.0,1033.6 L935.0,1037.2 L936.0,1033.1 L937.0,1037.6 L938.0,1034.5 L939.0,1037.7 L940.0,1034.6 L941.0,1039.9 L942.0,1036.0 L943.0,1039.8 L944.0,1037.9 L945.0,1041.0 L946.0,1038.8 L947.0,1042.4 L948.0,1040.1 L949.0,1043.0 L950.0,1041.8 L951.0,1044.4 L952.0,1043.4 L953.0,1046.6 L954.0,1044.9 L955.0,1048.5 L956.0,1047.4 L957.0,1049.8 L958.0,1048.8 L959.0,1051.7 L960.0,1050.0 L961.0,1051.6 L962.0,1050.2 L963.0,1052.7 L964.0,1050.8 L965.0,1052.5 L966.0,1051.1 L967.0,1052.6 L968.0,1051.5 L969.0,1052.5 L970.0,1051.6" fill="none" stroke="#0000ff" stroke-width="3" stroke-linejoin="miter" stroke-linecap="butt"/>
<path d="M210.8,909.5 L213.8,919.0 L219.6,910.9 L223.2,910.9 L225.4,925.5 L228.3,940.8 L230.5,961.3 L234.2,933.5 L238.5,933.5 L241.5,961.3 L244.4,970.0 L248.8,951.0 L254.6,930.6 L258.2,930.6 L260.4,943.8 L264.8,931.4 L269.2,931.4 L273.5,916.0 L277.9,916.0 L279.4,933.5 L283.8,936.5 L288.1,917.5 L292.5,917.5 L295.4,920.4 L301.3,920.4 L304.2,933.5 L308.5,936.5 L312.9,942.3 L318.8,935.0 L323.1,935.0 L326.0,932.1 L330.4,929.9 L334.8,929.9 L337.7,933.5 L345.0,932.8 L347.9,935.0 L349.4,945.2 L352.3,952.5 L356.7,958.3 L359.6,964.2 L364.0,968.5 L366.9,968.5 L369.8,977.3 L374.2,976.6 L380.0,980.2 L385.8,980.9 L390.2,985.3 L394.6,986.0 L396.0,1000.6 L401.9,1003.5 L407.7,1013.8 L412.1,1022.5 L415.0,1024.0 L415.0,1028.3 L409.2,1028.3 L404.8,1031.3 L401.9,1016.7 L397.5,1010.8 L391.7,1002.1 L387.3,990.4 L380.0,987.5 L374.2,991.9 L368.3,990.4 L364.0,972.9 L358.1,971.5 L350.8,964.2 L347.9,961.3 L342.1,954.0 L339.2,939.4 L333.3,943.8 L330.4,946.7 L326.0,946.7 L320.2,942.3 L312.9,946.7 L305.6,946.7 L301.3,943.8 L298.3,933.5 L294.0,933.5 L292.5,980.2 L291.0,980.2 L288.1,967.1 L282.3,964.2 L277.9,948.1 L273.5,951.0 L269.2,964.2 L266.3,965.6 L263.3,958.3 L257.5,964.2 L254.6,964.2 L251.7,968.5 L247.3,972.9 L244.4,984.6 L240.0,984.6 L236.4,964.2 L234.2,975.8 L230.5,975.8 L226.9,955.4 L222.5,948.1 L219.6,927.7 L213.8,923.3 L210.8,923.3Z" fill="#ff0000" stroke="#ff0000" stroke-width="1" stroke-linejoin="round"/>
<path d="M410.0,1026.1 L411.5,1024.7 L412.9,1026.5 L414.4,1023.3 L415.8,1024.0 L417.0,1023.6 L418.3,1020.7 L419.5,1021.0 L419.6,1018.6 L419.7,1019.5 L419.9,1015.3 L420.0,1015.1 L420.1,1013.0 L420.3,1011.3 L420.4,1009.9 L420.5,1007.3 L420.7,1007.8 L420.8,1003.8 L420.9,1003.5 L422.6,1002.2 L424.3,1001.0 L426.0,1002.1 L426.8,1002.8 L427.5,1004.7 L428.2,1006.5 L428.5,1009.4 L428.7,1009.5 L429.0,1010.3 L429.2,1012.5 L429.4,1016.5 L429.7,1016.7 L430.4,1016.7 L431.1,1020.0 L431.9,1021.0 L433.0,1019.2 L434.1,1018.6 L435.2,1016.2 L436.3,1015.2 L438.4,1015.5 L440.6,1014.5 L441.5,1015.8 L442.4,1017.6 L443.3,1019.7 L444.1,1020.0 L445.0,1021.0 L446.5,1019.4 L447.9,1018.7 L449.4,1019.6 L450.3,1019.6 L451.3,1016.6 L452.3,1015.2 L454.2,1014.2 L456.2,1016.6 L458.1,1015.2 L459.6,1015.9 L461.0,1016.9 L462.5,1016.7 L464.0,1018.4 L465.4,1017.0 L466.9,1018.1 L468.0,1018.9 L469.1,1021.9 L470.2,1020.8 L471.3,1023.2 L472.7,1023.3 L474.2,1020.5 L475.6,1021.0 L477.1,1020.2 L478.5,1018.1 L480.5,1018.8 L482.4,1019.6 L484.4,1018.1 L485.8,1020.0 L487.3,1019.6 L488.8,1019.3 L490.2,1019.9 L491.7,1021.8 L493.1,1021.1 L494.6,1020.3 L496.0,1018.2 L497.5,1018.9 L499.4,1020.1 L501.4,1018.9 L503.3,1018.9 L505.1,1019.5 L506.8,1018.0 L508.6,1018.0 L510.3,1017.3 L512.1,1018.9 L513.5,1018.9 L515.0,1019.2 L516.5,1020.3 L517.9,1021.0 L519.4,1021.4 L520.8,1023.6 L522.3,1024.5 L523.8,1024.0 L525.7,1022.9 L527.6,1023.6 L529.6,1024.0 L531.5,1022.9 L533.5,1024.5 L535.4,1024.0 L536.9,1024.5 L538.3,1021.1 L539.8,1021.0 L541.3,1022.6 L542.7,1021.9 L544.2,1023.2 L546.1,1021.4 L548.1,1023.6 L550.0,1022.5 L551.9,1021.8 L553.9,1021.0 L555.8,1021.8 L557.7,1021.6 L559.5,1020.9 L561.3,1021.5 L563.1,1021.8 L565.0,1022.0 L566.8,1022.2 L568.6,1023.2 L570.4,1023.2 L571.9,1022.0 L573.3,1020.8 L574.8,1020.2 L576.3,1019.6 L577.7,1020.3 L579.5,1020.6 L581.4,1020.2 L583.2,1021.8 L585.0,1021.0 L586.8,1021.1 L588.5,1021.7 L590.3,1022.6 L592.0,1019.6 L593.8,1021.0 L595.7,1019.7 L597.6,1020.4 L599.6,1021.8 L600.3,1022.9 L601.0,1024.9 L601.8,1026.9 L602.5,1027.6 L604.0,1026.2 L605.4,1027.2 L606.9,1024.7 L608.3,1023.5 L609.8,1025.4 L611.3,1027.0 L612.7,1025.5 L614.2,1026.9 L615.6,1028.7 L617.1,1028.0 L619.4,1029.8 L620.0,1026.8 L620.5,1028.4 L621.1,1026.2 L621.7,1025.5 L622.3,1022.5 L623.8,1022.0 L625.2,1020.0 L626.7,1021.8 L628.1,1019.6 L629.6,1018.7 L631.0,1016.8 L632.5,1017.7 L634.0,1016.7 L635.4,1015.9 L637.4,1015.6 L639.3,1014.3 L641.3,1015.2 L642.1,1015.5 L643.0,1018.4 L643.9,1019.4 L644.8,1019.8 L645.6,1022.5 L647.1,1021.8 L648.5,1022.3 L650.0,1021.0 L651.0,1023.2 L651.9,1023.9 L652.9,1025.4 L653.4,1023.6 L653.9,1022.1 L654.4,1020.2 L654.9,1018.6 L655.3,1018.0 L655.8,1016.7 L657.3,1015.1 L658.8,1016.7 L660.2,1016.2 L661.7,1015.2 L663.1,1015.9 L664.6,1014.4 L666.0,1015.9 L667.5,1016.7 L669.0,1015.7 L670.4,1013.9 L671.9,1016.0 L673.3,1013.8 L674.8,1014.0 L676.3,1012.7 L677.7,1012.8 L679.2,1011.6 L680.6,1011.0 L682.1,1011.4 L683.5,1012.7 L685.0,1013.0 L686.5,1013.3 L687.9,1012.4 L689.4,1009.8 L690.8,1010.8 L692.8,1011.0 L694.7,1011.7 L696.7,1010.1 L698.1,1010.5 L699.6,1010.7 L701.0,1010.6 L702.5,1008.6 L703.7,1006.5 L704.9,1005.6 L706.1,1005.0 L706.5,1006.6 L706.9,1009.4 L707.2,1009.0 L707.6,1012.2 L708.0,1013.4 L708.3,1013.8 L708.7,1015.3 L709.1,1017.1 L709.4,1019.6 L709.8,1019.6 L710.9,1019.0 L712.0,1016.0 L713.1,1016.3 L714.2,1013.8 L716.1,1012.5 L718.1,1012.9 L720.0,1013.0 L721.5,1015.0 L722.9,1015.2 L724.4,1014.1 L725.8,1015.2 L726.6,1013.1 L727.3,1012.7 L728.0,1011.9 L728.8,1010.0 L729.5,1009.3 L730.2,1006.5 L732.4,1006.8 L734.6,1005.7 L736.0,1007.3 L737.5,1007.2 L739.0,1006.9 L740.4,1007.9 L740.7,1009.4 L741.0,1011.4 L741.3,1013.3 L741.6,1016.0 L741.9,1016.7 L742.6,1014.5 L743.3,1012.4 L744.1,1013.0 L744.8,1010.8 L746.7,1010.1 L748.7,1010.6 L750.6,1010.8 L751.2,1008.2 L751.7,1009.0 L752.3,1005.7 L752.8,1005.0 L753.4,1005.8 L753.9,1008.9 L754.5,1009.4 L755.0,1010.8 L756.5,1010.6 L757.9,1013.1 L759.4,1012.3 L760.4,1013.5 L761.3,1014.8 L762.3,1016.7 L763.2,1019.6 L764.0,1020.5 L764.9,1021.8 L765.8,1021.7 L766.7,1024.0 L767.0,1023.3 L767.4,1021.0 L767.8,1020.1 L768.1,1017.0 L768.5,1016.7 L768.9,1015.1 L769.2,1012.1 L769.6,1010.8 L771.8,1011.3 L774.0,1010.8 L775.4,1011.0 L776.9,1011.0 L778.3,1010.0 L779.8,1007.9 L781.3,1009.8 L782.7,1008.7 L784.2,1010.8 L784.5,1012.9 L784.8,1014.9 L785.0,1014.8 L785.3,1017.7 L785.6,1019.6 L786.7,1019.7 L787.8,1018.7 L788.9,1017.7 L790.0,1015.2 L791.9,1013.9 L793.9,1015.6 L795.8,1015.2 L796.5,1014.8 L797.1,1012.6 L797.7,1009.9 L798.3,1007.5 L799.0,1008.7 L799.6,1007.0 L800.2,1004.3 L801.1,1006.1 L802.0,1006.5 L802.8,1009.3 L803.7,1010.5 L804.6,1010.8 L805.6,1013.0 L806.5,1014.1 L807.5,1015.2 L808.0,1013.2 L808.5,1011.6 L809.0,1010.4 L809.4,1008.8 L809.9,1008.0 L810.4,1006.5 L811.9,1006.3 L813.3,1009.4 L814.8,1009.3 L816.3,1010.8 L818.2,1009.7 L820.1,1010.1 L822.1,1010.8 L823.8,1010.7 L825.4,1011.0 L827.1,1012.3 L828.8,1011.6 L830.5,1010.1 L832.3,1010.4 L834.0,1010.5 L835.8,1009.9 L837.5,1010.8 L839.0,1011.1 L840.4,1008.4 L841.9,1007.6 L843.3,1008.7 L844.8,1007.9 L845.5,1007.2 L846.3,1005.0 L846.6,1007.5 L847.0,1008.1 L847.3,1008.8 L847.7,1012.1 L848.1,1013.0 L848.4,1013.7 L848.8,1015.4 L849.2,1016.7 L849.8,1016.6 L850.3,1015.3 L850.9,1013.7 L851.5,1009.7 L852.1,1009.4 L854.0,1008.8 L856.0,1009.1 L857.9,1009.4 L858.4,1009.8 L858.9,1013.1 L859.4,1012.3 L859.9,1016.5 L860.3,1016.9 L860.8,1018.1 L861.4,1017.0 L862.0,1014.9 L862.6,1015.1 L863.2,1012.5 L863.8,1010.8 L865.9,1012.1 L868.1,1010.8 L868.6,1013.6 L869.0,1014.4 L869.4,1016.8 L869.9,1016.6 L870.3,1018.1 L870.6,1016.1 L870.9,1015.9 L871.1,1013.3 L871.4,1011.0 L871.7,1010.5 L872.0,1008.2 L872.2,1005.5 L872.5,1005.0 L874.4,1005.8 L876.4,1004.5 L878.3,1004.3 L878.8,1007.4 L879.3,1007.5 L879.8,1010.4 L880.3,1009.9 L880.8,1011.3 L881.3,1013.8 L881.8,1015.3 L882.4,1017.5 L883.0,1019.2 L883.6,1020.1 L884.2,1021.0 L884.8,1018.4 L885.3,1017.8 L885.9,1015.2 L886.5,1014.8 L887.1,1013.8 L888.5,1015.7 L890.0,1014.2 L891.5,1015.2 L892.2,1017.3 L892.9,1018.5 L893.6,1018.4 L894.4,1021.6 L895.1,1021.2 L895.8,1024.0 L896.5,1021.5 L897.1,1021.3 L897.8,1018.4 L898.4,1019.6 L899.1,1016.4 L899.7,1015.6 L900.4,1015.2 L901.0,1011.0 L901.7,1010.8 L902.8,1011.3 L904.0,1007.0 L905.2,1007.7 L906.3,1006.7 L907.5,1005.0 L909.7,1003.5 L910.0,1006.7 L910.3,1006.2 L910.6,1009.7 L910.9,1010.3 L911.2,1011.4 L911.5,1012.0 L911.8,1013.8 L912.1,1015.8 L912.4,1017.3 L912.7,1018.9 L913.0,1021.9 L913.3,1022.5 L913.8,1020.6 L914.3,1020.0 L914.8,1016.7 L915.3,1015.5 L915.8,1015.9 L916.3,1013.8 L917.0,1016.5 L917.7,1016.1 L918.4,1016.6 L919.2,1018.7 L919.9,1020.6 L920.6,1022.5 L921.7,1020.6 L922.8,1019.8 L923.9,1017.5 L925.0,1016.7 L926.9,1017.1 L928.9,1017.6 L930.8,1016.7 L932.0,1018.7 L933.2,1019.8 L934.3,1020.4 L935.5,1020.6 L936.7,1022.5 L937.5,1022.1 L938.4,1018.9 L939.3,1019.3 L940.2,1016.5 L941.0,1015.2 L942.5,1016.4 L944.0,1016.7 L944.2,1018.4 L944.4,1020.6 L944.7,1021.3 L944.9,1023.7 L945.2,1025.9 L945.4,1026.9 L946.9,1027.9 L948.3,1029.8 L949.8,1031.2 L951.3,1031.8 L952.7,1033.0 L954.2,1034.2 L955.6,1034.9 L957.1,1036.5 L958.5,1038.1 L960.0,1038.5 L961.5,1038.6 L962.9,1039.6 L964.4,1042.9 L965.8,1042.9 L967.3,1042.0 L968.8,1044.6 L970.2,1044.8 L971.7,1044.4 L973.1,1043.8 L974.6,1045.5 L976.0,1044.7 L977.5,1045.8 L978.5,1045.6 L979.4,1042.0 L980.4,1041.5 L982.2,1039.9 L984.1,1039.2 L985.9,1041.1 L987.7,1040.0 L989.2,1039.5 L990.6,1040.3 L992.1,1042.8 L993.5,1042.5 L995.0,1042.2 L996.5,1042.2 L997.9,1041.0 L999.4,1040.5 L1000.8,1039.3 L1002.6,1037.6 L1004.3,1040.0 L1006.1,1038.3 L1007.8,1039.8 L1009.6,1038.5 L1011.0,1037.9 L1012.5,1039.1 L1014.0,1035.9 L1015.4,1037.1 L1017.2,1038.8 L1018.9,1036.1 L1020.7,1037.6 L1022.4,1037.6 L1024.2,1037.8 L1025.0,1037.8 L1026.8,1039.2 L1028.5,1038.2 L1030.3,1038.9 L1032.0,1038.5 L1033.8,1037.1 L1034.7,1038.3 L1035.7,1038.9 L1036.7,1041.5 L1038.1,1039.2 L1039.6,1039.9 L1041.0,1039.6 L1042.5,1037.1 L1044.0,1037.1 L1045.4,1035.6 L1046.9,1035.9 L1048.3,1035.6 L1049.8,1033.9 L1051.3,1034.2 L1053.0,1034.6 L1054.8,1032.9 L1056.5,1032.2 L1058.3,1032.2 L1060.0,1033.4 L1061.8,1033.5 L1063.5,1034.4 L1065.3,1033.0 L1067.0,1033.7 L1068.8,1034.2 L1070.5,1034.6 L1072.3,1033.1 L1074.0,1033.8 L1075.8,1033.9 L1077.5,1033.4 L1079.3,1033.1 L1081.0,1032.5 L1082.8,1034.1 L1084.5,1034.1 L1086.3,1033.4 L1087.7,1031.9 L1089.2,1033.3 L1090.6,1032.2 L1092.1,1032.3 L1093.5,1030.5 L1095.4,1031.6 L1097.2,1030.9 L1099.0,1031.8 L1100.8,1031.3 L1102.3,1031.1 L1103.8,1032.7 L1105.2,1032.7 L1106.3,1030.3 L1107.4,1030.0 L1108.5,1029.4 L1109.6,1028.3 L1110.7,1028.4 L1111.8,1026.2 L1112.9,1025.6 L1114.0,1022.5 L1115.4,1024.5 L1116.9,1025.4 L1118.3,1024.0 L1119.8,1024.1 L1121.3,1023.7 L1122.7,1022.7 L1124.2,1022.5 L1125.6,1019.9 L1127.1,1019.6 L1128.5,1021.5 L1130.0,1021.5 L1131.5,1020.4 L1132.9,1022.5 L1134.4,1020.5 L1135.8,1019.4 L1137.3,1019.6 L1137.8,1021.9 L1138.4,1022.9 L1138.9,1022.8 L1139.5,1026.2 L1140.0,1027.1 L1140.6,1027.4 L1141.1,1029.6 L1141.7,1031.3 L1142.2,1031.8 L1142.6,1026.9 L1143.1,1025.8 L1143.6,1025.8 L1144.1,1025.3 L1144.6,1022.5 L1146.0,1023.8 L1147.5,1021.4 L1149.0,1022.5 L1150.4,1021.0 L1151.1,1021.0 L1151.9,1023.5 L1152.6,1026.8 L1153.3,1026.9 L1154.8,1027.9 L1156.3,1027.4 L1157.7,1028.4 L1159.2,1028.3 L1160.6,1029.3 L1162.1,1030.4 L1163.5,1031.3 L1164.3,1033.9 L1165.0,1035.7 L1165.7,1034.7 L1166.5,1037.1 L1167.9,1038.9 L1169.4,1040.5 L1170.8,1040.0 L1172.3,1039.6 L1173.8,1038.5 L1175.2,1037.4 L1176.7,1037.0 L1178.1,1036.4 L1179.1,1035.4 L1180.1,1034.3 L1181.0,1032.7 L1182.5,1032.4 L1184.0,1036.3 L1185.4,1035.6 L1185.7,1036.6 L1185.9,1039.2 L1186.1,1039.8 L1186.4,1042.9 L1186.6,1042.8 L1186.9,1045.8 L1187.4,1043.9 L1187.9,1042.6 L1188.3,1040.9 L1188.8,1040.0 L1189.3,1037.5 L1189.8,1037.1 L1191.6,1037.4 L1193.4,1038.8 L1195.3,1038.6 L1197.1,1038.5 L1199.0,1040.3 L1201.0,1040.5 L1202.9,1039.3 L1204.4,1039.6 L1205.8,1039.9 L1207.3,1041.2 L1208.8,1040.7 L1210.2,1042.3 L1211.7,1041.6 L1213.1,1042.4 L1214.6,1042.8 L1216.0,1042.6 L1217.5,1042.9 L1219.0,1043.3 L1220.4,1043.3 L1221.9,1043.8 L1223.3,1044.4 L1225.3,1044.1 L1227.2,1044.9 L1229.2,1043.6 L1230.0,1043.6 L1231.5,1043.2 L1232.9,1043.6 L1234.4,1046.8 L1235.8,1046.1 L1237.3,1047.3 L1238.8,1047.3 L1240.2,1047.5 L1241.7,1045.9 L1243.1,1044.2 L1244.6,1042.9 L1246.3,1044.2 L1248.1,1043.0 L1249.8,1042.3 L1251.6,1041.3 L1253.3,1042.2 L1254.8,1041.5 L1256.3,1043.9 L1257.7,1044.6 L1259.2,1043.2 L1260.6,1044.1 L1262.1,1044.4 L1263.8,1045.2 L1265.4,1045.1 L1267.1,1044.3 L1268.8,1046.5 L1270.4,1045.6 L1272.1,1046.3 L1273.8,1045.8 L1275.5,1046.7 L1277.3,1046.2 L1279.0,1047.4 L1280.8,1046.0 L1282.5,1047.3 L1284.3,1047.2 L1286.0,1047.2 L1287.8,1046.8 L1289.5,1045.5 L1291.3,1045.8 L1293.0,1044.8 L1294.8,1044.6 L1296.5,1044.6 L1298.3,1044.8 L1300.0,1045.8 L1301.5,1046.3 L1302.9,1047.0 L1304.4,1048.0 L1305.8,1047.6 L1307.3,1049.1 L1308.8,1048.8 L1309.7,1048.5 L1310.7,1050.7 L1311.7,1052.4 L1313.1,1049.7 L1314.6,1049.5 L1316.3,1049.2 L1318.1,1049.1 L1319.8,1048.9 L1321.6,1048.1 L1323.3,1048.0 L1325.1,1047.6 L1326.8,1047.5 L1328.6,1046.8 L1330.3,1047.0 L1332.1,1048.0 L1333.8,1047.8 L1335.6,1047.9 L1337.3,1046.3 L1339.1,1048.5 L1340.8,1047.3 L1342.6,1046.1 L1344.3,1046.7 L1346.1,1048.0 L1347.8,1047.9 L1349.6,1048.8 L1351.3,1048.9 L1352.9,1049.6 L1354.6,1049.4 L1356.3,1050.1 L1357.9,1049.2 L1359.6,1049.9 L1361.3,1049.5 L1362.7,1048.8 L1364.2,1047.4 L1365.6,1046.8 L1367.1,1046.7 L1368.5,1047.3 L1370.4,1047.3 L1372.2,1046.9 L1374.0,1048.0 L1375.8,1048.0 L1377.5,1048.6 L1379.2,1049.4 L1380.8,1046.9 L1382.5,1049.5 L1384.2,1046.4 L1385.8,1049.3 L1387.5,1048.0 L1389.0,1049.9 L1390.4,1048.3 L1391.9,1050.1 L1393.3,1049.5 L1395.0,1049.5 L1396.7,1049.7 L1398.3,1050.6 L1400.0,1050.9 L1401.7,1048.8 L1403.3,1048.6 L1405.0,1049.5 L1406.8,1050.7 L1408.5,1049.5 L1410.3,1050.3 L1412.0,1048.0 L1413.8,1048.8 L1415.5,1050.0 L1417.3,1048.0 L1419.0,1048.1 L1420.8,1048.7 L1422.5,1049.5 L1424.3,1050.7 L1426.0,1048.8 L1427.8,1048.9 L1429.5,1048.2 L1431.3,1048.8 L1432.7,1046.3 L1434.2,1046.6 L1435.6,1047.1 L1437.1,1048.0 L1438.5,1048.2 L1440.0,1049.5 L1441.9,1050.0 L1443.9,1048.4 L1445.8,1048.8" fill="none" stroke="#ff0000" stroke-width="4.5" stroke-linejoin="round" stroke-linecap="round"/>
<path d="M730.0,1006.1 L731.0,1007.8 L732.0,1006.4 L733.0,1007.9 L734.0,1006.2 L735.0,1008.0 L736.0,1006.5 L737.0,1008.5 L738.0,1007.1 L739.0,1009.9 L740.0,1007.1 L741.0,1017.5 L742.0,1010.0 L743.0,1018.4 L744.0,1010.5 L745.0,1017.7 L746.0,1009.9 L747.0,1012.4 L748.0,1008.5 L749.0,1015.2 L750.0,1005.6 L751.0,1018.5 L752.0,1005.4 L753.0,1016.6 L754.0,1006.9 L755.0,1015.6 L756.0,1007.0 L757.0,1014.4 L758.0,1011.4 L759.0,1016.6 L760.0,1012.1 L761.0,1018.4 L762.0,1014.1 L763.0,1021.3 L764.0,1013.9 L765.0,1024.3 L766.0,1012.1 L767.0,1021.4 L768.0,1011.1 L769.0,1020.5 L770.0,1011.3 L771.0,1020.1 L772.0,1010.1 L773.0,1017.6 L774.0,1010.8 L775.0,1017.4 L776.0,1009.8 L777.0,1016.1 L778.0,1007.7 L779.0,1015.2 L780.0,1009.7 L781.0,1016.5 L782.0,1009.2 L783.0,1017.1 L784.0,1009.9 L785.0,1017.6 L786.0,1012.0 L787.0,1020.1 L788.0,1011.0 L789.0,1018.5 L790.0,1012.6 L791.0,1017.9 L792.0,1011.0 L793.0,1015.1 L794.0,1010.9 L795.0,1015.0 L796.0,1007.0 L797.0,1014.1 L798.0,1007.8 L799.0,1013.0 L800.0,1007.4 L801.0,1013.9 L802.0,1007.5 L803.0,1014.8 L804.0,1007.5 L805.0,1015.7 L806.0,1009.2 L807.0,1016.9 L808.0,1008.8 L809.0,1015.1 L810.0,1008.8 L811.0,1015.0 L812.0,1010.6 L813.0,1014.1 L814.0,1011.2 L815.0,1013.8 L816.0,1011.5 L817.0,1013.4 L818.0,1011.1 L819.0,1012.7 L820.0,1011.0 L821.0,1011.8 L822.0,1010.8 L823.0,1011.9 L824.0,1010.3 L825.0,1011.7 L826.0,1010.6 L827.0,1011.5 L828.0,1010.6 L829.0,1011.4 L830.0,1010.4 L831.0,1011.4 L832.0,1010.6 L833.0,1011.4 L834.0,1010.2 L835.0,1011.7 L836.0,1010.1 L837.0,1011.6 L838.0,1010.2 L839.0,1011.6 L840.0,1009.9 L841.0,1012.1 L842.0,1008.4 L843.0,1013.6 L844.0,1008.4 L845.0,1012.8 L846.0,1008.6 L847.0,1015.6 L848.0,1010.3 L849.0,1018.7 L850.0,1012.4 L851.0,1018.4 L852.0,1010.0 L853.0,1016.1 L854.0,1010.2 L855.0,1016.0 L856.0,1009.5 L857.0,1016.3 L858.0,1010.0 L859.0,1015.5 L860.0,1010.5 L861.0,1014.1 L862.0,1009.6 L863.0,1013.9 L864.0,1009.8 L865.0,1013.9 L866.0,1009.5 L867.0,1014.9 L868.0,1009.2 L869.0,1017.4 L870.0,1007.4 L871.0,1018.4 L872.0,1005.8 L873.0,1019.6 L874.0,1006.2 L875.0,1018.1 L876.0,1006.9 L877.0,1017.3 L878.0,1005.5 L879.0,1023.9 L880.0,1006.8 L881.0,1020.8 L882.0,1012.6 L883.0,1020.4 L884.0,1013.1 L885.0,1020.3 L886.0,1013.8 L887.0,1018.8 L888.0,1013.1 L889.0,1018.3 L890.0,1014.8 L891.0,1019.3 L892.0,1015.1 L893.0,1020.6 L894.0,1017.1 L895.0,1023.6 L896.0,1015.0 L897.0,1023.6 L898.0,1013.5 L899.0,1022.3 L900.0,1012.8 L901.0,1023.4 L902.0,1012.1 L903.0,1019.4 L904.0,1008.3 L905.0,1018.8 L906.0,1008.2 L907.0,1016.7 L908.0,1006.8 L909.0,1015.9 L910.0,1003.4 L911.0,1020.7 L912.0,1005.9 L913.0,1018.1 L914.0,1008.5 L915.0,1021.5 L916.0,1011.4 L917.0,1022.5 L918.0,1016.1 L919.0,1022.2 L920.0,1014.4 L921.0,1023.0 L922.0,1014.5 L923.0,1024.8 L924.0,1015.8 L925.0,1022.3 L926.0,1017.0 L927.0,1022.2 L928.0,1017.6 L929.0,1022.6 L930.0,1018.3 L931.0,1022.7 L932.0,1019.6 L933.0,1023.6 L934.0,1019.7 L935.0,1023.3 L936.0,1017.3 L937.0,1023.4 L938.0,1017.4 L939.0,1022.7 L940.0,1015.4 L941.0,1027.2 L942.0,1016.4 L943.0,1026.5 L944.0,1020.1 L945.0,1029.3 L946.0,1023.5 L947.0,1031.4 L948.0,1026.8 L949.0,1031.6 L950.0,1030.5 L951.0,1033.4 L952.0,1032.5 L953.0,1035.5 L954.0,1033.7 L955.0,1037.0 L956.0,1035.8 L957.0,1038.0 L958.0,1036.8 L959.0,1040.5 L960.0,1039.0 L961.0,1041.7 L962.0,1039.8 L963.0,1044.4 L964.0,1041.1 L965.0,1044.5 L966.0,1042.2 L967.0,1044.8 L968.0,1043.3 L969.0,1045.0 L970.0,1044.1" fill="none" stroke="#ff0000" stroke-width="3" stroke-linejoin="miter" stroke-linecap="butt"/>
<path d="M210.8,1041.5 L215.2,1041.5 L222.5,1040.0 L225.4,1034.2 L226.9,1019.6 L229.8,1015.2 L234.2,1021.0 L240.0,1028.3 L244.4,1031.3 L248.8,1026.9 L253.1,1024.0 L256.0,994.8 L260.4,984.6 L263.3,975.8 L269.2,974.4 L270.6,956.9 L275.0,954.0 L277.9,961.3 L282.3,965.6 L286.7,967.1 L289.6,981.7 L292.5,999.2 L295.4,1000.6 L298.3,1016.7 L304.2,1019.6 L310.0,1021.0 L312.9,1028.3 L317.3,1028.3 L321.7,1032.7 L326.0,1029.8 L330.4,1026.9 L334.8,1031.3 L339.2,1040.0 L342.1,1032.7 L345.0,1031.3 L347.9,1021.0 L350.8,1022.5 L356.7,1022.5 L359.6,1019.6 L364.0,1026.9 L366.9,1022.5 L369.8,1016.7 L374.2,1015.2 L375.6,1031.3 L378.5,1041.5 L382.9,1048.8 L388.8,1047.3 L394.6,1051.7 L400.4,1048.8 L406.3,1041.5 L409.2,1045.8 L415.0,1045.8 L415.0,1051.7 L406.3,1056.0 L400.4,1054.6 L394.6,1057.5 L388.8,1056.0 L382.9,1053.1 L377.1,1051.7 L374.2,1040.0 L371.3,1028.3 L368.3,1026.9 L364.0,1031.3 L359.6,1032.7 L355.2,1032.7 L349.4,1040.0 L346.5,1048.8 L342.1,1048.8 L336.3,1045.8 L331.9,1045.8 L327.5,1041.5 L321.7,1040.0 L315.8,1037.1 L310.0,1034.2 L307.1,1031.3 L301.3,1034.2 L295.4,1031.3 L292.5,1016.7 L288.1,1000.6 L286.7,984.6 L282.3,986.0 L279.4,984.6 L276.5,987.5 L272.1,987.5 L267.7,993.3 L263.3,1002.1 L260.4,1010.8 L259.0,1028.3 L256.0,1031.3 L251.7,1037.1 L245.8,1042.9 L240.0,1038.5 L234.2,1037.1 L229.8,1035.6 L226.9,1045.8 L224.0,1048.8 L221.0,1057.5 L218.1,1045.8 L213.8,1050.2 L210.8,1059.0Z" fill="#00ff00" stroke="#00ff00" stroke-width="1" stroke-linejoin="round"/>
<path d="M410.0,1053.1 L411.5,1052.0 L412.9,1050.8 L414.4,1050.2 L415.8,1048.6 L417.3,1050.4 L418.8,1048.8 L419.5,1045.7 L420.2,1045.8 L420.9,1045.7 L421.7,1042.9 L423.1,1041.1 L424.6,1042.1 L426.0,1041.5 L426.6,1043.3 L427.2,1042.9 L427.8,1045.4 L428.4,1047.9 L429.0,1048.8 L429.3,1050.3 L429.5,1053.0 L429.8,1052.9 L430.1,1054.9 L430.4,1057.5 L431.5,1057.7 L432.6,1060.4 L433.7,1063.2 L434.8,1063.3 L436.3,1064.0 L437.7,1065.0 L439.2,1064.5 L440.7,1064.1 L442.2,1065.3 L443.8,1063.2 L445.3,1063.8 L446.8,1065.1 L448.4,1065.2 L449.9,1064.3 L451.4,1063.2 L453.0,1063.8 L454.5,1063.6 L456.1,1063.8 L457.6,1065.5 L459.1,1063.5 L460.7,1065.7 L462.2,1065.7 L463.7,1063.1 L465.3,1064.1 L466.8,1064.5 L468.3,1064.5 L469.9,1063.0 L471.4,1064.3 L472.9,1065.8 L474.5,1063.3 L476.0,1064.8 L477.5,1063.3 L479.1,1064.8 L480.6,1065.8 L482.2,1063.6 L483.7,1062.9 L485.2,1063.2 L486.8,1064.6 L488.3,1063.0 L489.8,1063.2 L491.4,1064.5 L492.9,1065.9 L494.4,1064.2 L496.0,1064.2 L497.5,1064.9 L499.0,1063.2 L500.6,1064.8 L502.1,1063.5 L503.6,1064.9 L505.2,1066.0 L506.7,1063.1 L508.2,1064.7 L509.8,1064.8 L511.3,1063.4 L512.9,1063.8 L514.4,1066.1 L515.9,1066.1 L517.5,1063.3 L519.0,1065.2 L520.5,1065.9 L522.1,1063.7 L523.6,1064.9 L525.1,1063.0 L526.7,1064.5 L528.2,1064.1 L529.7,1065.1 L531.3,1064.8 L532.8,1065.4 L534.3,1063.2 L535.9,1064.0 L537.4,1065.7 L539.0,1064.8 L540.5,1064.3 L542.0,1064.2 L543.6,1066.1 L545.1,1064.7 L546.6,1063.0 L548.2,1065.5 L549.7,1064.0 L551.2,1064.3 L552.8,1063.6 L554.3,1064.3 L555.8,1063.9 L557.4,1063.2 L558.9,1064.9 L560.4,1063.2 L562.0,1065.4 L563.5,1063.0 L565.0,1065.4 L566.6,1065.5 L568.1,1064.5 L569.7,1065.2 L571.2,1063.7 L572.7,1065.3 L574.3,1064.3 L575.8,1063.6 L577.3,1066.0 L578.9,1064.2 L580.4,1064.1 L581.9,1065.7 L583.5,1064.1 L585.0,1064.5 L586.6,1065.0 L588.1,1063.5 L589.7,1065.6 L591.3,1063.7 L592.9,1063.1 L594.4,1066.0 L596.0,1063.5 L597.6,1065.9 L599.1,1066.1 L600.7,1064.8 L602.3,1062.9 L603.9,1063.1 L605.4,1064.5 L606.9,1062.9 L608.3,1062.8 L609.8,1062.9 L611.3,1061.9 L612.7,1062.9 L614.2,1060.4 L615.6,1060.4 L617.1,1059.7 L619.0,1058.9 L620.8,1060.4 L622.3,1061.5 L623.8,1061.1 L625.2,1061.8 L626.7,1064.1 L628.4,1064.0 L630.1,1064.2 L631.8,1061.9 L633.5,1062.9 L635.2,1063.5 L636.9,1062.6 L638.7,1063.8 L640.5,1063.0 L642.3,1064.9 L644.2,1064.1 L645.8,1063.0 L647.4,1064.8 L649.0,1064.9 L650.6,1065.3 L652.3,1064.0 L653.9,1062.8 L655.5,1062.6 L657.1,1064.2 L658.8,1064.1 L660.3,1063.0 L661.8,1064.5 L663.4,1062.7 L664.9,1065.0 L666.4,1063.2 L668.0,1062.5 L669.5,1063.0 L671.0,1063.9 L672.6,1064.3 L674.1,1063.7 L675.6,1063.0 L677.2,1064.0 L678.7,1065.5 L680.2,1064.2 L681.8,1065.5 L683.3,1062.6 L684.8,1065.6 L686.4,1065.3 L687.9,1064.1 L689.5,1064.2 L691.2,1064.1 L692.8,1064.2 L694.4,1065.4 L696.0,1062.7 L697.6,1064.5 L699.3,1064.2 L700.9,1063.4 L702.5,1064.1 L702.8,1063.1 L703.1,1061.4 L703.4,1057.7 L703.7,1057.9 L704.0,1055.4 L704.3,1053.9 L706.1,1053.8 L707.9,1054.3 L709.8,1053.9 L709.9,1054.0 L710.0,1057.3 L710.2,1058.2 L710.3,1061.4 L710.4,1060.9 L710.5,1063.3 L712.2,1064.7 L713.8,1064.7 L715.4,1064.6 L717.1,1064.5 L718.6,1065.7 L720.2,1063.0 L721.8,1064.8 L723.3,1064.9 L724.9,1065.1 L726.5,1064.2 L728.0,1063.1 L729.6,1063.5 L731.1,1064.8 L732.7,1063.5 L734.3,1063.1 L735.8,1064.0 L737.4,1064.4 L739.0,1064.5 L740.4,1064.0 L741.9,1061.7 L743.3,1063.4 L744.8,1061.9 L745.8,1059.9 L746.7,1059.9 L747.7,1057.5 L748.2,1054.5 L748.7,1056.0 L749.2,1053.4 L749.7,1053.2 L750.1,1051.8 L750.6,1048.8 L752.1,1049.3 L753.5,1046.5 L755.0,1047.3 L756.5,1047.5 L757.9,1047.9 L759.4,1050.4 L760.8,1050.2 L762.3,1048.7 L763.8,1048.3 L765.2,1048.8 L767.4,1047.5 L769.6,1048.8 L770.1,1049.0 L770.6,1053.1 L771.0,1054.7 L771.5,1054.2 L772.0,1056.8 L772.5,1057.5 L774.0,1057.9 L775.4,1058.5 L776.9,1059.0 L778.8,1058.5 L780.8,1059.4 L782.7,1059.0 L782.8,1056.6 L782.9,1055.1 L783.0,1054.3 L783.1,1051.7 L783.2,1051.0 L783.3,1051.0 L783.4,1046.5 L783.5,1045.2 L783.6,1045.9 L783.8,1041.9 L783.9,1041.0 L784.0,1041.3 L784.1,1039.0 L784.2,1037.1 L785.6,1035.5 L787.1,1034.2 L788.5,1034.2 L790.0,1034.2 L791.1,1035.0 L792.2,1038.0 L793.3,1040.1 L794.4,1040.0 L795.8,1040.2 L797.3,1039.8 L798.8,1039.2 L800.2,1037.1 L800.8,1039.7 L801.4,1041.3 L802.0,1043.0 L802.5,1041.6 L803.1,1044.4 L803.7,1042.3 L804.3,1040.7 L804.9,1040.3 L805.5,1038.5 L806.0,1037.1 L807.5,1037.3 L809.0,1038.5 L809.6,1041.1 L810.2,1041.1 L810.8,1042.0 L811.5,1043.7 L812.1,1045.7 L812.7,1047.6 L813.3,1048.8 L814.3,1050.2 L815.3,1051.0 L816.3,1051.4 L817.2,1053.3 L818.2,1054.3 L819.2,1056.0 L820.6,1055.6 L822.1,1057.2 L823.8,1057.2 L825.4,1056.0 L827.1,1057.6 L828.8,1056.8 L830.5,1057.4 L832.3,1055.9 L834.0,1057.6 L835.8,1056.8 L837.5,1057.5 L839.0,1056.6 L840.4,1056.4 L841.9,1056.2 L843.3,1054.6 L844.1,1054.4 L844.8,1052.4 L845.5,1049.3 L846.3,1048.8 L848.2,1048.9 L850.1,1048.2 L852.1,1048.8 L853.5,1046.1 L855.0,1046.7 L856.5,1045.4 L857.9,1044.4 L858.9,1044.1 L859.9,1040.9 L860.8,1040.0 L861.6,1042.5 L862.3,1043.0 L863.0,1043.1 L863.8,1045.8 L864.2,1045.1 L864.7,1042.2 L865.2,1041.6 L865.7,1038.6 L866.2,1037.0 L866.7,1037.1 L867.2,1039.9 L867.6,1038.5 L868.1,1040.3 L868.6,1041.8 L869.1,1043.1 L869.6,1045.8 L871.8,1046.9 L874.0,1045.8 L874.1,1045.8 L874.3,1043.2 L874.5,1040.8 L874.7,1040.8 L874.9,1038.0 L875.1,1035.2 L875.2,1035.4 L875.4,1032.7 L875.6,1030.9 L875.8,1029.5 L876.0,1028.1 L876.1,1026.9 L878.3,1026.9 L878.7,1027.5 L879.1,1030.5 L879.4,1033.0 L879.8,1033.7 L880.2,1033.5 L880.5,1037.3 L880.9,1036.8 L881.3,1040.0 L882.0,1041.4 L882.7,1044.1 L883.4,1044.9 L884.2,1045.8 L885.6,1047.9 L887.1,1048.1 L888.5,1047.3 L890.0,1048.8 L891.5,1047.2 L892.9,1047.9 L894.4,1048.2 L895.8,1047.3 L897.3,1045.7 L898.8,1045.3 L900.2,1045.9 L901.7,1044.4 L903.1,1043.2 L904.6,1043.2 L906.0,1042.3 L907.5,1041.5 L908.1,1041.4 L908.7,1037.0 L909.3,1036.1 L909.8,1036.5 L910.4,1034.2 L910.7,1036.3 L911.1,1036.1 L911.4,1037.9 L911.7,1039.7 L912.0,1042.4 L912.4,1045.2 L912.7,1044.6 L913.0,1046.2 L913.3,1048.8 L915.3,1049.3 L917.2,1048.5 L919.2,1048.8 L920.6,1050.6 L922.1,1051.8 L923.5,1052.3 L925.0,1051.7 L926.5,1052.7 L927.9,1052.4 L929.4,1051.4 L930.8,1053.1 L932.3,1054.5 L933.8,1053.5 L935.2,1054.1 L936.7,1054.6 L937.4,1053.6 L938.1,1053.2 L938.9,1050.4 L939.6,1050.1 L940.3,1048.8 L941.0,1045.8 L941.5,1046.0 L942.0,1048.3 L942.5,1051.5 L943.0,1052.5 L943.5,1054.6 L944.0,1054.6 L945.4,1054.2 L946.9,1055.9 L948.3,1057.7 L949.8,1057.0 L951.3,1057.5 L953.0,1058.0 L954.8,1059.0 L956.5,1056.5 L958.3,1056.1 L960.0,1057.5 L961.9,1058.6 L963.9,1057.8 L965.8,1057.5 L967.6,1056.8 L969.3,1059.2 L971.1,1057.7 L972.8,1057.5 L974.6,1059.0 L976.5,1058.1 L978.5,1057.0 L980.4,1058.2 L982.2,1057.9 L984.1,1059.1 L985.9,1058.1 L987.7,1058.2 L989.5,1059.5 L991.4,1056.4 L993.2,1056.6 L995.0,1057.5 L996.5,1055.9 L997.9,1056.8 L999.4,1055.1 L1000.8,1056.1 L1002.3,1055.1 L1003.8,1054.6 L1005.2,1055.6 L1006.7,1057.1 L1008.1,1057.7 L1009.6,1057.5 L1011.3,1058.7 L1013.1,1056.1 L1014.8,1056.7 L1016.6,1058.4 L1018.3,1056.8 L1020.3,1056.2 L1022.2,1055.6 L1024.2,1056.0 L1025.0,1057.5 L1026.8,1057.4 L1028.5,1056.5 L1030.3,1058.6 L1032.0,1057.9 L1033.8,1057.5 L1035.7,1056.2 L1037.6,1059.0 L1039.6,1057.5 L1041.0,1056.8 L1042.5,1055.3 L1044.0,1055.7 L1045.4,1054.6 L1046.9,1056.4 L1048.3,1054.8 L1049.8,1054.1 L1051.3,1055.1 L1052.7,1055.0 L1054.2,1056.8 L1055.9,1056.9 L1057.7,1056.2 L1059.4,1057.9 L1061.2,1055.8 L1062.9,1056.8 L1064.7,1055.1 L1066.4,1056.4 L1068.2,1055.1 L1069.9,1055.6 L1071.7,1056.0 L1073.3,1055.1 L1075.0,1054.8 L1076.7,1056.2 L1078.3,1057.0 L1080.0,1055.1 L1081.7,1055.9 L1083.3,1055.3 L1084.8,1054.4 L1086.3,1055.9 L1087.7,1054.4 L1089.2,1052.4 L1090.6,1054.3 L1092.1,1053.1 L1093.8,1052.2 L1095.6,1051.7 L1097.3,1051.6 L1099.1,1054.2 L1100.8,1053.1 L1102.6,1053.7 L1104.3,1052.4 L1106.1,1052.9 L1107.8,1053.2 L1109.6,1052.4 L1111.0,1050.5 L1112.5,1052.0 L1114.0,1051.4 L1115.4,1050.2 L1116.9,1052.0 L1118.3,1049.5 L1119.8,1051.5 L1121.3,1051.7 L1122.7,1052.1 L1124.2,1053.8 L1125.6,1052.2 L1127.1,1053.1 L1129.0,1053.8 L1131.0,1054.7 L1132.9,1053.1 L1134.1,1051.4 L1135.3,1050.9 L1136.4,1051.2 L1137.6,1046.6 L1138.8,1047.3 L1139.3,1050.6 L1139.9,1049.5 L1140.5,1051.5 L1141.1,1052.3 L1141.7,1054.6 L1142.4,1054.3 L1143.1,1051.8 L1143.9,1051.2 L1144.6,1047.2 L1145.3,1048.8 L1146.0,1045.8 L1147.5,1046.1 L1149.0,1044.6 L1150.4,1042.9 L1151.9,1042.2 L1153.3,1042.7 L1154.8,1043.8 L1156.3,1044.4 L1158.2,1042.6 L1160.1,1046.2 L1162.1,1044.4 L1163.5,1045.0 L1165.0,1048.1 L1166.5,1047.3 L1167.6,1047.1 L1168.6,1050.1 L1169.7,1051.8 L1170.8,1051.7 L1172.8,1052.1 L1174.7,1051.4 L1176.7,1051.7 L1178.1,1049.8 L1179.6,1050.7 L1181.0,1050.2 L1182.5,1050.2 L1184.0,1052.0 L1185.4,1052.5 L1186.9,1052.8 L1188.3,1051.7 L1190.3,1053.2 L1192.2,1050.6 L1194.2,1051.7 L1196.1,1050.2 L1198.1,1051.0 L1200.0,1051.7 L1201.5,1050.5 L1202.9,1051.2 L1204.4,1053.0 L1205.8,1053.1 L1207.3,1052.7 L1208.8,1054.5 L1210.2,1054.2 L1211.7,1054.3 L1213.1,1057.1 L1214.6,1056.0 L1216.3,1055.3 L1218.1,1057.9 L1219.8,1057.0 L1221.6,1057.7 L1223.3,1057.5 L1225.3,1056.4 L1227.2,1058.3 L1229.2,1057.5 L1230.0,1057.5 L1231.9,1058.7 L1233.9,1056.5 L1235.8,1057.5 L1237.3,1058.4 L1238.8,1059.9 L1240.2,1060.4 L1241.7,1059.1 L1243.1,1058.8 L1244.6,1056.8 L1246.3,1056.9 L1248.1,1055.6 L1249.8,1056.5 L1251.6,1056.5 L1253.3,1055.3 L1254.8,1055.7 L1256.3,1056.6 L1257.7,1057.2 L1259.2,1057.2 L1260.6,1056.4 L1262.1,1058.2 L1263.8,1058.0 L1265.4,1059.3 L1267.1,1059.3 L1268.8,1057.3 L1270.4,1058.7 L1272.1,1059.1 L1273.8,1059.0 L1275.5,1058.9 L1277.3,1057.5 L1279.0,1059.0 L1280.8,1059.0 L1282.5,1058.2 L1284.3,1058.6 L1286.0,1060.2 L1287.8,1059.4 L1289.5,1057.8 L1291.3,1059.7 L1293.0,1058.7 L1294.8,1059.8 L1296.5,1057.5 L1298.3,1060.0 L1300.0,1058.2 L1301.9,1058.6 L1303.9,1058.6 L1305.8,1057.5 L1307.3,1057.0 L1308.8,1057.0 L1310.2,1060.3 L1311.7,1059.7 L1313.1,1059.2 L1314.6,1058.4 L1316.0,1058.1 L1317.5,1057.5 L1319.0,1058.7 L1320.4,1057.8 L1321.9,1059.5 L1323.3,1059.0 L1325.1,1057.7 L1326.8,1060.2 L1328.6,1059.2 L1330.3,1057.8 L1332.1,1058.2 L1333.8,1058.0 L1335.6,1059.2 L1337.3,1057.2 L1339.1,1058.3 L1340.8,1057.5 L1342.6,1059.0 L1344.3,1059.3 L1346.1,1057.2 L1347.8,1059.0 L1349.6,1058.2 L1351.3,1058.7 L1353.1,1059.5 L1354.8,1057.3 L1356.6,1058.5 L1358.3,1059.0 L1360.1,1058.5 L1361.8,1059.4 L1363.6,1057.9 L1365.3,1056.3 L1367.1,1057.5 L1368.8,1056.4 L1370.6,1058.3 L1372.3,1058.3 L1374.1,1057.2 L1375.8,1056.8 L1377.3,1056.0 L1378.8,1058.7 L1380.2,1059.6 L1381.7,1059.0 L1383.4,1058.1 L1385.2,1058.6 L1386.9,1057.9 L1388.7,1056.9 L1390.4,1058.2 L1392.2,1058.8 L1393.9,1056.8 L1395.7,1056.5 L1397.4,1059.0 L1399.2,1057.5 L1400.9,1056.5 L1402.7,1058.9 L1404.4,1059.4 L1406.2,1057.9 L1407.9,1059.0 L1409.7,1058.4 L1411.4,1057.8 L1413.2,1059.2 L1414.9,1059.9 L1416.7,1058.2 L1418.4,1059.3 L1420.2,1058.8 L1421.9,1059.2 L1423.7,1059.1 L1425.4,1059.7 L1426.9,1060.0 L1428.3,1058.2 L1429.8,1057.8 L1431.3,1058.9 L1432.7,1057.1 L1434.2,1057.5 L1435.8,1058.9 L1437.5,1057.8 L1439.2,1055.9 L1440.8,1055.1 L1442.5,1056.8 L1444.2,1055.1 L1445.8,1056.0" fill="none" stroke="#00ff00" stroke-width="4.5" stroke-linejoin="round" stroke-linecap="round"/>
<path d="M730.0,1064.6 L731.0,1064.6 L732.0,1064.6 L733.0,1064.6 L734.0,1064.6 L735.0,1064.6 L736.0,1064.6 L737.0,1064.6 L738.0,1064.6 L739.0,1064.6 L740.0,1064.2 L741.0,1063.9 L742.0,1063.6 L743.0,1063.2 L744.0,1062.9 L745.0,1062.6 L746.0,1061.7 L747.0,1061.1 L748.0,1059.5 L749.0,1059.2 L750.0,1055.8 L751.0,1057.7 L752.0,1049.4 L753.0,1055.0 L754.0,1048.4 L755.0,1054.0 L756.0,1047.6 L757.0,1053.2 L758.0,1049.2 L759.0,1052.9 L760.0,1047.7 L761.0,1052.6 L762.0,1049.5 L763.0,1053.9 L764.0,1049.6 L765.0,1055.3 L766.0,1049.2 L767.0,1054.5 L768.0,1049.3 L769.0,1054.6 L770.0,1051.0 L771.0,1056.8 L772.0,1053.2 L773.0,1057.1 L774.0,1055.4 L775.0,1057.7 L776.0,1055.9 L777.0,1058.0 L778.0,1056.0 L779.0,1057.7 L780.0,1051.7 L781.0,1056.4 L782.0,1045.7 L783.0,1053.9 L784.0,1042.2 L785.0,1050.1 L786.0,1039.6 L787.0,1046.3 L788.0,1034.9 L789.0,1044.4 L790.0,1034.8 L791.0,1043.8 L792.0,1035.0 L793.0,1040.5 L794.0,1037.2 L795.0,1040.5 L796.0,1036.5 L797.0,1039.2 L798.0,1036.9 L799.0,1039.3 L800.0,1036.8 L801.0,1040.4 L802.0,1036.0 L803.0,1041.5 L804.0,1035.8 L805.0,1042.1 L806.0,1037.5 L807.0,1043.5 L808.0,1039.6 L809.0,1044.2 L810.0,1042.1 L811.0,1046.1 L812.0,1045.1 L813.0,1048.5 L814.0,1047.6 L815.0,1051.1 L816.0,1049.8 L817.0,1053.6 L818.0,1051.6 L819.0,1056.1 L820.0,1054.1 L821.0,1056.4 L822.0,1055.0 L823.0,1057.5 L824.0,1055.1 L825.0,1057.9 L826.0,1056.5 L827.0,1057.6 L828.0,1056.1 L829.0,1057.2 L830.0,1055.3 L831.0,1056.9 L832.0,1055.2 L833.0,1056.6 L834.0,1054.2 L835.0,1056.7 L836.0,1053.8 L837.0,1055.7 L838.0,1053.6 L839.0,1054.6 L840.0,1052.3 L841.0,1054.1 L842.0,1050.5 L843.0,1053.2 L844.0,1049.6 L845.0,1051.3 L846.0,1049.1 L847.0,1050.9 L848.0,1048.3 L849.0,1050.1 L850.0,1047.8 L851.0,1049.5 L852.0,1046.7 L853.0,1048.4 L854.0,1046.3 L855.0,1048.0 L856.0,1045.6 L857.0,1047.8 L858.0,1043.3 L859.0,1047.1 L860.0,1042.4 L861.0,1046.4 L862.0,1041.0 L863.0,1047.0 L864.0,1040.8 L865.0,1048.1 L866.0,1040.1 L867.0,1045.3 L868.0,1039.5 L869.0,1046.3 L870.0,1038.3 L871.0,1046.9 L872.0,1035.3 L873.0,1047.5 L874.0,1032.3 L875.0,1044.5 L876.0,1030.9 L877.0,1042.2 L878.0,1029.5 L879.0,1047.8 L880.0,1028.4 L881.0,1044.5 L882.0,1036.9 L883.0,1045.6 L884.0,1039.1 L885.0,1046.7 L886.0,1040.7 L887.0,1045.9 L888.0,1040.5 L889.0,1045.5 L890.0,1042.2 L891.0,1046.3 L892.0,1042.3 L893.0,1047.1 L894.0,1043.8 L895.0,1048.8 L896.0,1042.2 L897.0,1049.8 L898.0,1041.2 L899.0,1049.5 L900.0,1041.0 L901.0,1051.3 L902.0,1041.4 L903.0,1049.4 L904.0,1039.4 L905.0,1049.9 L906.0,1040.7 L907.0,1048.5 L908.0,1039.5 L909.0,1046.3 L910.0,1036.0 L911.0,1049.0 L912.0,1038.0 L913.0,1046.9 L914.0,1042.4 L915.0,1049.0 L916.0,1047.1 L917.0,1049.6 L918.0,1048.0 L919.0,1049.7 L920.0,1047.4 L921.0,1050.4 L922.0,1047.2 L923.0,1051.5 L924.0,1047.7 L925.0,1050.8 L926.0,1048.3 L927.0,1050.9 L928.0,1048.7 L929.0,1051.2 L930.0,1049.0 L931.0,1051.1 L932.0,1049.4 L933.0,1051.4 L934.0,1049.1 L935.0,1050.9 L936.0,1048.5 L937.0,1050.7 L938.0,1048.6 L939.0,1049.7 L940.0,1047.8 L941.0,1049.4 L942.0,1047.3 L943.0,1048.2 L944.0,1048.4 L945.0,1050.3 L946.0,1050.3 L947.0,1052.3 L948.0,1051.9 L949.0,1053.9 L950.0,1053.6 L951.0,1056.0 L952.0,1055.3 L953.0,1057.7 L954.0,1055.3 L955.0,1058.1 L956.0,1056.4 L957.0,1058.0 L958.0,1056.2 L959.0,1058.9 L960.0,1056.9 L961.0,1058.4 L962.0,1056.6 L963.0,1058.9 L964.0,1056.8 L965.0,1058.3 L966.0,1056.6 L967.0,1058.1 L968.0,1056.5 L969.0,1057.8 L970.0,1056.1" fill="none" stroke="#00ff00" stroke-width="3" stroke-linejoin="miter" stroke-linecap="butt"/>
</g>
<line x1="705.5" y1="89.5" x2="705.5" y2="742.5" stroke="#000" stroke-width="4" stroke-dasharray="10 4" stroke-dashoffset="4.2" shape-rendering="crispEdges"/>
<g shape-rendering="crispEdges">
<line x1="208.5" y1="118.5" x2="220.5" y2="118.5" stroke="#000" stroke-width="4"/>
<line x1="1437.5" y1="118.5" x2="1449.5" y2="118.5" stroke="#000" stroke-width="4"/>
<line x1="208.5" y1="183.5" x2="220.5" y2="183.5" stroke="#000" stroke-width="4"/>
<line x1="1437.5" y1="183.5" x2="1449.5" y2="183.5" stroke="#000" stroke-width="4"/>
<line x1="208.5" y1="248.5" x2="220.5" y2="248.5" stroke="#000" stroke-width="4"/>
<line x1="1437.5" y1="248.5" x2="1449.5" y2="248.5" stroke="#000" stroke-width="4"/>
<line x1="518.5" y1="89.5" x2="518.5" y2="102.5" stroke="#000" stroke-width="5"/>
<line x1="518.5" y1="239.5" x2="518.5" y2="252.5" stroke="#000" stroke-width="5"/>
<line x1="828.5" y1="89.5" x2="828.5" y2="102.5" stroke="#000" stroke-width="5"/>
<line x1="828.5" y1="239.5" x2="828.5" y2="252.5" stroke="#000" stroke-width="5"/>
<line x1="1138.5" y1="89.5" x2="1138.5" y2="102.5" stroke="#000" stroke-width="5"/>
<line x1="1138.5" y1="239.5" x2="1138.5" y2="252.5" stroke="#000" stroke-width="5"/>
<rect x="208.5" y="89.5" width="1241.0" height="163.0" fill="none" stroke="#000" stroke-width="5"/>
</g>
<g shape-rendering="crispEdges">
<line x1="208.5" y1="276.5" x2="220.5" y2="276.5" stroke="#000" stroke-width="4"/>
<line x1="1437.5" y1="276.5" x2="1449.5" y2="276.5" stroke="#000" stroke-width="4"/>
<line x1="208.5" y1="330" x2="220.5" y2="330" stroke="#000" stroke-width="4"/>
<line x1="1437.5" y1="330" x2="1449.5" y2="330" stroke="#000" stroke-width="4"/>
<line x1="208.5" y1="385.5" x2="220.5" y2="385.5" stroke="#000" stroke-width="4"/>
<line x1="1437.5" y1="385.5" x2="1449.5" y2="385.5" stroke="#000" stroke-width="4"/>
<line x1="518.5" y1="253.5" x2="518.5" y2="266.5" stroke="#000" stroke-width="5"/>
<line x1="518.5" y1="402.5" x2="518.5" y2="415.5" stroke="#000" stroke-width="5"/>
<line x1="828.5" y1="253.5" x2="828.5" y2="266.5" stroke="#000" stroke-width="5"/>
<line x1="828.5" y1="402.5" x2="828.5" y2="415.5" stroke="#000" stroke-width="5"/>
<line x1="1138.5" y1="253.5" x2="1138.5" y2="266.5" stroke="#000" stroke-width="5"/>
<line x1="1138.5" y1="402.5" x2="1138.5" y2="415.5" stroke="#000" stroke-width="5"/>
<rect x="208.5" y="253.5" width="1241.0" height="162.0" fill="none" stroke="#000" stroke-width="5"/>
</g>
<g shape-rendering="crispEdges">
<line x1="208.5" y1="439.5" x2="220.5" y2="439.5" stroke="#000" stroke-width="4"/>
<line x1="1437.5" y1="439.5" x2="1449.5" y2="439.5" stroke="#000" stroke-width="4"/>
<line x1="208.5" y1="471.5" x2="220.5" y2="471.5" stroke="#000" stroke-width="4"/>
<line x1="1437.5" y1="471.5" x2="1449.5" y2="471.5" stroke="#000" stroke-width="4"/>
<line x1="208.5" y1="504" x2="220.5" y2="504" stroke="#000" stroke-width="4"/>
<line x1="1437.5" y1="504" x2="1449.5" y2="504" stroke="#000" stroke-width="4"/>
<line x1="208.5" y1="537" x2="220.5" y2="537" stroke="#000" stroke-width="4"/>
<line x1="1437.5" y1="537" x2="1449.5" y2="537" stroke="#000" stroke-width="4"/>
<line x1="208.5" y1="570" x2="220.5" y2="570" stroke="#000" stroke-width="4"/>
<line x1="1437.5" y1="570" x2="1449.5" y2="570" stroke="#000" stroke-width="4"/>
<line x1="518.5" y1="416.5" x2="518.5" y2="429.5" stroke="#000" stroke-width="5"/>
<line x1="518.5" y1="565.5" x2="518.5" y2="578.5" stroke="#000" stroke-width="5"/>
<line x1="828.5" y1="416.5" x2="828.5" y2="429.5" stroke="#000" stroke-width="5"/>
<line x1="828.5" y1="565.5" x2="828.5" y2="578.5" stroke="#000" stroke-width="5"/>
<line x1="1138.5" y1="416.5" x2="1138.5" y2="429.5" stroke="#000" stroke-width="5"/>
<line x1="1138.5" y1="565.5" x2="1138.5" y2="578.5" stroke="#000" stroke-width="5"/>
<rect x="208.5" y="416.5" width="1241.0" height="162.0" fill="none" stroke="#000" stroke-width="5"/>
</g>
<g shape-rendering="crispEdges">
<line x1="208.5" y1="579.5" x2="220.5" y2="579.5" stroke="#000" stroke-width="4"/>
<line x1="1437.5" y1="579.5" x2="1449.5" y2="579.5" stroke="#000" stroke-width="4"/>
<line x1="208.5" y1="674" x2="220.5" y2="674" stroke="#000" stroke-width="4"/>
<line x1="1437.5" y1="674" x2="1449.5" y2="674" stroke="#000" stroke-width="4"/>
<line x1="518.5" y1="580.5" x2="518.5" y2="593.5" stroke="#000" stroke-width="5"/>
<line x1="518.5" y1="729.5" x2="518.5" y2="742.5" stroke="#000" stroke-width="5"/>
<line x1="828.5" y1="580.5" x2="828.5" y2="593.5" stroke="#000" stroke-width="5"/>
<line x1="828.5" y1="729.5" x2="828.5" y2="742.5" stroke="#000" stroke-width="5"/>
<line x1="1138.5" y1="580.5" x2="1138.5" y2="593.5" stroke="#000" stroke-width="5"/>
<line x1="1138.5" y1="729.5" x2="1138.5" y2="742.5" stroke="#000" stroke-width="5"/>
<rect x="208.5" y="580.5" width="1241.0" height="162.0" fill="none" stroke="#000" stroke-width="5"/>
</g>
<g shape-rendering="crispEdges">
<line x1="208.5" y1="782.5" x2="220.5" y2="782.5" stroke="#000" stroke-width="4"/>
<line x1="1437.5" y1="782.5" x2="1449.5" y2="782.5" stroke="#000" stroke-width="4"/>
<line x1="208.5" y1="843.5" x2="220.5" y2="843.5" stroke="#000" stroke-width="4"/>
<line x1="1437.5" y1="843.5" x2="1449.5" y2="843.5" stroke="#000" stroke-width="4"/>
<line x1="208.5" y1="907" x2="220.5" y2="907" stroke="#000" stroke-width="4"/>
<line x1="1437.5" y1="907" x2="1449.5" y2="907" stroke="#000" stroke-width="4"/>
<line x1="518.5" y1="743.5" x2="518.5" y2="756.5" stroke="#000" stroke-width="5"/>
<line x1="518.5" y1="892.5" x2="518.5" y2="905.5" stroke="#000" stroke-width="5"/>
<line x1="828.5" y1="743.5" x2="828.5" y2="756.5" stroke="#000" stroke-width="5"/>
<line x1="828.5" y1="892.5" x2="828.5" y2="905.5" stroke="#000" stroke-width="5"/>
<line x1="1138.5" y1="743.5" x2="1138.5" y2="756.5" stroke="#000" stroke-width="5"/>
<line x1="1138.5" y1="892.5" x2="1138.5" y2="905.5" stroke="#000" stroke-width="5"/>
<rect x="208.5" y="743.5" width="1241.0" height="162.0" fill="none" stroke="#000" stroke-width="5"/>
</g>
<g shape-rendering="crispEdges">
<line x1="208.5" y1="907.5" x2="220.5" y2="907.5" stroke="#000" stroke-width="4"/>
<line x1="1437.5" y1="907.5" x2="1449.5" y2="907.5" stroke="#000" stroke-width="4"/>
<line x1="208.5" y1="988" x2="220.5" y2="988" stroke="#000" stroke-width="4"/>
<line x1="1437.5" y1="988" x2="1449.5" y2="988" stroke="#000" stroke-width="4"/>
<line x1="208.5" y1="1068" x2="220.5" y2="1068" stroke="#000" stroke-width="4"/>
<line x1="1437.5" y1="1068" x2="1449.5" y2="1068" stroke="#000" stroke-width="4"/>
<line x1="518.5" y1="906.5" x2="518.5" y2="919.5" stroke="#000" stroke-width="5"/>
<line x1="518.5" y1="1055.5" x2="518.5" y2="1068.5" stroke="#000" stroke-width="5"/>
<line x1="828.5" y1="906.5" x2="828.5" y2="919.5" stroke="#000" stroke-width="5"/>
<line x1="828.5" y1="1055.5" x2="828.5" y2="1068.5" stroke="#000" stroke-width="5"/>
<line x1="1138.5" y1="906.5" x2="1138.5" y2="919.5" stroke="#000" stroke-width="5"/>
<line x1="1138.5" y1="1055.5" x2="1138.5" y2="1068.5" stroke="#000" stroke-width="5"/>
<rect x="208.5" y="906.5" width="1241.0" height="162.0" fill="none" stroke="#000" stroke-width="5"/>
</g>
<filter id="bin" x="0" y="0" width="1601" height="1200" filterUnits="userSpaceOnUse"><feComponentTransfer><feFuncA type="discrete" tableValues="0 1"/></feComponentTransfer></filter>
<g filter="url(#bin)">
<text x="200" y="130.0" font-size="34.5" text-anchor="end">100</text>
<text x="200" y="195.0" font-size="34.5" text-anchor="end">0</text>
<text x="200" y="260.0" font-size="34.5" text-anchor="end">-100</text>
<text x="200" y="288.0" font-size="34.5" text-anchor="end">1000</text>
<text x="200" y="341.5" font-size="34.5" text-anchor="end">0</text>
<text x="200" y="397.0" font-size="34.5" text-anchor="end">-1000</text>
<text x="200" y="451.0" font-size="34.5" text-anchor="end">8</text>
<text x="200" y="483.0" font-size="34.5" text-anchor="end">6</text>
<text x="200" y="515.5" font-size="34.5" text-anchor="end">4</text>
<text x="200" y="548.5" font-size="34.5" text-anchor="end">2</text>
<text x="200" y="581.5" font-size="34.5" text-anchor="end">0</text>
<text x="200" y="591.0" font-size="34.5" text-anchor="end">0</text>
<text x="200" y="685.5" font-size="34.5" text-anchor="end">-5</text>
<text x="200" y="794.0" font-size="34.5" text-anchor="end">10</text>
<text x="200" y="855.0" font-size="34.5" text-anchor="end">5</text>
<text x="200" y="918.5" font-size="34.5" text-anchor="end">0</text>
<text x="200" y="919.0" font-size="34.5" text-anchor="end">0.2</text>
<text x="200" y="999.5" font-size="34.5" text-anchor="end">0.1</text>
<text x="200" y="1079.5" font-size="34.5" text-anchor="end">0</text>
<text transform="translate(71,171.7) rotate(-90)" font-size="34.5" text-anchor="middle">Sym-H</text>
<text transform="translate(111,173.2) rotate(-90)" font-size="34.5" text-anchor="middle">Asy-H</text>
<text transform="translate(51.7,335.4) rotate(-90)" font-size="34.5" text-anchor="middle">AU/AL</text>
<text transform="translate(92,330) rotate(-90)" font-size="34.5" text-anchor="middle">(nT)</text>
<text transform="translate(121.2,495.9) rotate(-90)" font-size="34.5" text-anchor="middle">PC Index</text>
<text transform="translate(108.75,660.6) rotate(-90)" font-size="34.5" text-anchor="middle">Ey gsm</text>
<text transform="translate(149.25,662.5) rotate(-90)" font-size="34.5" text-anchor="middle">(mV/m)</text>
<text transform="translate(85.75,858.3) rotate(-90)" font-size="34.5" text-anchor="start">P</text>
<text transform="translate(101.8,835.8) rotate(-90)" font-size="27.5" text-anchor="start">dyn</text>
<text transform="translate(141.7,829.9) rotate(-90)" font-size="34.5" text-anchor="middle">(nP)</text>
<text transform="translate(75.75,1014.2) rotate(-90)" font-size="34.5" text-anchor="start">P</text>
<text transform="translate(91.8,992.5) rotate(-90)" font-size="27.5" text-anchor="start">tot</text>
<text transform="translate(131.7,992.8) rotate(-90)" font-size="34.5" text-anchor="middle">(nP)</text>
<text x="144.5" y="1096.6" font-size="24.3" stroke="#000" stroke-width="0.85" lengthAdjust="spacingAndGlyphs" textLength="127">2000/10/13</text>
<text x="168.5" y="1126.6" font-size="24.3" stroke="#000" stroke-width="0.85" lengthAdjust="spacingAndGlyphs" textLength="49.5">17.0</text>
<text x="179.3" y="1156.5" font-size="24.3" stroke="#000" stroke-width="0.85" lengthAdjust="spacingAndGlyphs" textLength="36">0.0</text>
<text x="179.3" y="1186.2" font-size="24.3" stroke="#000" stroke-width="0.85" lengthAdjust="spacingAndGlyphs" textLength="36">0.0</text>
<text x="454.5" y="1096.6" font-size="24.3" stroke="#000" stroke-width="0.85" lengthAdjust="spacingAndGlyphs" textLength="127">2000/10/14</text>
<text x="478.5" y="1126.6" font-size="24.3" stroke="#000" stroke-width="0.85" lengthAdjust="spacingAndGlyphs" textLength="49.5">17.0</text>
<text x="489.3" y="1156.5" font-size="24.3" stroke="#000" stroke-width="0.85" lengthAdjust="spacingAndGlyphs" textLength="36">0.0</text>
<text x="489.3" y="1186.2" font-size="24.3" stroke="#000" stroke-width="0.85" lengthAdjust="spacingAndGlyphs" textLength="36">0.0</text>
<text x="764.5" y="1096.6" font-size="24.3" stroke="#000" stroke-width="0.85" lengthAdjust="spacingAndGlyphs" textLength="127">2000/10/15</text>
<text x="788.5" y="1126.6" font-size="24.3" stroke="#000" stroke-width="0.85" lengthAdjust="spacingAndGlyphs" textLength="49.5">17.0</text>
<text x="799.3" y="1156.5" font-size="24.3" stroke="#000" stroke-width="0.85" lengthAdjust="spacingAndGlyphs" textLength="36">0.0</text>
<text x="799.3" y="1186.2" font-size="24.3" stroke="#000" stroke-width="0.85" lengthAdjust="spacingAndGlyphs" textLength="36">0.0</text>
<text x="1074.5" y="1096.6" font-size="24.3" stroke="#000" stroke-width="0.85" lengthAdjust="spacingAndGlyphs" textLength="127">2000/10/16</text>
<text x="1098.5" y="1126.6" font-size="24.3" stroke="#000" stroke-width="0.85" lengthAdjust="spacingAndGlyphs" textLength="49.5">17.0</text>
<text x="1109.3" y="1156.5" font-size="24.3" stroke="#000" stroke-width="0.85" lengthAdjust="spacingAndGlyphs" textLength="36">0.0</text>
<text x="1109.3" y="1186.2" font-size="24.3" stroke="#000" stroke-width="0.85" lengthAdjust="spacingAndGlyphs" textLength="36">0.0</text>
<text x="1385.5" y="1096.6" font-size="24.3" stroke="#000" stroke-width="0.85" lengthAdjust="spacingAndGlyphs" textLength="127">2000/10/17</text>
<text x="1409.5" y="1126.6" font-size="24.3" stroke="#000" stroke-width="0.85" lengthAdjust="spacingAndGlyphs" textLength="49.5">17.0</text>
<text x="1420.3" y="1156.5" font-size="24.3" stroke="#000" stroke-width="0.85" lengthAdjust="spacingAndGlyphs" textLength="36">0.0</text>
<text x="1420.3" y="1186.2" font-size="24.3" stroke="#000" stroke-width="0.85" lengthAdjust="spacingAndGlyphs" textLength="36">0.0</text>
</g>
</svg></body></html>
